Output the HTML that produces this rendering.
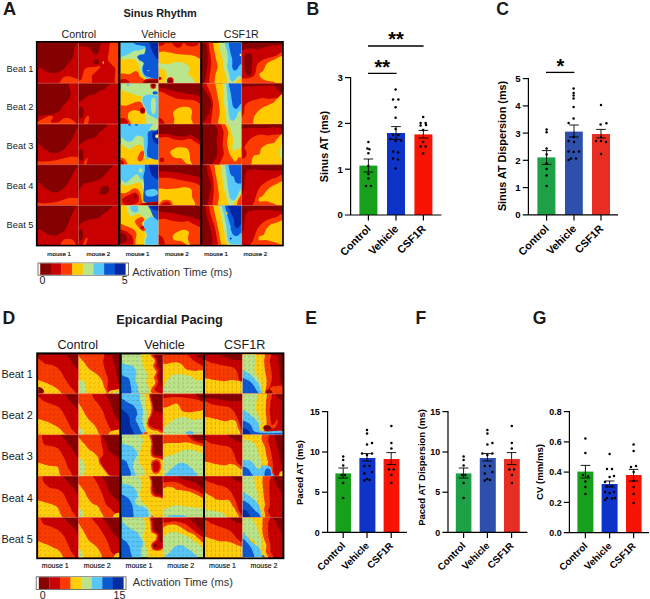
<!DOCTYPE html>
<html lang="en"><head><meta charset="utf-8"><title>Figure</title>
<style>html,body{margin:0;padding:0;background:#fff}svg{display:block}</style></head><body>
<svg width="650" height="599" viewBox="0 0 650 599">
<rect width="650" height="599" fill="#fff"/>
<defs><filter id="soft" x="-2%" y="-2%" width="104%" height="104%"><feGaussianBlur stdDeviation="0.45"/></filter></defs>
<text x="2.9" y="15.2" font-size="18.2" font-family="Liberation Sans, sans-serif" font-weight="bold" text-anchor="start" fill="#1a1a1a">A</text>
<text x="306.4" y="15.2" font-size="17.6" font-family="Liberation Sans, sans-serif" font-weight="bold" text-anchor="start" fill="#1a1a1a">B</text>
<text x="496.2" y="15.2" font-size="17.6" font-family="Liberation Sans, sans-serif" font-weight="bold" text-anchor="start" fill="#1a1a1a">C</text>
<text x="2.4" y="323.6" font-size="17.6" font-family="Liberation Sans, sans-serif" font-weight="bold" text-anchor="start" fill="#1a1a1a">D</text>
<text x="305.2" y="324.3" font-size="17.6" font-family="Liberation Sans, sans-serif" font-weight="bold" text-anchor="start" fill="#1a1a1a">E</text>
<text x="415.6" y="324.3" font-size="17.6" font-family="Liberation Sans, sans-serif" font-weight="bold" text-anchor="start" fill="#1a1a1a">F</text>
<text x="532.8" y="324.3" font-size="17.6" font-family="Liberation Sans, sans-serif" font-weight="bold" text-anchor="start" fill="#1a1a1a">G</text>
<text x="160.2" y="17.1" font-size="10.9" font-family="Liberation Sans, sans-serif" font-weight="bold" text-anchor="middle" fill="#1a1a1a">Sinus Rhythm</text>
<text x="78.8" y="37.7" font-size="10.7" font-family="Liberation Sans, sans-serif" text-anchor="middle" fill="#1a1a1a">Control</text>
<text x="158.6" y="37.7" font-size="10.7" font-family="Liberation Sans, sans-serif" text-anchor="middle" fill="#1a1a1a">Vehicle</text>
<text x="241.3" y="37.7" font-size="10.7" font-family="Liberation Sans, sans-serif" text-anchor="middle" fill="#1a1a1a">CSF1R</text>
<text x="6.6" y="71.8" font-size="9.3" font-family="Liberation Sans, sans-serif" text-anchor="start" fill="#1a1a1a">Beat 1</text>
<text x="6.6" y="110.4" font-size="9.3" font-family="Liberation Sans, sans-serif" text-anchor="start" fill="#1a1a1a">Beat 2</text>
<text x="6.6" y="149.4" font-size="9.3" font-family="Liberation Sans, sans-serif" text-anchor="start" fill="#1a1a1a">Beat 3</text>
<text x="6.6" y="188.6" font-size="9.3" font-family="Liberation Sans, sans-serif" text-anchor="start" fill="#1a1a1a">Beat 4</text>
<text x="6.6" y="227.5" font-size="9.3" font-family="Liberation Sans, sans-serif" text-anchor="start" fill="#1a1a1a">Beat 5</text>
<rect x="35.9" y="41" width="247.9" height="205.4" fill="#000"/>
<g filter="url(#soft)">
<svg x="37.6" y="42.7" width="40.8" height="40.5" viewBox="0 0 100 100" preserveAspectRatio="none">
<rect x="-1" y="-1" width="102" height="102" fill="#c80303"/>
<path d="M-5 -5C10.5 -15.5 72.17 -8.33 88 -5C103.83 -1.67 90.33 8.33 90 15C89.67 21.67 88.5 28.83 86 35C83.5 41.17 79.33 46.5 75 52C70.67 57.5 65.5 64.17 60 68C54.5 71.83 48.33 74.33 42 75C35.67 75.67 27.67 74.17 22 72C16.33 69.83 12.5 64.33 8 62C3.5 59.67 -2.83 69.17 -5 58C-7.17 46.83 -20.5 5.5 -5 -5Z" fill="#850000"/>
<path d="M57 105C49.17 102.83 56.83 95.33 58 92C59.17 88.67 60.67 86.5 64 85C67.33 83.5 73.67 82.67 78 83C82.33 83.33 85.5 85.5 90 87C94.5 88.5 102.5 89 105 92C107.5 95 113 102.83 105 105C97 107.17 64.83 107.17 57 105Z" fill="#fb3a02"/>
</svg>
<svg x="78.4" y="42.7" width="40" height="40.5" viewBox="0 0 100 100" preserveAspectRatio="none">
<rect x="-1" y="-1" width="102" height="102" fill="#c80303"/>
<path d="M-5 -5C4.5 -7.5 42.17 -7.5 52 -5C61.83 -2.5 54.33 5 54 10C53.67 15 52 21.67 50 25C48 28.33 44.67 30.5 42 30C39.33 29.5 36.83 25 34 22C31.17 19 29 14.33 25 12C21 9.67 15 8.33 10 8C5 7.67 -2.5 12.17 -5 10C-7.5 7.83 -14.5 -2.5 -5 -5Z" fill="#850000"/>
<ellipse cx="45" cy="47" rx="7" ry="7" fill="#850000"/>
<path d="M82 -5C86.83 -10 101.17 -22 105 -5C108.83 12 107.33 80 105 97C102.67 114 93.17 102.33 91 97C88.83 91.67 93.17 72 92 65C90.83 58 87 58.83 84 55C81 51.17 75.33 47 74 42C72.67 37 74.67 32.83 76 25C77.33 17.17 77.17 0 82 -5Z" fill="#fb3a02"/>
<path d="M17 64C22.33 59 33.67 60.83 40 60C46.33 59.17 54 57.33 55 59C56 60.67 49.5 66.17 46 70C42.5 73.83 36.5 76.17 34 82C31.5 87.83 37.5 101.17 31 105C24.5 108.83 1 106.67 -5 105C-11 103.33 -7.17 97.5 -5 95C-2.83 92.5 4.33 95.17 8 90C11.67 84.83 11.67 69 17 64Z" fill="#fb3a02"/>
<ellipse cx="62" cy="49" rx="1.5" ry="4" fill="#ffcb02"/>
</svg>
<svg x="120.4" y="42.7" width="38.2" height="40.5" viewBox="0 0 100 100" preserveAspectRatio="none">
<rect x="-1" y="-1" width="102" height="102" fill="#b9e58c"/>
<path d="M-5 42C-2.5 33.67 5 42.33 10 42C15 41.67 20.33 40 25 40C29.67 40 34.5 40.33 38 42C41.5 43.67 44 46.67 46 50C48 53.33 48.67 58 50 62C51.33 66 52.33 70.67 54 74C55.67 77.33 58.67 79 60 82C61.33 85 72.83 90.33 62 92C51.17 93.67 6.17 100.33 -5 92C-16.17 83.67 -7.5 50.33 -5 42Z" fill="#ffcb02"/>
<path d="M-5 80C-2.5 75.17 5.5 76.33 10 76C14.5 75.67 18.17 78.5 22 78C25.83 77.5 30 74.33 33 73C36 71.67 37.67 69.83 40 70C42.33 70.17 45.33 72 47 74C48.67 76 48.17 79.67 50 82C51.83 84.33 55.33 86.33 58 88C60.67 89.67 58.17 91.33 66 92C73.83 92.67 98.5 89.83 105 92C111.5 94.17 123.33 102.83 105 105C86.67 107.17 13.33 109.17 -5 105C-23.33 100.83 -7.5 84.83 -5 80Z" fill="#fb3a02"/>
<path d="M-5 93C-1.67 90.5 10 88.83 15 90C20 91.17 23.83 97.5 25 100C26.17 102.5 27 104.17 22 105C17 105.83 -0.5 107 -5 105C-9.5 103 -8.33 95.5 -5 93Z" fill="#c80303"/>
<path d="M60 105C52.83 103 60 95.67 62 93C64 90.33 67.33 89.67 72 89C76.67 88.33 84.5 88.83 90 89C95.5 89.17 102.5 87.33 105 90C107.5 92.67 112.5 102.5 105 105C97.5 107.5 67.17 107 60 105Z" fill="#c80303"/>
<path d="M64 105C57.5 103.5 64.17 98 66 96C67.83 94 71 93.5 75 93C79 92.5 85 92.83 90 93C95 93.17 102.5 92 105 94C107.5 96 111.83 103.17 105 105C98.17 106.83 70.5 106.5 64 105Z" fill="#850000"/>
<path d="M-5 -5C7.17 -11.33 56.17 -7.83 68 -5C79.83 -2.17 69 8 66 12C63 16 55.5 17.5 50 19C44.5 20.5 38.33 19.17 33 21C27.67 22.83 24.33 28 18 30C11.67 32 -1.17 38.83 -5 33C-8.83 27.17 -17.17 1.33 -5 -5Z" fill="#56c8fa"/>
<path d="M46 34C44 32 57.33 25.33 60 28C62.67 30.67 62.67 44.33 62 50C61.33 55.67 56.67 57.33 56 62C55.33 66.67 56.33 74 58 78C59.67 82 63.33 84.67 66 86C68.67 87.33 73 93.67 74 86C75 78.33 76.67 48.67 72 40C67.33 31.33 48 36 46 34Z" fill="#56c8fa"/>
<path d="M64 -5C70.5 -8.17 98.17 -19.5 105 -5C111.83 9.5 110.5 67.17 105 82C99.5 96.83 79.33 85 72 84C64.67 83 63.33 79.67 61 76C58.67 72.33 58 66.33 58 62C58 57.67 62.17 53 61 50C59.83 47 53.83 46.33 51 44C48.17 41.67 44 38.33 44 36C44 33.67 48 31.33 51 30C54 28.67 59.5 30.67 62 28C64.5 25.33 65.67 19.5 66 14C66.33 8.5 57.5 -1.83 64 -5Z" fill="#0858d6"/>
<path d="M34 -5C45.17 -6.33 93.17 -6.83 105 -5C116.83 -3.17 111.17 3.83 105 6C98.83 8.17 77.17 8 68 8C58.83 8 55 6.83 50 6C45 5.17 40.67 4.83 38 3C35.33 1.17 22.83 -3.67 34 -5Z" fill="#0858d6"/>
<path d="M78 -5C82.17 -7.83 100.5 -12.5 105 -5C109.5 2.5 106.83 32.83 105 40C103.17 47.17 97.17 40.33 94 38C90.83 35.67 88.33 30.33 86 26C83.67 21.67 81.33 17.17 80 12C78.67 6.83 73.83 -2.17 78 -5Z" fill="#0428a4"/>
<ellipse cx="73" cy="69" rx="2.5" ry="1.2" fill="#ffffff"/>
</svg>
<svg x="158.6" y="42.7" width="41.8" height="40.5" viewBox="0 0 100 100" preserveAspectRatio="none">
<rect x="-1" y="-1" width="102" height="102" fill="#ffcb02"/>
<path d="M-5 -5C13.33 -9.5 86.67 -12.17 105 -5C123.33 2.17 108.33 31.83 105 38C101.67 44.17 91.67 33.33 85 32C78.33 30.67 71.67 30.67 65 30C58.33 29.33 51.67 29 45 28C38.33 27 30.83 25 25 24C19.17 23 15 22.33 10 22C5 21.67 -2.5 26.5 -5 22C-7.5 17.5 -23.33 -0.5 -5 -5Z" fill="#fb3a02"/>
<path d="M32 -5C35.67 -6.83 54.17 -7.17 58 -5C61.83 -2.83 57.17 5.17 55 8C52.83 10.83 48.17 12.33 45 12C41.83 11.67 38.17 8.83 36 6C33.83 3.17 28.33 -3.17 32 -5Z" fill="#c80303"/>
<path d="M62 -5C66.83 -6.67 90 -6.83 95 -5C100 -3.17 94.83 3.67 92 6C89.17 8.33 82.33 9.17 78 9C73.67 8.83 68.67 7.33 66 5C63.33 2.67 57.17 -3.33 62 -5Z" fill="#c80303"/>
<path d="M-5 -5C-1.67 -7.17 12.17 -6.67 15 -5C17.83 -3.33 15.33 2.83 12 5C8.67 7.17 -2.17 9.67 -5 8C-7.83 6.33 -8.33 -2.83 -5 -5Z" fill="#c80303"/>
<path d="M-5 50C-2.5 48.67 5.5 51.5 10 52C14.5 52.5 16.67 53.67 22 53C27.33 52.33 35.5 48.5 42 48C48.5 47.5 55.67 47.5 61 50C66.33 52.5 72.33 58.33 74 63C75.67 67.67 69.83 73.83 71 78C72.17 82.17 79 83.5 81 88C83 92.5 93.5 102.17 83 105C72.5 107.83 28.5 108.67 18 105C7.5 101.33 20.5 89.17 20 83C19.5 76.83 19.17 71.83 15 68C10.83 64.17 -1.67 63 -5 60C-8.33 57 -7.5 51.33 -5 50Z" fill="#b9e58c"/>
<ellipse cx="28" cy="94" rx="8" ry="9" fill="#c80303"/>
<ellipse cx="28" cy="95" rx="5" ry="6" fill="#850000"/>
<ellipse cx="3" cy="88" rx="4" ry="4" fill="#c80303"/>
</svg>
<svg x="202.4" y="42.7" width="39.3" height="40.5" viewBox="0 0 100 100" preserveAspectRatio="none">
<rect x="-1" y="-1" width="102" height="102" fill="#ffcb02"/>
<path d="M42 -5C52.5 -6.17 94.5 -23.33 105 -5C115.5 13.33 111.5 86.67 105 105C98.5 123.33 73.17 107.5 66 105C58.83 102.5 63.17 94.33 62 90C60.83 85.67 60.33 84 59 79C57.67 74 55.17 66.17 54 60C52.83 53.83 53.33 48.17 52 42C50.67 35.83 47.67 29.67 46 23C44.33 16.33 42.67 6.67 42 2C41.33 -2.67 31.5 -3.83 42 -5Z" fill="#b9e58c"/>
<path d="M85 105C82.17 103 84.67 95.5 88 93C91.33 90.5 102.17 88 105 90C107.83 92 108.33 102.5 105 105C101.67 107.5 87.83 107 85 105Z" fill="#ffcb02"/>
<path d="M57 -5C65 -6.17 97 -18.83 105 -5C113 8.83 107.17 63.5 105 78C102.83 92.5 95.5 80 92 82C88.5 84 86.67 87.67 84 90C81.33 92.33 78.33 96.33 76 96C73.67 95.67 71.17 90.83 70 88C68.83 85.17 70.17 83.67 69 79C67.83 74.33 63.67 66.17 63 60C62.33 53.83 65 48.17 65 42C65 35.83 64.33 29.67 63 23C61.67 16.33 58 6.67 57 2C56 -2.67 49 -3.83 57 -5Z" fill="#56c8fa"/>
<path d="M67 -5C73.33 -6.17 98.67 -14.17 105 -5C111.33 4.17 106.5 40.17 105 50C103.5 59.83 98.83 51.33 96 54C93.17 56.67 90.67 63.67 88 66C85.33 68.33 82 69 80 68C78 67 76.67 64.33 76 60C75.33 55.67 76.83 48.17 76 42C75.17 35.83 72.5 29.67 71 23C69.5 16.33 67.67 6.67 67 2C66.33 -2.67 60.67 -3.83 67 -5Z" fill="#0858d6"/>
<ellipse cx="97" cy="30" rx="2.2" ry="3" fill="#ffffff"/>
<path d="M-5 -5C0.33 -23.33 21.67 -6.17 27 -5C32.33 -3.83 26.33 -2.67 27 2C27.67 6.67 29.67 16.33 31 23C32.33 29.67 33.67 35.83 35 42C36.33 48.17 39.33 53.83 39 60C38.67 66.17 34.33 73 33 79C31.67 85 31.33 91.67 31 96C30.67 100.33 37 103.5 31 105C25 106.5 1 123.33 -5 105C-11 86.67 -10.33 13.33 -5 -5Z" fill="#fb3a02"/>
<path d="M-5 -5C-1.5 -23.33 12.5 -6.17 16 -5C19.5 -3.83 15.5 -2.67 16 2C16.5 6.67 18 16.33 19 23C20 29.67 21.5 35.83 22 42C22.5 48.17 22.5 53.83 22 60C21.5 66.17 19.83 73 19 79C18.17 85 17.33 91.67 17 96C16.67 100.33 20.67 103.5 17 105C13.33 106.5 -1.33 123.33 -5 105C-8.67 86.67 -8.5 13.33 -5 -5Z" fill="#c80303"/>
<path d="M-5 -5C-2.5 -23.33 7.5 -6.17 10 -5C12.5 -3.83 9.5 -2.67 10 2C10.5 6.67 12.33 16.33 13 23C13.67 29.67 14.17 35.83 14 42C13.83 48.17 12.83 53.83 12 60C11.17 66.17 10 73 9 79C8 85 6.5 91.67 6 96C5.5 100.33 7.83 103.5 6 105C4.17 106.5 -3.17 123.33 -5 105C-6.83 86.67 -7.5 13.33 -5 -5Z" fill="#850000"/>
</svg>
<svg x="241.7" y="42.7" width="40.4" height="40.5" viewBox="0 0 100 100" preserveAspectRatio="none">
<rect x="-1" y="-1" width="102" height="102" fill="#c80303"/>
<path d="M105 28C101.67 15.83 91.67 30.33 85 32C78.33 33.67 71.17 35.83 65 38C58.83 40.17 52.5 42.17 48 45C43.5 47.83 40.17 50.83 38 55C35.83 59.17 36.33 65.5 35 70C33.67 74.5 33.33 79 30 82C26.67 85 20.83 86.67 15 88C9.17 89.33 -1.67 87.17 -5 90C-8.33 92.83 -23.33 102.5 -5 105C13.33 107.5 86.67 117.83 105 105C123.33 92.17 108.33 40.17 105 28Z" fill="#fb3a02"/>
<path d="M105 36C100.83 26.67 87.17 39.33 80 42C72.83 44.67 66.33 47.67 62 52C57.67 56.33 57 63.67 54 68C51 72.33 44.33 74.33 44 78C43.67 81.67 46.83 87 52 90C57.17 93 66.17 94.67 75 96C83.83 97.33 100 108 105 98C110 88 109.17 45.33 105 36Z" fill="#ffcb02"/>
<path d="M-5 -5C13.33 -8.83 86.67 -6.67 105 -5C123.33 -3.33 109.17 3.17 105 5C100.83 6.83 87.5 5.17 80 6C72.5 6.83 66.67 8.33 60 10C53.33 11.67 46.67 15.33 40 16C33.33 16.67 27.5 13.67 20 14C12.5 14.33 -0.83 21.17 -5 18C-9.17 14.83 -23.33 -1.17 -5 -5Z" fill="#850000"/>
<path d="M8 30C10 26 15 25.67 18 26C21 26.33 24.67 27.17 26 32C27.33 36.83 26.33 47.83 26 55C25.67 62.17 25.67 70.5 24 75C22.33 79.5 18.67 82.5 16 82C13.33 81.5 9.67 77.33 8 72C6.33 66.67 6 57 6 50C6 43 6 34 8 30Z" fill="#850000"/>
</svg>
<svg x="37.6" y="83.2" width="40.8" height="40.8" viewBox="0 0 100 100" preserveAspectRatio="none">
<rect x="-1" y="-1" width="102" height="102" fill="#c80303"/>
<path d="M-5 -5C6.83 -18.33 52.17 -7.67 66 -5C79.83 -2.33 75.5 5.67 78 11C80.5 16.33 81.67 21.67 81 27C80.33 32.33 77.17 38.33 74 43C70.83 47.67 65.17 51 62 55C58.83 59 59 63.5 55 67C51 70.5 44.17 74.17 38 76C31.83 77.83 25.17 78.17 18 78C10.83 77.83 -1.17 88.83 -5 75C-8.83 61.17 -16.83 8.33 -5 -5Z" fill="#850000"/>
<path d="M-5 98C-2.17 95.17 6.17 91 12 88C17.83 85 25.67 80.67 30 80C34.33 79.33 37.67 81.5 38 84C38.33 86.5 30 93 32 95C34 97 44.5 97.5 50 96C55.5 94.5 59.67 87.33 65 86C70.33 84.67 77.83 84.83 82 88C86.17 91.17 104.5 102.17 90 105C75.5 107.83 10.83 106.17 -5 105C-20.83 103.83 -7.83 100.83 -5 98Z" fill="#fb3a02"/>
</svg>
<svg x="78.4" y="83.2" width="40" height="40.8" viewBox="0 0 100 100" preserveAspectRatio="none">
<rect x="-1" y="-1" width="102" height="102" fill="#c80303"/>
<path d="M-5 -5C8.17 -13.33 62 -8 74 -5C86 -2 71 8.83 67 13C63 17.17 54.5 17.5 50 20C45.5 22.5 44 26.33 40 28C36 29.67 30.67 28 26 30C21.33 32 17.17 37.5 12 40C6.83 42.5 -2.17 52.5 -5 45C-7.83 37.5 -18.17 3.33 -5 -5Z" fill="#850000"/>
<ellipse cx="7" cy="71" rx="6" ry="14" fill="#850000"/>
<path d="M14 105C13.17 102.17 14.33 92.17 16 88C17.67 83.83 22.17 80 24 80C25.83 80 27.5 83.83 27 88C26.5 92.17 23.17 102.17 21 105C18.83 107.83 14.83 107.83 14 105Z" fill="#fb3a02"/>
</svg>
<svg x="120.4" y="83.2" width="38.2" height="40.8" viewBox="0 0 100 100" preserveAspectRatio="none">
<rect x="-1" y="-1" width="102" height="102" fill="#b9e58c"/>
<path d="M-5 22C-1.67 8.17 9.17 21.5 15 22C20.83 22.5 25.5 23.67 30 25C34.5 26.33 37.83 28.83 42 30C46.17 31.17 52.83 30 55 32C57.17 34 56.67 39.67 55 42C53.33 44.33 45 43.83 45 46C45 48.17 52.17 51.83 55 55C57.83 58.17 60.83 56.67 62 65C63.17 73.33 73.17 98.33 62 105C50.83 111.67 6.17 118.83 -5 105C-16.17 91.17 -8.33 35.83 -5 22Z" fill="#ffcb02"/>
<path d="M-5 58C-1.67 49.67 8.33 56.67 15 55C21.67 53.33 29.17 49.67 35 48C40.83 46.33 46.17 44.33 50 45C53.83 45.67 56.33 48.67 58 52C59.67 55.33 61.67 62.33 60 65C58.33 67.67 52.17 67.83 48 68C43.83 68.17 39.33 65.33 35 66C30.67 66.67 24.5 68.83 22 72C19.5 75.17 19 79.5 20 85C21 90.5 32.17 101.67 28 105C23.83 108.33 0.5 112.83 -5 105C-10.5 97.17 -8.33 66.33 -5 58Z" fill="#fb3a02"/>
<ellipse cx="58" cy="67" rx="7" ry="8" fill="#c80303"/>
<ellipse cx="58" cy="68" rx="4" ry="5" fill="#850000"/>
<path d="M-5 88C-2.5 84.83 5.83 84.83 10 86C14.17 87.17 18 91.83 20 95C22 98.17 26.17 103.33 22 105C17.83 106.67 -0.5 107.83 -5 105C-9.5 102.17 -7.5 91.17 -5 88Z" fill="#c80303"/>
<path d="M60 33C62.83 30.17 70 28.5 75 28C80 27.5 85 28.83 90 30C95 31.17 102.5 25.83 105 35C107.5 44.17 108.33 77.17 105 85C101.67 92.83 90.5 83.67 85 82C79.5 80.33 75.33 78.67 72 75C68.67 71.33 67.33 65 65 60C62.67 55 58.83 49.5 58 45C57.17 40.5 57.17 35.83 60 33Z" fill="#56c8fa"/>
<path d="M82 38C84 34.67 90.33 34.67 92 40C93.67 45.33 93.33 64.17 92 70C90.67 75.83 86 76.67 84 75C82 73.33 80.33 66.17 80 60C79.67 53.83 80 41.33 82 38Z" fill="#b9e58c"/>
<ellipse cx="86" cy="6" rx="8" ry="8" fill="#fb3a02"/>
<ellipse cx="86" cy="6" rx="5.5" ry="5.5" fill="#850000"/>
<ellipse cx="91" cy="24" rx="7" ry="4" fill="#0858d6"/>
<ellipse cx="20" cy="4" rx="4" ry="3" fill="#56c8fa"/>
</svg>
<svg x="158.6" y="83.2" width="41.8" height="40.8" viewBox="0 0 100 100" preserveAspectRatio="none">
<rect x="-1" y="-1" width="102" height="102" fill="#fb3a02"/>
<path d="M-5 -5C13.33 -8.83 86.67 -13.83 105 -5C123.33 3.83 108.33 40.17 105 48C101.67 55.83 91.67 43.33 85 42C78.33 40.67 71.67 40.67 65 40C58.33 39.33 51.67 39.67 45 38C38.33 36.33 30.83 32.67 25 30C19.17 27.33 15 24 10 22C5 20 -2.5 22.5 -5 18C-7.5 13.5 -23.33 -1.17 -5 -5Z" fill="#c80303"/>
<path d="M-5 -5C13.33 -7.17 86.67 -11.17 105 -5C123.33 1.17 108.33 26.5 105 32C101.67 37.5 92.5 29.33 85 28C77.5 26.67 67.5 25.33 60 24C52.5 22.67 46.67 21.67 40 20C33.33 18.33 27.5 16 20 14C12.5 12 -0.83 11.17 -5 8C-9.17 4.83 -23.33 -2.83 -5 -5Z" fill="#850000"/>
<path d="M35 72C36.17 67.67 40.83 64.33 45 62C49.17 59.67 55 58.33 60 58C65 57.67 71.67 58 75 60C78.33 62 79.5 65.83 80 70C80.5 74.17 78 79.17 78 85C78 90.83 86.33 101.67 80 105C73.67 108.33 47 107.83 40 105C33 102.17 38.83 93.5 38 88C37.17 82.5 33.83 76.33 35 72Z" fill="#ffcb02"/>
<path d="M-5 85C-2.83 82.17 4.67 84.67 8 88C11.33 91.33 17.17 102.17 15 105C12.83 107.83 -1.67 108.33 -5 105C-8.33 101.67 -7.17 87.83 -5 85Z" fill="#c80303"/>
</svg>
<svg x="202.4" y="83.2" width="39.3" height="40.8" viewBox="0 0 100 100" preserveAspectRatio="none">
<rect x="-1" y="-1" width="102" height="102" fill="#ffcb02"/>
<path d="M52 -5C60.83 -6.17 96.17 -23.33 105 -5C113.83 13.33 112 86.67 105 105C98 123.33 70.33 106.83 63 105C55.67 103.17 61.67 99.5 61 94C60.33 88.5 60 79.5 59 72C58 64.5 55.83 57.17 55 49C54.17 40.83 54.5 30.83 54 23C53.5 15.17 52.33 6.67 52 2C51.67 -2.67 43.17 -3.83 52 -5Z" fill="#b9e58c"/>
<path d="M61 -5C68.33 -6.17 97.67 -16.17 105 -5C112.33 6.17 107.17 49.5 105 62C102.83 74.5 95.17 66.33 92 70C88.83 73.67 88.33 80.33 86 84C83.67 87.67 80.67 91.33 78 92C75.33 92.67 71.83 91.33 70 88C68.17 84.67 67.83 78.5 67 72C66.17 65.5 65.67 57.17 65 49C64.33 40.83 63.67 30.83 63 23C62.33 15.17 61.33 6.67 61 2C60.67 -2.67 53.67 -3.83 61 -5Z" fill="#56c8fa"/>
<path d="M67 -5C73.33 -6.17 98.67 -13.5 105 -5C111.33 3.5 106.5 36.5 105 46C103.5 55.5 98.83 49.33 96 52C93.17 54.67 90.67 60.67 88 62C85.33 63.33 82 62.17 80 60C78 57.83 77.33 55.17 76 49C74.67 42.83 73.5 30.83 72 23C70.5 15.17 67.83 6.67 67 2C66.17 -2.67 60.67 -3.83 67 -5Z" fill="#0858d6"/>
<path d="M-5 -5C1.33 -23.33 26.67 -6.17 33 -5C39.33 -3.83 32.33 -2.67 33 2C33.67 6.67 35.5 15.17 37 23C38.5 30.83 40.83 40.83 42 49C43.17 57.17 44.33 64.5 44 72C43.67 79.5 40.83 88.5 40 94C39.17 99.5 46.5 103.17 39 105C31.5 106.83 2.33 123.33 -5 105C-12.33 86.67 -11.33 13.33 -5 -5Z" fill="#fb3a02"/>
<path d="M-5 -5C-2.5 -23.33 7.17 -6.83 10 -5C12.83 -3.17 10.33 1.33 12 6C13.67 10.67 17.5 15.83 20 23C22.5 30.17 26.17 40.83 27 49C27.83 57.17 25.83 64.5 25 72C24.17 79.5 22.67 88.5 22 94C21.33 99.5 25.5 103.17 21 105C16.5 106.83 -0.67 123.33 -5 105C-9.33 86.67 -7.5 13.33 -5 -5Z" fill="#c80303"/>
<path d="M-5 14C-3.33 1 2.5 14.5 5 16C7.5 17.5 7.83 19.67 10 23C12.17 26.33 16 31.67 18 36C20 40.33 21.67 44.33 22 49C22.33 53.67 20.67 60.17 20 64C19.33 67.83 19.67 68.67 18 72C16.33 75.33 12.17 80.67 10 84C7.83 87.33 7.5 90.33 5 92C2.5 93.67 -3.33 107 -5 94C-6.67 81 -6.67 27 -5 14Z" fill="#850000"/>
</svg>
<svg x="241.7" y="83.2" width="40.4" height="40.8" viewBox="0 0 100 100" preserveAspectRatio="none">
<rect x="-1" y="-1" width="102" height="102" fill="#fb3a02"/>
<path d="M-5 -5C13.33 -19.17 86.67 -11.17 105 -5C123.33 1.17 108.33 25.17 105 32C101.67 38.83 91.67 35 85 36C78.33 37 70.83 38 65 38C59.17 38 55 35.67 50 36C45 36.33 40 38.5 35 40C30 41.5 24.5 42.5 20 45C15.5 47.5 10.5 50 8 55C5.5 60 7.17 70.83 5 75C2.83 79.17 -3.33 93.33 -5 80C-6.67 66.67 -23.33 9.17 -5 -5Z" fill="#c80303"/>
<path d="M-5 -5C13.33 -7.17 86.67 -6.83 105 -5C123.33 -3.17 112.5 4.17 105 6C97.5 7.83 78.33 5.67 60 6C41.67 6.33 5.83 9.83 -5 8C-15.83 6.17 -23.33 -2.83 -5 -5Z" fill="#850000"/>
<path d="M84 6C85.33 3.33 96.5 3.33 100 4C103.5 4.67 104.17 7 105 10C105.83 13 107.17 20.33 105 22C102.83 23.67 95.5 22.67 92 20C88.5 17.33 82.67 8.67 84 6Z" fill="#850000"/>
<path d="M105 30C102.17 18.83 92.5 35 88 38C83.5 41 82.33 45.17 78 48C73.67 50.83 67 52.67 62 55C57 57.33 52 59.17 48 62C44 64.83 41 68 38 72C35 76 30.33 80.5 30 86C29.67 91.5 23.5 101.83 36 105C48.5 108.17 93.5 117.5 105 105C116.5 92.5 107.83 41.17 105 30Z" fill="#ffcb02"/>
</svg>
<svg x="37.6" y="124" width="40.8" height="40.8" viewBox="0 0 100 100" preserveAspectRatio="none">
<rect x="-1" y="-1" width="102" height="102" fill="#c80303"/>
<path d="M-5 -5C11.67 -13.5 78.83 -9.17 95 -5C111.17 -0.83 94.17 12.5 92 20C89.83 27.5 86 33.67 82 40C78 46.33 73 53.17 68 58C63 62.83 57.5 66.83 52 69C46.5 71.17 40.67 72.17 35 71C29.33 69.83 23 65.5 18 62C13 58.5 8.83 52.67 5 50C1.17 47.33 -3.33 55.17 -5 46C-6.67 36.83 -21.67 3.5 -5 -5Z" fill="#850000"/>
<path d="M-5 92C-1.17 89.83 9.17 92.67 18 92C26.83 91.33 39 89.67 48 88C57 86.33 65.33 83.33 72 82C78.67 80.67 82.5 79.67 88 80C93.5 80.33 102.17 79.83 105 84C107.83 88.17 123.33 101.5 105 105C86.67 108.5 13.33 107.17 -5 105C-23.33 102.83 -8.83 94.17 -5 92Z" fill="#fb3a02"/>
</svg>
<svg x="78.4" y="124" width="40" height="40.8" viewBox="0 0 100 100" preserveAspectRatio="none">
<rect x="-1" y="-1" width="102" height="102" fill="#c80303"/>
<path d="M-5 -5C7.17 -14.17 55.83 -7.17 68 -5C80.17 -2.83 70.67 3.83 68 8C65.33 12.17 56 16 52 20C48 24 48.67 29 44 32C39.33 35 29.83 35.67 24 38C18.17 40.33 13.83 44 9 46C4.17 48 -2.67 58.5 -5 50C-7.33 41.5 -17.17 4.17 -5 -5Z" fill="#850000"/>
<ellipse cx="7" cy="76" rx="6" ry="15" fill="#850000"/>
<path d="M13 98C12.83 95.83 17.33 88.33 19 86C20.67 83.67 22.83 81.83 23 84C23.17 86.17 21.67 96.67 20 99C18.33 101.33 13.17 100.17 13 98Z" fill="#fb3a02"/>
</svg>
<svg x="120.4" y="124" width="38.2" height="40.8" viewBox="0 0 100 100" preserveAspectRatio="none">
<rect x="-1" y="-1" width="102" height="102" fill="#b9e58c"/>
<path d="M-5 50C-2.5 41.67 5 53 10 55C15 57 20.83 62 25 62C29.17 62 30.83 57 35 55C39.17 53 46.17 49.83 50 50C53.83 50.17 56 52.67 58 56C60 59.33 60.33 65.17 62 70C63.67 74.83 60.83 83 68 85C75.17 87 98.83 78.67 105 82C111.17 85.33 123.33 101.17 105 105C86.67 108.83 13.33 114.17 -5 105C-23.33 95.83 -7.5 58.33 -5 50Z" fill="#ffcb02"/>
<path d="M45 85C45 81.67 47.83 75.33 50 72C52.17 68.67 56 65 58 65C60 65 62 68.17 62 72C62 75.83 60 84.67 58 88C56 91.33 52.17 92.5 50 92C47.83 91.5 45 88.33 45 85Z" fill="#fb3a02"/>
<path d="M-5 85C-2.83 81.5 4.5 82.83 8 84C11.5 85.17 14.33 88.5 16 92C17.67 95.5 21.5 102.83 18 105C14.5 107.17 -1.17 108.33 -5 105C-8.83 101.67 -7.17 88.5 -5 85Z" fill="#fb3a02"/>
<path d="M-5 90C-3.17 87.5 3.5 87.5 6 90C8.5 92.5 11.83 102.5 10 105C8.17 107.5 -2.5 107.5 -5 105C-7.5 102.5 -6.83 92.5 -5 90Z" fill="#c80303"/>
<path d="M-5 -5C9.17 -10.83 66.17 -7.5 80 -5C93.83 -2.5 79.67 5 78 10C76.33 15 72 20.33 70 25C68 29.67 68 36.83 66 38C64 39.17 61 33.67 58 32C55 30.33 51.33 28 48 28C44.67 28 41 29.67 38 32C35 34.33 33.83 40.33 30 42C26.17 43.67 19.17 43.33 15 42C10.83 40.67 8.33 36 5 34C1.67 32 -3.33 36.5 -5 30C-6.67 23.5 -19.17 0.83 -5 -5Z" fill="#56c8fa"/>
<path d="M62 25C64 18.33 72 10.5 74 20C76 29.5 75.33 71.67 74 82C72.67 92.33 68 85.67 66 82C64 78.33 62.67 69.5 62 60C61.33 50.5 60 31.67 62 25Z" fill="#56c8fa"/>
<path d="M72 22C73.33 17.17 76.67 17 80 16C83.33 15 87.83 16.33 92 16C96.17 15.67 102.83 3 105 14C107.17 25 110 70.67 105 82C100 93.33 80.83 84 75 82C69.17 80 70.5 76.17 70 70C69.5 63.83 71.67 53 72 45C72.33 37 70.67 26.83 72 22Z" fill="#0858d6"/>
<path d="M84 22C85.5 18.67 90.5 18.67 94 18C97.5 17.33 103.17 13 105 18C106.83 23 107.17 43.33 105 48C102.83 52.67 95.33 47.67 92 46C88.67 44.33 86.33 42 85 38C83.67 34 82.5 25.33 84 22Z" fill="#0428a4"/>
<ellipse cx="96" cy="30" rx="5" ry="5" fill="#ffcb02"/>
<ellipse cx="96" cy="30" rx="2.2" ry="2.2" fill="#ffffff"/>
<ellipse cx="24" cy="1" rx="4" ry="3.5" fill="#0858d6"/>
<ellipse cx="42" cy="1" rx="4" ry="3.5" fill="#0858d6"/>
</svg>
<svg x="158.6" y="124" width="41.8" height="40.8" viewBox="0 0 100 100" preserveAspectRatio="none">
<rect x="-1" y="-1" width="102" height="102" fill="#fb3a02"/>
<path d="M-5 -5C13.33 -10.83 86.67 -13.83 105 -5C123.33 3.83 107.83 39.83 105 48C102.17 56.17 93 46 88 44C83 42 80.5 36.67 75 36C69.5 35.33 61.17 39.67 55 40C48.83 40.33 43.83 39.33 38 38C32.17 36.67 27.17 33.33 20 32C12.83 30.67 -0.83 36.17 -5 30C-9.17 23.83 -23.33 0.83 -5 -5Z" fill="#c80303"/>
<path d="M-5 -5C13.33 -9.5 86.67 -12.33 105 -5C123.33 2.33 107.5 32.33 105 39C102.5 45.67 94.5 37 90 35C85.5 33 83 27.67 78 27C73 26.33 66.33 30.67 60 31C53.67 31.33 46.67 30.17 40 29C33.33 27.83 27.5 25.17 20 24C12.5 22.83 -0.83 26.83 -5 22C-9.17 17.17 -23.33 -0.5 -5 -5Z" fill="#850000"/>
<path d="M28 68C29 65 34 61.83 38 60C42 58.17 47 57 52 57C57 57 64.33 57.5 68 60C71.67 62.5 72.67 67 74 72C75.33 77 75 85.33 76 90C77 94.67 81.67 99 80 100C78.33 101 70.33 98.67 66 96C61.67 93.33 58 86 54 84C50 82 45.67 85 42 84C38.33 83 34.33 80.67 32 78C29.67 75.33 27 71 28 68Z" fill="#ffcb02"/>
<ellipse cx="8" cy="88" rx="6" ry="6" fill="#c80303"/>
</svg>
<svg x="202.4" y="124" width="39.3" height="40.8" viewBox="0 0 100 100" preserveAspectRatio="none">
<rect x="-1" y="-1" width="102" height="102" fill="#850000"/>
<path d="M36 -5C46.83 -8.83 93.5 -23.33 105 -5C116.5 13.33 117.83 86.67 105 105C92.17 123.33 39.5 109.17 28 105C16.5 100.83 34.33 87.5 36 80C37.67 72.5 38 66.67 38 60C38 53.33 35.67 47 36 40C36.33 33 40 25.5 40 18C40 10.5 25.17 -1.17 36 -5Z" fill="#c80303"/>
<path d="M50 -5C58.5 -9.17 95.83 -23.33 105 -5C114.17 13.33 114.83 86.67 105 105C95.17 123.33 54.5 110 46 105C37.5 100 53 84.17 54 75C55 65.83 52 59.17 52 50C52 40.83 54.33 29.17 54 20C53.67 10.83 41.5 -0.83 50 -5Z" fill="#fb3a02"/>
<path d="M60 -5C66.5 -9.17 97.5 -18.17 105 -5C112.5 8.17 107.17 59.5 105 74C102.83 88.5 95.5 79 92 82C88.5 85 86.67 91.67 84 92C81.33 92.33 78.67 87.67 76 84C73.33 80.33 70.17 76.5 68 70C65.83 63.5 63.33 53.33 63 45C62.67 36.67 66.5 28.33 66 20C65.5 11.67 53.5 -0.83 60 -5Z" fill="#ffcb02"/>
<path d="M66 -5C71.17 -9.17 98.5 -14.5 105 -5C111.5 4.5 107.17 41.17 105 52C102.83 62.83 95.83 57.67 92 60C88.17 62.33 84.67 66.33 82 66C79.33 65.67 76.67 62.33 76 58C75.33 53.67 78.33 46.33 78 40C77.67 33.67 76 27.5 74 20C72 12.5 60.83 -0.83 66 -5Z" fill="#b9e58c"/>
</svg>
<svg x="241.7" y="124" width="40.4" height="40.8" viewBox="0 0 100 100" preserveAspectRatio="none">
<rect x="-1" y="-1" width="102" height="102" fill="#fb3a02"/>
<path d="M-5 -5C13.33 -16.67 86.67 -9.5 105 -5C123.33 -0.5 108.33 16.83 105 22C101.67 27.17 91.67 25 85 26C78.33 27 71.17 28 65 28C58.83 28 53.5 25.67 48 26C42.5 26.33 37 27.67 32 30C27 32.33 22 35.83 18 40C14 44.17 10.17 51.33 8 55C5.83 58.67 7.17 60.33 5 62C2.83 63.67 -3.33 76.17 -5 65C-6.67 53.83 -23.33 6.67 -5 -5Z" fill="#c80303"/>
<path d="M-5 -5C13.33 -7.5 86.67 -7.5 105 -5C123.33 -2.5 109.17 7.83 105 10C100.83 12.17 87.5 8 80 8C72.5 8 68.33 9.67 60 10C51.67 10.33 40.83 10 30 10C19.17 10 0.83 12.5 -5 10C-10.83 7.5 -23.33 -2.5 -5 -5Z" fill="#850000"/>
<path d="M105 28C102.17 16.5 92.17 33 88 36C83.83 39 84.33 43.67 80 46C75.67 48.33 67.33 47.67 62 50C56.67 52.33 51 56 48 60C45 64 47 71 44 74C41 77 33.17 75 30 78C26.83 81 24.67 87.5 25 92C25.33 96.5 18.67 102.83 32 105C45.33 107.17 92.83 117.83 105 105C117.17 92.17 107.83 39.5 105 28Z" fill="#ffcb02"/>
<path d="M105 50C103.5 45 97.67 50 96 55C94.33 60 93.5 75 95 80C96.5 85 103.33 90 105 85C106.67 80 106.5 55 105 50Z" fill="#b9e58c"/>
<path d="M-5 60C-2.83 56.33 5.17 60 8 62C10.83 64 12 68.67 12 72C12 75.33 10.83 80 8 82C5.17 84 -2.83 87.67 -5 84C-7.17 80.33 -7.17 63.67 -5 60Z" fill="#c80303"/>
</svg>
<svg x="37.6" y="164.8" width="40.8" height="40.6" viewBox="0 0 100 100" preserveAspectRatio="none">
<rect x="-1" y="-1" width="102" height="102" fill="#c80303"/>
<path d="M-5 -5C11.33 -12.5 77.17 -8.5 93 -5C108.83 -1.5 92 9.67 90 16C88 22.33 84.17 27.33 81 33C77.83 38.67 75.33 44.83 71 50C66.67 55.17 60.5 61 55 64C49.5 67 44.17 69.17 38 68C31.83 66.83 23.67 61 18 57C12.33 53 7.83 46.83 4 44C0.17 41.17 -3.5 48.17 -5 40C-6.5 31.83 -21.33 2.5 -5 -5Z" fill="#850000"/>
<path d="M-5 93C-1.17 91.33 9.17 95.33 18 95C26.83 94.67 39 93 48 91C57 89 65.33 84.67 72 83C78.67 81.33 82.5 80.67 88 81C93.5 81.33 102.17 81 105 85C107.83 89 123.33 101.67 105 105C86.67 108.33 13.33 107 -5 105C-23.33 103 -8.83 94.67 -5 93Z" fill="#fb3a02"/>
</svg>
<svg x="78.4" y="164.8" width="40" height="40.6" viewBox="0 0 100 100" preserveAspectRatio="none">
<rect x="-1" y="-1" width="102" height="102" fill="#c80303"/>
<path d="M-5 -5C9.33 -16.17 67.17 -7.83 81 -5C94.83 -2.17 80.33 7.33 78 12C75.67 16.67 70.5 19.5 67 23C63.5 26.5 61 30.17 57 33C53 35.83 48.17 38.17 43 40C37.83 41.83 31.17 42.67 26 44C20.83 45.33 15.5 45.67 12 48C8.5 50.33 7.83 55.67 5 58C2.17 60.33 -3.33 72.5 -5 62C-6.67 51.5 -19.33 6.17 -5 -5Z" fill="#850000"/>
<ellipse cx="65" cy="63" rx="13" ry="10" fill="#850000" transform="rotate(-30 65 63)"/>
</svg>
<svg x="120.4" y="164.8" width="38.2" height="40.6" viewBox="0 0 100 100" preserveAspectRatio="none">
<rect x="-1" y="-1" width="102" height="102" fill="#b9e58c"/>
<path d="M-5 50C-1.67 41.17 9.17 52.33 15 52C20.83 51.67 25 49.33 30 48C35 46.67 40.83 44.33 45 44C49.17 43.67 52.83 43.33 55 46C57.17 48.67 57.17 54.33 58 60C58.83 65.67 59.33 74.17 60 80C60.67 85.83 61.67 90.83 62 95C62.33 99.17 73.17 103.33 62 105C50.83 106.67 6.17 114.17 -5 105C-16.17 95.83 -8.33 58.83 -5 50Z" fill="#ffcb02"/>
<path d="M-5 72C-2.17 66.17 7 71.33 12 70C17 68.67 21.17 66 25 64C28.83 62 31.67 58.67 35 58C38.33 57.33 42.17 58 45 60C47.83 62 50.33 65.83 52 70C53.67 74.17 54.33 79.17 55 85C55.67 90.83 66 101.67 56 105C46 108.33 5.17 110.5 -5 105C-15.17 99.5 -7.83 77.83 -5 72Z" fill="#fb3a02"/>
<path d="M5 84C6.17 81 11.17 80 15 78C18.83 76 24.17 73.67 28 72C31.83 70.33 35 67.67 38 68C41 68.33 44.33 70.67 46 74C47.67 77.33 49 84.33 48 88C47 91.67 44.67 94 40 96C35.33 98 25.33 100 20 100C14.67 100 10.5 98.67 8 96C5.5 93.33 3.83 87 5 84Z" fill="#c80303"/>
<ellipse cx="40" cy="78" rx="3" ry="5" fill="#850000"/>
<ellipse cx="20" cy="88" rx="3" ry="3" fill="#850000"/>
<path d="M-5 -5C7.17 -11.5 56.17 -8.33 68 -5C79.83 -1.67 67.33 9.17 66 15C64.67 20.83 61.83 26.17 60 30C58.17 33.83 57.5 39 55 38C52.5 37 48.33 25.67 45 24C41.67 22.33 38.33 26 35 28C31.67 30 28.5 33.33 25 36C21.5 38.67 17.33 43.67 14 44C10.67 44.33 8.17 39.67 5 38C1.83 36.33 -3.33 41.17 -5 34C-6.67 26.83 -17.17 1.5 -5 -5Z" fill="#56c8fa"/>
<ellipse cx="53" cy="14" rx="5.5" ry="5.5" fill="#b9e58c"/>
<path d="M68 -5C74.83 -8.33 98.83 -21.17 105 -5C111.17 11.17 111.67 75.83 105 92C98.33 108.17 72.5 94 65 92C57.5 90 60.5 87 60 80C59.5 73 62 58.33 62 50C62 41.67 59.67 35.83 60 30C60.33 24.17 62.67 20.83 64 15C65.33 9.17 61.17 -1.67 68 -5Z" fill="#0858d6"/>
<path d="M76 -5C80.17 -9.17 100.17 -11.5 105 -5C109.83 1.5 107.5 27.83 105 34C102.5 40.17 94.17 34.33 90 32C85.83 29.67 82.33 26.17 80 20C77.67 13.83 71.83 -0.83 76 -5Z" fill="#0428a4"/>
<path d="M66 64C68 61.33 75.17 60.33 80 60C84.83 59.67 92 60 95 62C98 64 99.67 69.33 98 72C96.33 74.67 90 77.33 85 78C80 78.67 71.17 78.33 68 76C64.83 73.67 64 66.67 66 64Z" fill="#56c8fa"/>
<path d="M52 105C43.83 103.33 52.17 97.17 56 95C59.83 92.83 66.83 92.67 75 92C83.17 91.33 100 88.83 105 91C110 93.17 113.83 102.67 105 105C96.17 107.33 60.17 106.67 52 105Z" fill="#c80303"/>
<path d="M58 105C50.83 103.67 58.67 98.67 62 97C65.33 95.33 70.83 95.5 78 95C85.17 94.5 100.5 92.33 105 94C109.5 95.67 112.83 103.17 105 105C97.17 106.83 65.17 106.33 58 105Z" fill="#850000"/>
</svg>
<svg x="158.6" y="164.8" width="41.8" height="40.6" viewBox="0 0 100 100" preserveAspectRatio="none">
<rect x="-1" y="-1" width="102" height="102" fill="#fb3a02"/>
<path d="M-5 -5C13.33 -10.5 86.67 -13.83 105 -5C123.33 3.83 108.33 39.83 105 48C101.67 56.17 91.67 45.33 85 44C78.33 42.67 71.67 41.33 65 40C58.33 38.67 51.67 37.33 45 36C38.33 34.67 33.33 33.33 25 32C16.67 30.67 0 34.17 -5 28C-10 21.83 -23.33 0.5 -5 -5Z" fill="#c80303"/>
<path d="M-5 -5C13.33 -8.17 86.67 -10.83 105 -5C123.33 0.83 108.33 24.67 105 30C101.67 35.33 92.5 28.33 85 27C77.5 25.67 68.33 23.5 60 22C51.67 20.5 45.83 19.33 35 18C24.17 16.67 1.67 17.83 -5 14C-11.67 10.17 -23.33 -1.83 -5 -5Z" fill="#850000"/>
<path d="M-5 62C-0.83 54.5 11.67 60.67 20 60C28.33 59.33 37.5 58.83 45 58C52.5 57.17 59.5 54.67 65 55C70.5 55.33 75.5 56.17 78 60C80.5 63.83 79.33 70.5 80 78C80.67 85.5 96.17 100.5 82 105C67.83 109.5 9.5 112.17 -5 105C-19.5 97.83 -9.17 69.5 -5 62Z" fill="#ffcb02"/>
<path d="M2 105C-2.5 102.83 2.83 95.17 5 92C7.17 88.83 11.17 86.67 15 86C18.83 85.33 25 86.33 28 88C31 89.67 32.33 93.17 33 96C33.67 98.83 37.17 103.5 32 105C26.83 106.5 6.5 107.17 2 105Z" fill="#fb3a02"/>
<path d="M6 105C2.83 103.33 7 97.33 9 95C11 92.67 15.17 91.17 18 91C20.83 90.83 24.33 91.67 26 94C27.67 96.33 31.33 103.17 28 105C24.67 106.83 9.17 106.67 6 105Z" fill="#c80303"/>
</svg>
<svg x="202.4" y="164.8" width="39.3" height="40.6" viewBox="0 0 100 100" preserveAspectRatio="none">
<rect x="-1" y="-1" width="102" height="102" fill="#ffcb02"/>
<path d="M47 -5C56.67 -6.33 95.33 -16.17 105 -5C114.67 6.17 106.67 48.67 105 62C103.33 75.33 98.33 70.33 95 75C91.67 79.67 88.33 85.83 85 90C81.67 94.17 77.83 97.5 75 100C72.17 102.5 69.83 106.33 68 105C66.17 103.67 65.17 96.5 64 92C62.83 87.5 62.83 84.83 61 78C59.17 71.17 54.83 60 53 51C51.17 42 51 32 50 24C49 16 47.5 7.83 47 3C46.5 -1.83 37.33 -3.67 47 -5Z" fill="#b9e58c"/>
<path d="M58 -5C65.83 -6.33 97.17 -14.5 105 -5C112.83 4.5 106.67 40.5 105 52C103.33 63.5 97.83 59.67 95 64C92.17 68.33 90.5 74 88 78C85.5 82 82.67 87 80 88C77.33 89 73.83 85.67 72 84C70.17 82.33 70.33 83.5 69 78C67.67 72.5 65.33 60 64 51C62.67 42 62 32 61 24C60 16 58.5 7.83 58 3C57.5 -1.83 50.17 -3.67 58 -5Z" fill="#56c8fa"/>
<path d="M67 -5C73.33 -6.33 98.67 -12.5 105 -5C111.33 2.5 107.17 31.5 105 40C102.83 48.5 95.5 45.67 92 46C88.5 46.33 86 44.67 84 42C82 39.33 82 33 80 30C78 27 74.17 28.5 72 24C69.83 19.5 67.83 7.83 67 3C66.17 -1.83 60.67 -3.67 67 -5Z" fill="#0858d6"/>
<path d="M-5 -5C1 -23.33 25 -6.33 31 -5C37 -3.67 30.5 -1.83 31 3C31.5 7.83 32.67 16 34 24C35.33 32 37.67 42 39 51C40.33 60 42 70.33 42 78C42 85.67 39.5 92.5 39 97C38.5 101.5 46.33 103.67 39 105C31.67 106.33 2.33 123.33 -5 105C-12.33 86.67 -11 13.33 -5 -5Z" fill="#fb3a02"/>
<path d="M105 68C103.33 63.83 97.83 75.5 95 80C92.17 84.5 88.83 90.83 88 95C87.17 99.17 87.17 103.33 90 105C92.83 106.67 102.5 111.17 105 105C107.5 98.83 106.67 72.17 105 68Z" fill="#fb3a02"/>
<path d="M-5 -5C-1 -23.33 15 -6.33 19 -5C23 -3.67 18 -1.83 19 3C20 7.83 23.33 16 25 24C26.67 32 28.5 42 29 51C29.5 60 28.67 70.33 28 78C27.33 85.67 25.5 92.5 25 97C24.5 101.5 30 103.67 25 105C20 106.33 0 123.33 -5 105C-10 86.67 -9 13.33 -5 -5Z" fill="#c80303"/>
<path d="M-5 -5C-2.33 -23.33 8.33 -6.33 11 -5C13.67 -3.67 10.5 -1.83 11 3C11.5 7.83 12.17 16 14 24C15.83 32 21.5 42 22 51C22.5 60 18.33 70.33 17 78C15.67 85.67 14.5 92.5 14 97C13.5 101.5 17.17 103.67 14 105C10.83 106.33 -1.83 123.33 -5 105C-8.17 86.67 -7.67 13.33 -5 -5Z" fill="#850000"/>
</svg>
<svg x="241.7" y="164.8" width="40.4" height="40.6" viewBox="0 0 100 100" preserveAspectRatio="none">
<rect x="-1" y="-1" width="102" height="102" fill="#c80303"/>
<path d="M-5 -5C13.33 -17.5 86.67 -7.83 105 -5C123.33 -2.17 110.83 8.83 105 12C99.17 15.17 80.83 14 70 14C59.17 14 49.17 12 40 12C30.83 12 20.33 11 15 14C9.67 17 9.5 22.33 8 30C6.5 37.67 8.17 53.33 6 60C3.83 66.67 -3.17 80.83 -5 70C-6.83 59.17 -23.33 7.5 -5 -5Z" fill="#850000"/>
<path d="M105 30C101.67 17.83 91.17 30.67 85 32C78.83 33.33 73.5 35.33 68 38C62.5 40.67 56.33 44.33 52 48C47.67 51.67 44.67 55.5 42 60C39.33 64.5 37.67 70 36 75C34.33 80 32.67 85 32 90C31.33 95 19.83 102.5 32 105C44.17 107.5 92.83 117.5 105 105C117.17 92.5 108.33 42.17 105 30Z" fill="#fb3a02"/>
<path d="M105 44C101.67 35.5 90.83 46 85 48C79.17 50 74.17 53 70 56C65.83 59 63 62.67 60 66C57 69.33 54.83 73.33 52 76C49.17 78.67 44.33 79.67 43 82C41.67 84.33 40.83 88.67 44 90C47.17 91.33 56 89 62 90C68 91 72.83 94.5 80 96C87.17 97.5 100.83 107.67 105 99C109.17 90.33 108.33 52.5 105 44Z" fill="#ffcb02"/>
</svg>
<svg x="37.6" y="205.4" width="40.8" height="39.3" viewBox="0 0 100 100" preserveAspectRatio="none">
<rect x="-1" y="-1" width="102" height="102" fill="#c80303"/>
<path d="M-5 -5C10.67 -14.5 73.67 -8.5 89 -5C104.33 -1.5 88.5 9.67 87 16C85.5 22.33 82 27.83 80 33C78 38.17 77.33 41.83 75 47C72.67 52.17 70.33 59.33 66 64C61.67 68.67 55.33 73.17 49 75C42.67 76.83 34.33 76.83 28 75C21.67 73.17 16.5 67.83 11 64C5.5 60.17 -2.33 63.5 -5 52C-7.67 40.5 -20.67 4.5 -5 -5Z" fill="#850000"/>
<path d="M58 105C52.83 102.33 59 92.33 62 89C65 85.67 71.67 84.83 76 85C80.33 85.17 85.17 86.67 88 90C90.83 93.33 98 102.5 93 105C88 107.5 63.17 107.67 58 105Z" fill="#fb3a02"/>
</svg>
<svg x="78.4" y="205.4" width="40" height="39.3" viewBox="0 0 100 100" preserveAspectRatio="none">
<rect x="-1" y="-1" width="102" height="102" fill="#c80303"/>
<path d="M-5 -5C9.33 -14.5 67.83 -8 81 -5C94.17 -2 77.5 8.33 74 13C70.5 17.67 64 19.83 60 23C56 26.17 54.5 30 50 32C45.5 34 38.67 33.67 33 35C27.33 36.33 20.67 38 16 40C11.33 42 8.5 45 5 47C1.5 49 -3.33 60.67 -5 52C-6.67 43.33 -19.33 4.5 -5 -5Z" fill="#850000"/>
<ellipse cx="6" cy="75" rx="6" ry="14" fill="#850000"/>
<path d="M10 105C9.83 102.17 14.33 91.67 16 88C17.67 84.33 18.83 83.5 20 83C21.17 82.5 23.5 81.33 23 85C22.5 88.67 19.17 101.67 17 105C14.83 108.33 10.17 107.83 10 105Z" fill="#fb3a02"/>
</svg>
<svg x="120.4" y="205.4" width="38.2" height="39.3" viewBox="0 0 100 100" preserveAspectRatio="none">
<rect x="-1" y="-1" width="102" height="102" fill="#ffcb02"/>
<path d="M20 -5C29.17 -8.83 65 -7.5 75 -5C85 -2.5 78.83 5 80 10C81.17 15 82.33 20 82 25C81.67 30 80.33 38.17 78 40C75.67 41.83 71.33 38 68 36C64.67 34 61.33 30.33 58 28C54.67 25.67 51.33 22.67 48 22C44.67 21.33 41.33 23 38 24C34.67 25 31 29 28 28C25 27 21.33 23.5 20 18C18.67 12.5 10.83 -1.17 20 -5Z" fill="#b9e58c"/>
<path d="M27 2C28.17 -0.33 32 -2 35 -2C38 -2 43.17 -0.67 45 2C46.83 4.67 47.5 11.33 46 14C44.5 16.67 39 18.33 36 18C33 17.67 29.5 14.67 28 12C26.5 9.33 25.83 4.33 27 2Z" fill="#56c8fa"/>
<path d="M58 44C60 39.67 66.33 37 70 34C73.67 31 76.67 26.67 80 26C83.33 25.33 85.83 28.33 90 30C94.17 31.67 102.5 23.5 105 36C107.5 48.5 111.5 93.5 105 105C98.5 116.5 73.17 107.83 66 105C58.83 102.17 62 93 62 88C62 83 66.67 79.67 66 75C65.33 70.33 59.33 65.17 58 60C56.67 54.83 56 48.33 58 44Z" fill="#b9e58c"/>
<path d="M62 42C63.67 37.67 69 36.33 72 34C75 31.67 77 28.33 80 28C83 27.67 85.83 30.33 90 32C94.17 33.67 102.5 25.83 105 38C107.5 50.17 110.83 93.83 105 105C99.17 116.17 76.5 107.83 70 105C63.5 102.17 66 93 66 88C66 83 70.67 79.67 70 75C69.33 70.33 63.33 65.5 62 60C60.67 54.5 60.33 46.33 62 42Z" fill="#56c8fa"/>
<path d="M72 -5C76.17 -8.17 99.5 -12.17 105 -5C110.5 2.17 106.67 31.17 105 38C103.33 44.83 98.17 37.67 95 36C91.83 34.33 88.5 31.67 86 28C83.5 24.33 82.33 19.5 80 14C77.67 8.5 67.83 -1.83 72 -5Z" fill="#0858d6"/>
<path d="M76 -5C80.17 -6.83 100.17 -7.83 105 -5C109.83 -2.17 107.5 9.17 105 12C102.5 14.83 94.17 13 90 12C85.83 11 82.33 8.83 80 6C77.67 3.17 71.83 -3.17 76 -5Z" fill="#0428a4"/>
<path d="M38 40C38.67 36.67 44.67 33.67 48 32C51.33 30.33 55.67 29 58 30C60.33 31 62.33 35.33 62 38C61.67 40.67 56 43 56 46C56 49 60.33 53.33 62 56C63.67 58.67 66.33 60.33 66 62C65.67 63.67 62.33 66.33 60 66C57.67 65.67 54.67 62.33 52 60C49.33 57.67 46.33 55.33 44 52C41.67 48.67 37.33 43.33 38 40Z" fill="#fb3a02"/>
<ellipse cx="57" cy="57" rx="5" ry="5" fill="#c80303"/>
<path d="M-5 50C-2.17 41.17 7 51 12 52C17 53 21.17 54.33 25 56C28.83 57.67 32.17 59.33 35 62C37.83 64.67 41.17 68.17 42 72C42.83 75.83 41.17 79.5 40 85C38.83 90.5 42.5 101.67 35 105C27.5 108.33 1.67 114.17 -5 105C-11.67 95.83 -7.83 58.83 -5 50Z" fill="#fb3a02"/>
<path d="M-5 64C-2.5 57.17 5.5 63 10 64C14.5 65 18.33 67 22 70C25.67 73 30.67 76.17 32 82C33.33 87.83 36.17 101.17 30 105C23.83 108.83 0.83 111.83 -5 105C-10.83 98.17 -7.5 70.83 -5 64Z" fill="#c80303"/>
<path d="M-5 72C-2.83 68.17 4.5 70.67 8 72C11.5 73.33 15 76.67 16 80C17 83.33 17.5 89.5 14 92C10.5 94.5 -1.83 98.33 -5 95C-8.17 91.67 -7.17 75.83 -5 72Z" fill="#850000"/>
</svg>
<svg x="158.6" y="205.4" width="41.8" height="39.3" viewBox="0 0 100 100" preserveAspectRatio="none">
<rect x="-1" y="-1" width="102" height="102" fill="#fb3a02"/>
<path d="M-5 -5C13.33 -11.17 86.67 -14.5 105 -5C123.33 4.5 108.33 43.17 105 52C101.67 60.83 90.83 50 85 48C79.17 46 75 41 70 40C65 39 60.83 42 55 42C49.17 42 41.67 41.33 35 40C28.33 38.67 21.67 35.33 15 34C8.33 32.67 -1.67 38.5 -5 32C-8.33 25.5 -23.33 1.17 -5 -5Z" fill="#c80303"/>
<path d="M-5 -5C13.33 -8.17 86.67 -11.83 105 -5C123.33 1.83 108.33 29.83 105 36C101.67 42.17 92.5 33.67 85 32C77.5 30.33 68.33 28 60 26C51.67 24 45.83 22 35 20C24.17 18 1.67 18.17 -5 14C-11.67 9.83 -23.33 -1.83 -5 -5Z" fill="#850000"/>
<path d="M34 78C35.17 74.67 40.67 70.67 45 68C49.33 65.33 55.5 62 60 62C64.5 62 70.33 64.17 72 68C73.67 71.83 69.33 78.83 70 85C70.67 91.17 78.5 103.83 76 105C73.5 106.17 61.33 94.83 55 92C48.67 89.17 41.5 90.33 38 88C34.5 85.67 32.83 81.33 34 78Z" fill="#ffcb02"/>
<path d="M-5 75C-2.83 70.83 4.83 77.17 8 80C11.17 82.83 13.33 87.83 14 92C14.67 96.17 15.17 102.83 12 105C8.83 107.17 -2.17 110 -5 105C-7.83 100 -7.17 79.17 -5 75Z" fill="#c80303"/>
</svg>
<svg x="202.4" y="205.4" width="39.3" height="39.3" viewBox="0 0 100 100" preserveAspectRatio="none">
<rect x="-1" y="-1" width="102" height="102" fill="#ffcb02"/>
<path d="M42 -5C52.5 -6.33 94.5 -23.33 105 -5C115.5 13.33 111.83 86.67 105 105C98.17 123.33 70.83 106.33 64 105C57.17 103.67 65 101 64 97C63 93 59.83 88.17 58 81C56.17 73.83 54.83 63 53 54C51.17 45 48.83 35.5 47 27C45.17 18.5 42.83 8.33 42 3C41.17 -2.33 31.5 -3.67 42 -5Z" fill="#b9e58c"/>
<path d="M50 -5C59.17 -6.33 95.83 -21.83 105 -5C114.17 11.83 108.33 78.5 105 96C101.67 113.5 90.83 99.83 85 100C79.17 100.17 73.5 99.67 70 97C66.5 94.33 65.5 91.17 64 84C62.5 76.83 62.33 63.5 61 54C59.67 44.5 57.83 35.5 56 27C54.17 18.5 51 8.33 50 3C49 -2.33 40.83 -3.67 50 -5Z" fill="#56c8fa"/>
<path d="M58 -5C65.83 -6.33 97.17 -16.17 105 -5C112.83 6.17 106.33 49.5 105 62C103.67 74.5 99.83 67.33 97 70C94.17 72.67 91.17 77.33 88 78C84.83 78.67 80.67 77 78 74C75.33 71 73 63.33 72 60C71 56.67 73.33 59.5 72 54C70.67 48.5 66.33 35.5 64 27C61.67 18.5 59 8.33 58 3C57 -2.33 50.17 -3.67 58 -5Z" fill="#0858d6"/>
<path d="M66 -5C71.5 -8.83 98.5 -12.5 105 -5C111.5 2.5 106.5 30.83 105 40C103.5 49.17 98.5 47 96 50C93.5 53 92.33 57.67 90 58C87.67 58.33 83.67 56 82 52C80.33 48 81.67 39.67 80 34C78.33 28.33 74.33 24.5 72 18C69.67 11.5 60.5 -1.17 66 -5Z" fill="#0428a4"/>
<ellipse cx="61" cy="20" rx="3" ry="3.5" fill="#ffcb02"/>
<ellipse cx="72" cy="84" rx="2.5" ry="2.5" fill="#0428a4"/>
<path d="M-5 -5C0.5 -23.33 22.5 -6.33 28 -5C33.5 -3.67 27.17 -2.33 28 3C28.83 8.33 31.17 18.5 33 27C34.83 35.5 37.17 45 39 54C40.83 63 42.67 73.83 44 81C45.33 88.17 46.5 93 47 97C47.5 101 55.67 103.67 47 105C38.33 106.33 3.67 123.33 -5 105C-13.67 86.67 -10.5 13.33 -5 -5Z" fill="#fb3a02"/>
<path d="M-5 -5C-1.33 -23.33 13.33 -6.33 17 -5C20.67 -3.67 16.17 -2.33 17 3C17.83 8.33 19.67 18.5 22 27C24.33 35.5 28.67 45 31 54C33.33 63 34.67 73.83 36 81C37.33 88.17 38.5 93 39 97C39.5 101 46.33 103.67 39 105C31.67 106.33 2.33 123.33 -5 105C-12.33 86.67 -8.67 13.33 -5 -5Z" fill="#c80303"/>
<path d="M-5 -5C-2.83 -23.33 5.83 -6.33 8 -5C10.17 -3.67 7.5 -2.33 8 3C8.5 8.33 9.17 18.5 11 27C12.83 35.5 16.67 45 19 54C21.33 63 24 73.83 25 81C26 88.17 25 93 25 97C25 101 30 103.67 25 105C20 106.33 0 123.33 -5 105C-10 86.67 -7.17 13.33 -5 -5Z" fill="#850000"/>
</svg>
<svg x="241.7" y="205.4" width="40.4" height="39.3" viewBox="0 0 100 100" preserveAspectRatio="none">
<rect x="-1" y="-1" width="102" height="102" fill="#c80303"/>
<path d="M-5 -5C13.33 -18.33 86.67 -8.17 105 -5C123.33 -1.83 110.83 11.17 105 14C99.17 16.83 80.83 12.33 70 12C59.17 11.67 49.17 11.33 40 12C30.83 12.67 20.33 13 15 16C9.67 19 9.67 22.67 8 30C6.33 37.33 7.17 52.5 5 60C2.83 67.5 -3.33 85.83 -5 75C-6.67 64.17 -23.33 8.33 -5 -5Z" fill="#850000"/>
<path d="M105 26C101.67 13.5 91.5 28.33 85 30C78.5 31.67 71.83 33.33 66 36C60.17 38.67 54.33 42.33 50 46C45.67 49.67 42.67 53.67 40 58C37.33 62.33 36 66.67 34 72C32 77.33 29.33 84.5 28 90C26.67 95.5 13.17 102.5 26 105C38.83 107.5 91.83 118.17 105 105C118.17 91.83 108.33 38.5 105 26Z" fill="#fb3a02"/>
<path d="M105 42C101.67 33.33 90.83 42.67 85 44C79.17 45.33 74.17 47 70 50C65.83 53 62.67 57.83 60 62C57.33 66.17 56.67 72.33 54 75C51.33 77.67 45.83 75.83 44 78C42.17 80.17 40.33 86.33 43 88C45.67 89.67 53.83 87.17 60 88C66.17 88.83 72.5 91.67 80 93C87.5 94.33 100.83 104.5 105 96C109.17 87.5 108.33 50.67 105 42Z" fill="#ffcb02"/>
</svg>
</g>
<rect x="37.6" y="82.85" width="244.5" height="0.7" fill="#ffb0a0" fill-opacity="0.55"/>
<rect x="37.6" y="123.65" width="244.5" height="0.7" fill="#ffb0a0" fill-opacity="0.55"/>
<rect x="37.6" y="164.45" width="244.5" height="0.7" fill="#ffb0a0" fill-opacity="0.55"/>
<rect x="37.6" y="205.05" width="244.5" height="0.7" fill="#ffb0a0" fill-opacity="0.55"/>
<rect x="78.05" y="42.7" width="0.7" height="202" fill="#ffb0a0" fill-opacity="0.55"/>
<rect x="158.25" y="42.7" width="0.7" height="202" fill="#ffb0a0" fill-opacity="0.55"/>
<rect x="241.35" y="42.7" width="0.7" height="202" fill="#ffb0a0" fill-opacity="0.55"/>
<rect x="118.4" y="42.7" width="2" height="202" fill="#000"/>
<rect x="200.4" y="42.7" width="2" height="202" fill="#000"/>
<text x="59.2" y="255.7" font-size="6.2" font-family="Liberation Sans, sans-serif" text-anchor="middle" fill="#111" stroke="#111" stroke-width="0.18">mouse 1</text>
<text x="98.45" y="255.7" font-size="6.2" font-family="Liberation Sans, sans-serif" text-anchor="middle" fill="#111" stroke="#111" stroke-width="0.18">mouse 2</text>
<text x="137.7" y="255.7" font-size="6.2" font-family="Liberation Sans, sans-serif" text-anchor="middle" fill="#111" stroke="#111" stroke-width="0.18">mouse 1</text>
<text x="176.95" y="255.7" font-size="6.2" font-family="Liberation Sans, sans-serif" text-anchor="middle" fill="#111" stroke="#111" stroke-width="0.18">mouse 2</text>
<text x="216.2" y="255.7" font-size="6.2" font-family="Liberation Sans, sans-serif" text-anchor="middle" fill="#111" stroke="#111" stroke-width="0.18">mouse 1</text>
<text x="255.45" y="255.7" font-size="6.2" font-family="Liberation Sans, sans-serif" text-anchor="middle" fill="#111" stroke="#111" stroke-width="0.18">mouse 2</text>
<rect x="38" y="263" width="90.6" height="12.2" fill="#fff" stroke="#555" stroke-width="0.8"/>
<rect x="40.2" y="263.4" width="10.85" height="11.4" fill="#850000"/>
<rect x="50.85" y="263.4" width="10.85" height="11.4" fill="#c80303"/>
<rect x="61.5" y="263.4" width="10.85" height="11.4" fill="#fb3a02"/>
<rect x="72.15" y="263.4" width="10.85" height="11.4" fill="#ffcb02"/>
<rect x="82.8" y="263.4" width="10.85" height="11.4" fill="#b9e58c"/>
<rect x="93.45" y="263.4" width="10.85" height="11.4" fill="#56c8fa"/>
<rect x="104.1" y="263.4" width="10.85" height="11.4" fill="#0858d6"/>
<rect x="114.75" y="263.4" width="10.85" height="11.4" fill="#0428a4"/>
<text x="39.6" y="283.6" font-size="10.6" font-family="Liberation Sans, sans-serif" text-anchor="start" fill="#222">0</text>
<text x="121.8" y="283.6" font-size="10.6" font-family="Liberation Sans, sans-serif" text-anchor="start" fill="#222">5</text>
<text x="132.2" y="276.1" font-size="11.05" font-family="Liberation Sans, sans-serif" text-anchor="start" fill="#333">Activation Time (ms)</text>
<text x="169.6" y="323.7" font-size="12.8" font-family="Liberation Sans, sans-serif" font-weight="bold" text-anchor="middle" fill="#1a1a1a">Epicardial Pacing</text>
<text x="77.8" y="349" font-size="12.6" font-family="Liberation Sans, sans-serif" text-anchor="middle" fill="#1a1a1a">Control</text>
<text x="164.5" y="349" font-size="12.6" font-family="Liberation Sans, sans-serif" text-anchor="middle" fill="#1a1a1a">Vehicle</text>
<text x="244.6" y="349" font-size="12.6" font-family="Liberation Sans, sans-serif" text-anchor="middle" fill="#1a1a1a">CSF1R</text>
<text x="1.4" y="378" font-size="10.9" font-family="Liberation Sans, sans-serif" text-anchor="start" fill="#1a1a1a">Beat 1</text>
<text x="1.4" y="419.2" font-size="10.9" font-family="Liberation Sans, sans-serif" text-anchor="start" fill="#1a1a1a">Beat 2</text>
<text x="1.4" y="460.4" font-size="10.9" font-family="Liberation Sans, sans-serif" text-anchor="start" fill="#1a1a1a">Beat 3</text>
<text x="1.4" y="501.7" font-size="10.9" font-family="Liberation Sans, sans-serif" text-anchor="start" fill="#1a1a1a">Beat 4</text>
<text x="1.4" y="542.9" font-size="10.9" font-family="Liberation Sans, sans-serif" text-anchor="start" fill="#1a1a1a">Beat 5</text>
<rect x="36.2" y="352.4" width="248.2" height="206.8" fill="#000"/>
<g filter="url(#soft)">
<svg x="38.2" y="354.4" width="40.4" height="39.4" viewBox="0 0 100 100" preserveAspectRatio="none">
<rect x="-1" y="-1" width="102" height="102" fill="#c80404"/>
<path d="M70 -5C73.83 -8.5 99.17 -12.83 105 -5C110.83 2.83 107.17 35.83 105 42C102.83 48.17 95.83 36.33 92 32C88.17 27.67 85.67 22.17 82 16C78.33 9.83 66.17 -1.5 70 -5Z" fill="#870202"/>
<path d="M-5 16C-1.17 2.5 10.83 22 18 24C25.17 26 31.83 25 38 28C44.17 31 50.33 36.33 55 42C59.67 47.67 62.17 55.67 66 62C69.83 68.33 74 72.83 78 80C82 87.17 103.83 100.83 90 105C76.17 109.17 10.83 119.83 -5 105C-20.83 90.17 -8.83 29.5 -5 16Z" fill="#f93a06"/>
<path d="M-5 67C-1.83 61.17 7.83 68.17 14 70C20.17 71.83 26.33 75 32 78C37.67 81 44 83.5 48 88C52 92.5 64.83 102.17 56 105C47.17 107.83 5.17 111.33 -5 105C-15.17 98.67 -8.17 72.83 -5 67Z" fill="#ffce0a"/>
<path d="M-5 85C-3.17 82.33 2.83 82.83 6 84C9.17 85.17 13.33 89.33 14 92C14.67 94.67 13.17 98.67 10 100C6.83 101.33 -2.5 102.5 -5 100C-7.5 97.5 -6.83 87.67 -5 85Z" fill="#870202"/>
</svg>
<path d="M39.38 357.65L41.51 355.53M43.87 357.65L45.99 355.53M48.36 357.65L50.48 355.53M52.85 357.65L54.97 355.53M57.34 357.65L59.46 355.53M61.83 357.65L63.95 355.53M66.32 357.65L68.44 355.53M70.81 357.65L72.93 355.53M75.29 357.65L77.42 355.53M39.38 362.03L41.51 359.91M43.87 362.03L45.99 359.91M48.36 362.03L50.48 359.91M52.85 362.03L54.97 359.91M57.34 362.03L59.46 359.91M61.83 362.03L63.95 359.91M66.32 362.03L68.44 359.91M70.81 362.03L72.93 359.91M75.29 362.03L77.42 359.91M39.38 366.41L41.51 364.28M43.87 366.41L45.99 364.28M48.36 366.41L50.48 364.28M52.85 366.41L54.97 364.28M57.34 366.41L59.46 364.28M61.83 366.41L63.95 364.28M66.32 366.41L68.44 364.28M70.81 366.41L72.93 364.28M75.29 366.41L77.42 364.28M39.38 370.78L41.51 368.66M43.87 370.78L45.99 368.66M48.36 370.78L50.48 368.66M52.85 370.78L54.97 368.66M57.34 370.78L59.46 368.66M61.83 370.78L63.95 368.66M66.32 370.78L68.44 368.66M70.81 370.78L72.93 368.66M75.29 370.78L77.42 368.66M39.38 375.16L41.51 373.04M43.87 375.16L45.99 373.04M48.36 375.16L50.48 373.04M52.85 375.16L54.97 373.04M57.34 375.16L59.46 373.04M61.83 375.16L63.95 373.04M66.32 375.16L68.44 373.04M70.81 375.16L72.93 373.04M75.29 375.16L77.42 373.04M39.38 379.54L41.51 377.42M43.87 379.54L45.99 377.42M48.36 379.54L50.48 377.42M52.85 379.54L54.97 377.42M57.34 379.54L59.46 377.42M61.83 379.54L63.95 377.42M66.32 379.54L68.44 377.42M70.81 379.54L72.93 377.42M75.29 379.54L77.42 377.42M39.38 383.92L41.51 381.79M43.87 383.92L45.99 381.79M48.36 383.92L50.48 381.79M52.85 383.92L54.97 381.79M57.34 383.92L59.46 381.79M61.83 383.92L63.95 381.79M66.32 383.92L68.44 381.79M70.81 383.92L72.93 381.79M75.29 383.92L77.42 381.79M39.38 388.29L41.51 386.17M43.87 388.29L45.99 386.17M48.36 388.29L50.48 386.17M52.85 388.29L54.97 386.17M57.34 388.29L59.46 386.17M61.83 388.29L63.95 386.17M66.32 388.29L68.44 386.17M70.81 388.29L72.93 386.17M75.29 388.29L77.42 386.17M39.38 392.67L41.51 390.55M43.87 392.67L45.99 390.55M48.36 392.67L50.48 390.55M52.85 392.67L54.97 390.55M57.34 392.67L59.46 390.55M61.83 392.67L63.95 390.55M66.32 392.67L68.44 390.55M70.81 392.67L72.93 390.55M75.29 392.67L77.42 390.55" stroke="#1a1000" stroke-opacity="0.32" stroke-width="0.55" fill="none"/>
<svg x="78.6" y="354.4" width="40.9" height="39.4" viewBox="0 0 100 100" preserveAspectRatio="none">
<rect x="-1" y="-1" width="102" height="102" fill="#c80404"/>
<path d="M82 -5C84.5 -11.67 101.17 -18.33 105 -5C108.83 8.33 106.5 62.83 105 75C103.5 87.17 98.5 74.67 96 68C93.5 61.33 92.33 47.17 90 35C87.67 22.83 79.5 1.67 82 -5Z" fill="#870202"/>
<path d="M-5 -5C5.5 -23.33 47.17 -9.17 58 -5C68.83 -0.83 58.67 11.67 60 20C61.33 28.33 64 37.5 66 45C68 52.5 71.33 58.33 72 65C72.67 71.67 70.67 78.33 70 85C69.33 91.67 80.5 101.67 68 105C55.5 108.33 7.17 123.33 -5 105C-17.17 86.67 -15.5 13.33 -5 -5Z" fill="#f93a06"/>
<path d="M-5 10C-2.17 -4.5 7.17 13.83 12 18C16.83 22.17 18.67 29.67 24 35C29.33 40.33 38.67 45.17 44 50C49.33 54.83 53 58.67 56 64C59 69.33 60.67 75.17 62 82C63.33 88.83 75.17 101.17 64 105C52.83 108.83 6.5 120.83 -5 105C-16.5 89.17 -7.83 24.5 -5 10Z" fill="#ffce0a"/>
<path d="M-5 68C-2.83 61.5 4.5 65 8 66C11.5 67 14.17 70 16 74C17.83 78 19 84.83 19 90C19 95.17 20 102.5 16 105C12 107.5 -1.5 111.17 -5 105C-8.5 98.83 -7.17 74.5 -5 68Z" fill="#bae38a"/>
<path d="M72 105C67.17 103 73 95.5 76 93C79 90.5 85.17 90.83 90 90C94.83 89.17 102.5 85.5 105 88C107.5 90.5 110.5 102.17 105 105C99.5 107.83 76.83 107 72 105Z" fill="#ffce0a"/>
<path d="M84 105C81.17 103.5 84.5 97.83 88 96C91.5 94.17 102.17 92.5 105 94C107.83 95.5 108.5 103.17 105 105C101.5 106.83 86.83 106.5 84 105Z" fill="#bae38a"/>
</svg>
<path d="M79.81 357.65L81.93 355.53M84.36 357.65L86.48 355.53M88.9 357.65L91.02 355.53M93.44 357.65L95.57 355.53M97.99 357.65L100.11 355.53M102.53 357.65L104.66 355.53M107.08 357.65L109.2 355.53M111.62 357.65L113.74 355.53M116.17 357.65L118.29 355.53M79.81 362.03L81.93 359.91M84.36 362.03L86.48 359.91M88.9 362.03L91.02 359.91M93.44 362.03L95.57 359.91M97.99 362.03L100.11 359.91M102.53 362.03L104.66 359.91M107.08 362.03L109.2 359.91M111.62 362.03L113.74 359.91M116.17 362.03L118.29 359.91M79.81 366.41L81.93 364.28M84.36 366.41L86.48 364.28M88.9 366.41L91.02 364.28M93.44 366.41L95.57 364.28M97.99 366.41L100.11 364.28M102.53 366.41L104.66 364.28M107.08 366.41L109.2 364.28M111.62 366.41L113.74 364.28M116.17 366.41L118.29 364.28M79.81 370.78L81.93 368.66M84.36 370.78L86.48 368.66M88.9 370.78L91.02 368.66M93.44 370.78L95.57 368.66M97.99 370.78L100.11 368.66M102.53 370.78L104.66 368.66M107.08 370.78L109.2 368.66M111.62 370.78L113.74 368.66M116.17 370.78L118.29 368.66M79.81 375.16L81.93 373.04M84.36 375.16L86.48 373.04M88.9 375.16L91.02 373.04M93.44 375.16L95.57 373.04M97.99 375.16L100.11 373.04M102.53 375.16L104.66 373.04M107.08 375.16L109.2 373.04M111.62 375.16L113.74 373.04M116.17 375.16L118.29 373.04M79.81 379.54L81.93 377.42M84.36 379.54L86.48 377.42M88.9 379.54L91.02 377.42M93.44 379.54L95.57 377.42M97.99 379.54L100.11 377.42M102.53 379.54L104.66 377.42M107.08 379.54L109.2 377.42M111.62 379.54L113.74 377.42M116.17 379.54L118.29 377.42M79.81 383.92L81.93 381.79M84.36 383.92L86.48 381.79M88.9 383.92L91.02 381.79M93.44 383.92L95.57 381.79M97.99 383.92L100.11 381.79M102.53 383.92L104.66 381.79M107.08 383.92L109.2 381.79M111.62 383.92L113.74 381.79M116.17 383.92L118.29 381.79M79.81 388.29L81.93 386.17M84.36 388.29L86.48 386.17M88.9 388.29L91.02 386.17M93.44 388.29L95.57 386.17M97.99 388.29L100.11 386.17M102.53 388.29L104.66 386.17M107.08 388.29L109.2 386.17M111.62 388.29L113.74 386.17M116.17 388.29L118.29 386.17M79.81 392.67L81.93 390.55M84.36 392.67L86.48 390.55M88.9 392.67L91.02 390.55M93.44 392.67L95.57 390.55M97.99 392.67L100.11 390.55M102.53 392.67L104.66 390.55M107.08 392.67L109.2 390.55M111.62 392.67L113.74 390.55M116.17 392.67L118.29 390.55" stroke="#1a1000" stroke-opacity="0.32" stroke-width="0.55" fill="none"/>
<svg x="121.5" y="354.4" width="41.5" height="39.4" viewBox="0 0 100 100" preserveAspectRatio="none">
<rect x="-1" y="-1" width="102" height="102" fill="#bae38a"/>
<path d="M-5 28C-2.17 14.83 6.5 25.67 12 26C17.5 26.33 24 26.83 28 30C32 33.17 35 39.17 36 45C37 50.83 33.33 58.33 34 65C34.67 71.67 39.67 78.33 40 85C40.33 91.67 43.5 101.67 36 105C28.5 108.33 1.83 117.83 -5 105C-11.83 92.17 -7.83 41.17 -5 28Z" fill="#58c6f8"/>
<path d="M-5 55C-2.83 46.83 4.17 54.83 8 56C11.83 57.17 15.67 58.33 18 62C20.33 65.67 21 72.5 22 78C23 83.5 24.33 90.5 24 95C23.67 99.5 24.83 103.33 20 105C15.17 106.67 -0.83 113.33 -5 105C-9.17 96.67 -7.17 63.17 -5 55Z" fill="#0b5ad2"/>
<path d="M50 -5C59.17 -7.83 95.83 -23.33 105 -5C114.17 13.33 111.17 86.67 105 105C98.83 123.33 74.5 107.83 68 105C61.5 102.17 67.33 93.83 66 88C64.67 82.17 60.67 76.33 60 70C59.33 63.67 63.33 56.67 62 50C60.67 43.33 54 36.33 52 30C50 23.67 50.33 17.83 50 12C49.67 6.17 40.83 -2.17 50 -5Z" fill="#ffce0a"/>
<path d="M68 -5C72.17 -8.33 98.83 -23.33 105 -5C111.17 13.33 107.5 86.67 105 105C102.5 123.33 95.5 106.5 90 105C84.5 103.5 74.67 99.5 72 96C69.33 92.5 72.33 88 74 84C75.67 80 81.33 76.33 82 72C82.67 67.67 77.67 62.5 78 58C78.33 53.5 84.33 49.67 84 45C83.67 40.33 76.67 35 76 30C75.33 25 81.33 20.83 80 15C78.67 9.17 63.83 -1.67 68 -5Z" fill="#f93a06"/>
<path d="M72 -5C75.5 -8.33 99.5 -23.33 105 -5C110.5 13.33 106.67 87.5 105 105C103.33 122.5 99.17 102.5 95 100C90.83 97.5 81.83 93.33 80 90C78.17 86.67 82.67 83.67 84 80C85.33 76.33 88 72.17 88 68C88 63.83 84 59.33 84 55C84 50.67 88.33 46.17 88 42C87.67 37.83 82.67 34.5 82 30C81.33 25.5 85.67 20.83 84 15C82.33 9.17 68.5 -1.67 72 -5Z" fill="#c80404"/>
<path d="M78 -5C81.17 -7.83 100.5 -20 105 -5C109.5 10 106.5 71.17 105 85C103.5 98.83 98.17 81.33 96 78C93.83 74.67 93 69.67 92 65C91 60.33 89.67 54.5 90 50C90.33 45.5 94.33 41.67 94 38C93.67 34.33 89.33 32.33 88 28C86.67 23.67 87.67 17.5 86 12C84.33 6.5 74.83 -2.17 78 -5Z" fill="#870202"/>
</svg>
<path d="M125.23 356.13L122.38 357.05M129.84 356.13L126.99 357.05M134.45 356.13L131.6 357.05M139.07 356.13L136.21 357.05M143.68 356.13L140.82 357.05M148.29 356.13L145.43 357.05M152.9 356.13L150.05 357.05M157.51 356.13L154.66 357.05M162.12 356.13L159.27 357.05M125.26 360.6L122.35 361.33M129.87 360.6L126.96 361.33M134.48 360.6L131.57 361.33M139.09 360.6L136.18 361.33M143.71 360.6L140.79 361.33M148.32 360.6L145.41 361.33M152.93 360.6L150.02 361.33M157.54 360.6L154.63 361.33M162.15 360.6L159.24 361.33M125.28 365.08L122.33 365.6M129.89 365.08L126.94 365.6M134.5 365.08L131.55 365.6M139.12 365.08L136.16 365.6M143.73 365.08L140.77 365.6M148.34 365.08L145.38 365.6M152.95 365.08L150 365.6M157.56 365.08L154.61 365.6M162.17 365.08L159.22 365.6M125.3 369.57L122.31 369.88M129.91 369.57L126.92 369.88M134.52 369.57L131.54 369.88M139.13 369.57L136.15 369.88M143.74 369.57L140.76 369.88M148.35 369.57L145.37 369.88M152.96 369.57L149.98 369.88M157.58 369.57L154.59 369.88M162.19 369.57L159.2 369.88M125.3 374.05L122.31 374.15M129.92 374.05L126.92 374.15M134.53 374.05L131.53 374.15M139.14 374.05L136.14 374.15M143.75 374.05L140.75 374.15M148.36 374.05L145.36 374.15M152.97 374.05L149.97 374.15M157.58 374.05L154.58 374.15M162.19 374.05L159.2 374.15M125.3 378.53L122.31 378.43M129.92 378.53L126.92 378.43M134.53 378.53L131.53 378.43M139.14 378.53L136.14 378.43M143.75 378.53L140.75 378.43M148.36 378.53L145.36 378.43M152.97 378.53L149.97 378.43M157.58 378.53L154.58 378.43M162.19 378.53L159.2 378.43M125.3 383.01L122.31 382.7M129.91 383.01L126.92 382.7M134.52 383.01L131.54 382.7M139.13 383.01L136.15 382.7M143.74 383.01L140.76 382.7M148.35 383.01L145.37 382.7M152.96 383.01L149.98 382.7M157.58 383.01L154.59 382.7M162.19 383.01L159.2 382.7M125.28 387.49L122.33 386.97M129.89 387.49L126.94 386.97M134.5 387.49L131.55 386.97M139.12 387.49L136.16 386.97M143.73 387.49L140.77 386.97M148.34 387.49L145.38 386.97M152.95 387.49L150 386.97M157.56 387.49L154.61 386.97M162.17 387.49L159.22 386.97M125.26 391.97L122.35 391.25M129.87 391.97L126.96 391.25M134.48 391.97L131.57 391.25M139.09 391.97L136.18 391.25M143.71 391.97L140.79 391.25M148.32 391.97L145.41 391.25M152.93 391.97L150.02 391.25M157.54 391.97L154.63 391.25M162.15 391.97L159.24 391.25" stroke="#1a1000" stroke-opacity="0.32" stroke-width="0.55" fill="none"/>
<svg x="163" y="354.4" width="40" height="39.4" viewBox="0 0 100 100" preserveAspectRatio="none">
<rect x="-1" y="-1" width="102" height="102" fill="#f93a06"/>
<path d="M60 -5C66.67 -6.67 97.5 -10.5 105 -5C112.5 0.5 107.5 23.17 105 28C102.5 32.83 95 26.33 90 24C85 21.67 79.17 17.17 75 14C70.83 10.83 67.5 8.17 65 5C62.5 1.83 53.33 -3.33 60 -5Z" fill="#c80404"/>
<path d="M80 -5C82.17 -7.5 100.83 -8.17 105 -5C109.17 -1.83 107.17 11.5 105 14C102.83 16.5 96.17 13.17 92 10C87.83 6.83 77.83 -2.5 80 -5Z" fill="#870202"/>
<path d="M-5 32C-2.17 18.5 5.83 26 12 24C18.17 22 26 19.67 32 20C38 20.33 43.67 23 48 26C52.33 29 53 35.33 58 38C63 40.67 70.17 40.67 78 42C85.83 43.33 100.5 35.5 105 46C109.5 56.5 123.33 95.17 105 105C86.67 114.83 13.33 117.17 -5 105C-23.33 92.83 -7.83 45.5 -5 32Z" fill="#ffce0a"/>
<path d="M-5 90C-3.33 85.5 2.17 82.33 5 78C7.83 73.67 9.17 68 12 64C14.83 60 18.67 56.33 22 54C25.33 51.67 28.17 50.5 32 50C35.83 49.5 39 50.17 45 51C51 51.83 61.83 52.67 68 55C74.17 57.33 75.83 62.5 82 65C88.17 67.5 101.17 63.33 105 70C108.83 76.67 123.33 99.17 105 105C86.67 110.83 13.33 107.5 -5 105C-23.33 102.5 -6.67 94.5 -5 90Z" fill="#bae38a"/>
</svg>
<path d="M165.81 357.97L164.64 355.21M170.1 358.02L169.23 355.15M174.38 358.06L173.84 355.11M178.65 358.09L178.46 355.09M182.92 358.09L183.08 355.09M187.19 358.07L187.7 355.11M191.47 358.03L192.31 355.15M195.76 357.98L196.9 355.2M200.07 357.91L201.48 355.26M165.87 362.32L164.57 359.61M170.16 362.38L169.18 359.55M174.42 362.43L173.8 359.5M178.67 362.46L178.44 359.47M182.91 362.46L183.09 359.47M187.16 362.44L187.73 359.49M191.42 362.39L192.36 359.54M195.7 362.33L196.97 359.61M200 362.25L201.55 359.68M165.95 366.66L164.49 364.03M170.22 366.74L169.11 363.95M174.46 366.8L173.76 363.89M178.68 366.84L178.43 363.85M182.89 366.84L183.11 363.85M187.11 366.81L187.78 363.88M191.35 366.75L192.42 363.94M195.62 366.66L197.04 364.02M199.92 366.58L201.63 364.11M166.04 370.98L164.4 368.47M170.31 371.08L169.03 368.37M174.52 371.16L173.7 368.28M178.71 371.21L178.4 368.23M182.88 371.22L183.12 368.23M187.06 371.17L187.83 368.27M191.27 371.09L192.51 368.36M195.53 370.99L197.14 368.46M199.83 370.88L201.73 368.56M166.16 375.27L164.28 372.93M170.41 375.4L168.92 372.8M174.61 375.52L173.62 372.68M178.74 375.59L178.37 372.61M182.85 375.59L183.15 372.61M186.98 375.53L187.91 372.67M191.16 375.41L192.61 372.79M195.41 375.28L197.25 372.92M199.72 375.16L201.84 373.04M166.3 379.52L164.15 377.43M170.56 379.68L168.77 377.27M174.73 379.85L173.5 377.11M178.79 379.96L178.32 377M182.81 379.97L183.19 376.99M186.86 379.86L188.03 377.1M191.02 379.7L192.76 377.26M195.27 379.54L197.39 377.42M199.59 379.4L201.96 377.56M166.45 383.71L163.99 382M170.75 383.9L168.59 381.81M174.91 384.13L173.31 381.59M178.88 384.32L178.23 381.39M182.73 384.33L183.27 381.38M186.68 384.15L188.21 381.56M190.83 383.92L192.95 381.79M195.11 383.73L197.55 381.98M199.47 383.58L202.09 382.13M166.61 387.81L163.84 386.66M170.96 387.99L168.37 386.48M175.2 388.27L173.03 386.2M179.08 388.64L178.03 385.83M182.56 388.67L183.44 385.8M186.39 388.3L188.5 386.16M190.6 388.01L193.17 386.46M194.95 387.82L197.71 386.64M199.35 387.71L202.2 386.76M166.71 391.82L163.74 391.4M171.14 391.9L168.19 391.33M175.54 392.07L172.68 391.16M179.67 392.61L177.44 390.61M181.99 392.72L184.01 390.5M186.02 392.09L188.86 391.13M190.42 391.91L193.36 391.32M194.85 391.82L197.82 391.4M199.29 391.78L202.27 391.45" stroke="#1a1000" stroke-opacity="0.32" stroke-width="0.55" fill="none"/>
<svg x="205" y="354.4" width="37.6" height="39.4" viewBox="0 0 100 100" preserveAspectRatio="none">
<rect x="-1" y="-1" width="102" height="102" fill="#c80404"/>
<path d="M30 -5C38.33 -7.17 92.5 -7.83 105 -5C117.5 -2.17 109.17 8.83 105 12C100.83 15.17 88.33 14.67 80 14C71.67 13.33 63.33 11.17 55 8C46.67 4.83 21.67 -2.83 30 -5Z" fill="#870202"/>
<path d="M-5 20C-1.17 6.17 10.5 21 18 22C25.5 23 32.67 24.67 40 26C47.33 27.33 55.67 28.5 62 30C68.33 31.5 74 32.33 78 35C82 37.67 84 41.17 86 46C88 50.83 87.67 59.17 90 64C92.33 68.83 97.5 68.17 100 75C102.5 81.83 122.5 100 105 105C87.5 110 13.33 119.17 -5 105C-23.33 90.83 -8.83 33.83 -5 20Z" fill="#f93a06"/>
<path d="M-5 63C0 56.33 15.5 64.17 25 65C34.5 65.83 44.5 68 52 68C59.5 68 64.33 65.17 70 65C75.67 64.83 80.17 65.5 86 67C91.83 68.5 101.83 67.67 105 74C108.17 80.33 123.33 99.83 105 105C86.67 110.17 13.33 112 -5 105C-23.33 98 -10 69.67 -5 63Z" fill="#ffce0a"/>
</svg>
<path d="M207.09 358.09L207.09 355.09M211.27 358.09L211.27 355.09M215.44 358.09L215.44 355.09M219.62 358.09L219.62 355.09M223.8 358.09L223.8 355.09M227.98 358.09L227.98 355.09M232.16 358.09L232.16 355.09M236.33 358.09L236.33 355.09M240.51 358.09L240.51 355.09M207.09 362.47L207.09 359.47M211.27 362.47L211.27 359.47M215.44 362.47L215.44 359.47M219.62 362.47L219.62 359.47M223.8 362.47L223.8 359.47M227.98 362.47L227.98 359.47M232.16 362.47L232.16 359.47M236.33 362.47L236.33 359.47M240.51 362.47L240.51 359.47M207.09 366.84L207.09 363.84M211.27 366.84L211.27 363.84M215.44 366.84L215.44 363.84M219.62 366.84L219.62 363.84M223.8 366.84L223.8 363.84M227.98 366.84L227.98 363.84M232.16 366.84L232.16 363.84M236.33 366.84L236.33 363.84M240.51 366.84L240.51 363.84M207.09 371.22L207.09 368.22M211.27 371.22L211.27 368.22M215.44 371.22L215.44 368.22M219.62 371.22L219.62 368.22M223.8 371.22L223.8 368.22M227.98 371.22L227.98 368.22M232.16 371.22L232.16 368.22M236.33 371.22L236.33 368.22M240.51 371.22L240.51 368.22M207.09 375.6L207.09 372.6M211.27 375.6L211.27 372.6M215.44 375.6L215.44 372.6M219.62 375.6L219.62 372.6M223.8 375.6L223.8 372.6M227.98 375.6L227.98 372.6M232.16 375.6L232.16 372.6M236.33 375.6L236.33 372.6M240.51 375.6L240.51 372.6M207.09 379.98L207.09 376.98M211.27 379.98L211.27 376.98M215.44 379.98L215.44 376.98M219.62 379.98L219.62 376.98M223.8 379.98L223.8 376.98M227.98 379.98L227.98 376.98M232.16 379.98L232.16 376.98M236.33 379.98L236.33 376.98M240.51 379.98L240.51 376.98M207.09 384.36L207.09 381.36M211.27 384.36L211.27 381.36M215.44 384.36L215.44 381.36M219.62 384.36L219.62 381.36M223.8 384.36L223.8 381.36M227.98 384.36L227.98 381.36M232.16 384.36L232.16 381.36M236.33 384.36L236.33 381.36M240.51 384.36L240.51 381.36M207.09 388.73L207.09 385.73M211.27 388.73L211.27 385.73M215.44 388.73L215.44 385.73M219.62 388.73L219.62 385.73M223.8 388.73L223.8 385.73M227.98 388.73L227.98 385.73M232.16 388.73L232.16 385.73M236.33 388.73L236.33 385.73M240.51 388.73L240.51 385.73M207.09 393.11L207.09 390.11M211.27 393.11L211.27 390.11M215.44 393.11L215.44 390.11M219.62 393.11L219.62 390.11M223.8 393.11L223.8 390.11M227.98 393.11L227.98 390.11M232.16 393.11L232.16 390.11M236.33 393.11L236.33 390.11M240.51 393.11L240.51 390.11" stroke="#1a1000" stroke-opacity="0.32" stroke-width="0.55" fill="none"/>
<svg x="242.6" y="354.4" width="39.8" height="39.4" viewBox="0 0 100 100" preserveAspectRatio="none">
<rect x="-1" y="-1" width="102" height="102" fill="#c80404"/>
<path d="M88 -5C90.5 -9.17 102.17 -18.33 105 -5C107.83 8.33 106.5 62.5 105 75C103.5 87.5 98.17 75 96 70C93.83 65 93 53.33 92 45C91 36.67 90.67 28.33 90 20C89.33 11.67 85.5 -0.83 88 -5Z" fill="#870202"/>
<path d="M-5 -5C6.83 -23.33 53.83 -9.17 66 -5C78.17 -0.83 67 12.5 68 20C69 27.5 71 33.33 72 40C73 46.67 74.33 53.67 74 60C73.67 66.33 71.67 73 70 78C68.33 83 65.33 85.5 64 90C62.67 94.5 73.5 102.5 62 105C50.5 107.5 6.17 123.33 -5 105C-16.17 86.67 -16.83 13.33 -5 -5Z" fill="#f93a06"/>
<path d="M70 84C72.5 79.83 79.17 80.33 85 80C90.83 79.67 101.67 77.83 105 82C108.33 86.17 110.83 101.17 105 105C99.17 108.83 75.83 108.5 70 105C64.17 101.5 67.5 88.17 70 84Z" fill="#f93a06"/>
<path d="M-5 -5C4.33 -23.33 41.17 -8.83 51 -5C60.83 -1.17 53.17 10.5 54 18C54.83 25.5 55 33 56 40C57 47 59.33 53.67 60 60C60.67 66.33 60.5 72.67 60 78C59.5 83.33 57.83 87.5 57 92C56.17 96.5 65.33 102.83 55 105C44.67 107.17 5 123.33 -5 105C-15 86.67 -14.33 13.33 -5 -5Z" fill="#ffce0a"/>
<path d="M-5 -5C1 -23.33 24.83 -8.83 31 -5C37.17 -1.17 32.17 10.83 32 18C31.83 25.17 29.67 32.67 30 38C30.33 43.33 32 46 34 50C36 54 40 57.83 42 62C44 66.17 45.33 70.33 46 75C46.67 79.67 46.33 85 46 90C45.67 95 52.5 102.5 44 105C35.5 107.5 3.17 123.33 -5 105C-13.17 86.67 -11 13.33 -5 -5Z" fill="#bae38a"/>
<path d="M-5 42C-2.83 31.83 4.17 42.67 8 44C11.83 45.33 14.67 47.33 18 50C21.33 52.67 24.67 56.33 28 60C31.33 63.67 35.33 67.83 38 72C40.67 76.17 42.67 79.5 44 85C45.33 90.5 54.17 101.67 46 105C37.83 108.33 3.5 115.5 -5 105C-13.5 94.5 -7.17 52.17 -5 42Z" fill="#58c6f8"/>
<path d="M-5 62C-2.5 55.17 5.5 62.33 10 64C14.5 65.67 18.33 68.33 22 72C25.67 75.67 29.33 80.5 32 86C34.67 91.5 44.17 101.83 38 105C31.83 108.17 2.17 112.17 -5 105C-12.17 97.83 -7.5 68.83 -5 62Z" fill="#0b5ad2"/>
<path d="M58 105C55.5 103 57.67 95.5 59 93C60.33 90.5 63.5 89.83 66 90C68.5 90.17 72.67 91.5 74 94C75.33 96.5 76.67 103.17 74 105C71.33 106.83 60.5 107 58 105Z" fill="#870202"/>
</svg>
<path d="M244.06 357.89L245.56 355.29M248.48 357.89L249.98 355.29M252.91 357.89L254.41 355.29M257.33 357.89L258.83 355.29M261.75 357.89L263.25 355.29M266.17 357.89L267.67 355.29M270.59 357.89L272.09 355.29M275.02 357.89L276.52 355.29M279.44 357.89L280.94 355.29M244.06 362.27L245.56 359.67M248.48 362.27L249.98 359.67M252.91 362.27L254.41 359.67M257.33 362.27L258.83 359.67M261.75 362.27L263.25 359.67M266.17 362.27L267.67 359.67M270.59 362.27L272.09 359.67M275.02 362.27L276.52 359.67M279.44 362.27L280.94 359.67M244.06 366.64L245.56 364.05M248.48 366.64L249.98 364.05M252.91 366.64L254.41 364.05M257.33 366.64L258.83 364.05M261.75 366.64L263.25 364.05M266.17 366.64L267.67 364.05M270.59 366.64L272.09 364.05M275.02 366.64L276.52 364.05M279.44 366.64L280.94 364.05M244.06 371.02L245.56 368.42M248.48 371.02L249.98 368.42M252.91 371.02L254.41 368.42M257.33 371.02L258.83 368.42M261.75 371.02L263.25 368.42M266.17 371.02L267.67 368.42M270.59 371.02L272.09 368.42M275.02 371.02L276.52 368.42M279.44 371.02L280.94 368.42M244.06 375.4L245.56 372.8M248.48 375.4L249.98 372.8M252.91 375.4L254.41 372.8M257.33 375.4L258.83 372.8M261.75 375.4L263.25 372.8M266.17 375.4L267.67 372.8M270.59 375.4L272.09 372.8M275.02 375.4L276.52 372.8M279.44 375.4L280.94 372.8M244.06 379.78L245.56 377.18M248.48 379.78L249.98 377.18M252.91 379.78L254.41 377.18M257.33 379.78L258.83 377.18M261.75 379.78L263.25 377.18M266.17 379.78L267.67 377.18M270.59 379.78L272.09 377.18M275.02 379.78L276.52 377.18M279.44 379.78L280.94 377.18M244.06 384.15L245.56 381.56M248.48 384.15L249.98 381.56M252.91 384.15L254.41 381.56M257.33 384.15L258.83 381.56M261.75 384.15L263.25 381.56M266.17 384.15L267.67 381.56M270.59 384.15L272.09 381.56M275.02 384.15L276.52 381.56M279.44 384.15L280.94 381.56M244.06 388.53L245.56 385.93M248.48 388.53L249.98 385.93M252.91 388.53L254.41 385.93M257.33 388.53L258.83 385.93M261.75 388.53L263.25 385.93M266.17 388.53L267.67 385.93M270.59 388.53L272.09 385.93M275.02 388.53L276.52 385.93M279.44 388.53L280.94 385.93M244.06 392.91L245.56 390.31M248.48 392.91L249.98 390.31M252.91 392.91L254.41 390.31M257.33 392.91L258.83 390.31M261.75 392.91L263.25 390.31M266.17 392.91L267.67 390.31M270.59 392.91L272.09 390.31M275.02 392.91L276.52 390.31M279.44 392.91L280.94 390.31" stroke="#1a1000" stroke-opacity="0.32" stroke-width="0.55" fill="none"/>
<svg x="38.2" y="393.8" width="40.4" height="41" viewBox="0 0 100 100" preserveAspectRatio="none">
<rect x="-1" y="-1" width="102" height="102" fill="#c80404"/>
<path d="M65 -5C69.83 -8.17 98.33 -13.17 105 -5C111.67 3.17 107.5 38.17 105 44C102.5 49.83 94.83 35 90 30C85.17 25 80.17 19.83 76 14C71.83 8.17 60.17 -1.83 65 -5Z" fill="#870202"/>
<path d="M-5 12C-1.83 -2.5 7.83 15.83 14 18C20.17 20.17 26 22.67 32 25C38 27.33 45 28.5 50 32C55 35.5 58.33 40.33 62 46C65.67 51.67 68.67 59.5 72 66C75.33 72.5 78.67 78.5 82 85C85.33 91.5 106.5 101.67 92 105C77.5 108.33 11.17 120.5 -5 105C-21.17 89.5 -8.17 26.5 -5 12Z" fill="#f93a06"/>
<path d="M-5 64C-1.17 57.67 11.33 65.33 18 67C24.67 68.67 29.67 71.5 35 74C40.33 76.5 45.83 79 50 82C54.17 85 57.5 88.17 60 92C62.5 95.83 75.83 102.83 65 105C54.17 107.17 6.67 111.83 -5 105C-16.67 98.17 -8.83 70.33 -5 64Z" fill="#ffce0a"/>
</svg>
<path d="M39.38 397.14L41.51 395.02M43.87 397.14L45.99 395.02M48.36 397.14L50.48 395.02M52.85 397.14L54.97 395.02M57.34 397.14L59.46 395.02M61.83 397.14L63.95 395.02M66.32 397.14L68.44 395.02M70.81 397.14L72.93 395.02M75.29 397.14L77.42 395.02M39.38 401.69L41.51 399.57M43.87 401.69L45.99 399.57M48.36 401.69L50.48 399.57M52.85 401.69L54.97 399.57M57.34 401.69L59.46 399.57M61.83 401.69L63.95 399.57M66.32 401.69L68.44 399.57M70.81 401.69L72.93 399.57M75.29 401.69L77.42 399.57M39.38 406.25L41.51 404.13M43.87 406.25L45.99 404.13M48.36 406.25L50.48 404.13M52.85 406.25L54.97 404.13M57.34 406.25L59.46 404.13M61.83 406.25L63.95 404.13M66.32 406.25L68.44 404.13M70.81 406.25L72.93 404.13M75.29 406.25L77.42 404.13M39.38 410.81L41.51 408.68M43.87 410.81L45.99 408.68M48.36 410.81L50.48 408.68M52.85 410.81L54.97 408.68M57.34 410.81L59.46 408.68M61.83 410.81L63.95 408.68M66.32 410.81L68.44 408.68M70.81 410.81L72.93 408.68M75.29 410.81L77.42 408.68M39.38 415.36L41.51 413.24M43.87 415.36L45.99 413.24M48.36 415.36L50.48 413.24M52.85 415.36L54.97 413.24M57.34 415.36L59.46 413.24M61.83 415.36L63.95 413.24M66.32 415.36L68.44 413.24M70.81 415.36L72.93 413.24M75.29 415.36L77.42 413.24M39.38 419.92L41.51 417.79M43.87 419.92L45.99 417.79M48.36 419.92L50.48 417.79M52.85 419.92L54.97 417.79M57.34 419.92L59.46 417.79M61.83 419.92L63.95 417.79M66.32 419.92L68.44 417.79M70.81 419.92L72.93 417.79M75.29 419.92L77.42 417.79M39.38 424.47L41.51 422.35M43.87 424.47L45.99 422.35M48.36 424.47L50.48 422.35M52.85 424.47L54.97 422.35M57.34 424.47L59.46 422.35M61.83 424.47L63.95 422.35M66.32 424.47L68.44 422.35M70.81 424.47L72.93 422.35M75.29 424.47L77.42 422.35M39.38 429.03L41.51 426.91M43.87 429.03L45.99 426.91M48.36 429.03L50.48 426.91M52.85 429.03L54.97 426.91M57.34 429.03L59.46 426.91M61.83 429.03L63.95 426.91M66.32 429.03L68.44 426.91M70.81 429.03L72.93 426.91M75.29 429.03L77.42 426.91M39.38 433.58L41.51 431.46M43.87 433.58L45.99 431.46M48.36 433.58L50.48 431.46M52.85 433.58L54.97 431.46M57.34 433.58L59.46 431.46M61.83 433.58L63.95 431.46M66.32 433.58L68.44 431.46M70.81 433.58L72.93 431.46M75.29 433.58L77.42 431.46" stroke="#1a1000" stroke-opacity="0.32" stroke-width="0.55" fill="none"/>
<svg x="78.6" y="393.8" width="40.9" height="41" viewBox="0 0 100 100" preserveAspectRatio="none">
<rect x="-1" y="-1" width="102" height="102" fill="#c80404"/>
<path d="M64 -5C69.17 -8.17 98.17 -16.67 105 -5C111.83 6.67 107.5 55 105 65C102.5 75 93.83 59.83 90 55C86.17 50.17 84.67 42.83 82 36C79.33 29.17 77 20.83 74 14C71 7.17 58.83 -1.83 64 -5Z" fill="#870202"/>
<path d="M-5 -5C0.5 -23.33 21.17 -7.5 28 -5C34.83 -2.5 32.67 5.17 36 10C39.33 14.83 44 18.33 48 24C52 29.67 57 37.67 60 44C63 50.33 63.67 56 66 62C68.33 68 71.67 72.83 74 80C76.33 87.17 93.17 100.83 80 105C66.83 109.17 9.17 123.33 -5 105C-19.17 86.67 -10.5 13.33 -5 -5Z" fill="#f93a06"/>
<path d="M-5 25C-2.83 13.33 4.5 30.83 8 35C11.5 39.17 13 45.17 16 50C19 54.83 22 59.33 26 64C30 68.67 36.5 73.33 40 78C43.5 82.67 45.67 87.5 47 92C48.33 96.5 56.67 102.83 48 105C39.33 107.17 3.83 118.33 -5 105C-13.83 91.67 -7.17 36.67 -5 25Z" fill="#ffce0a"/>
<path d="M-5 84C-2.83 80.83 5.17 82.5 8 86C10.83 89.5 14.17 101.83 12 105C9.83 108.17 -2.17 108.5 -5 105C-7.83 101.5 -7.17 87.17 -5 84Z" fill="#bae38a"/>
<path d="M74 105C69.5 102.83 75 94.83 78 92C81 89.17 87.5 88.67 92 88C96.5 87.33 102.83 85.17 105 88C107.17 90.83 110.17 102.17 105 105C99.83 107.83 78.5 107.17 74 105Z" fill="#ffce0a"/>
</svg>
<path d="M79.81 397.14L81.93 395.02M84.36 397.14L86.48 395.02M88.9 397.14L91.02 395.02M93.44 397.14L95.57 395.02M97.99 397.14L100.11 395.02M102.53 397.14L104.66 395.02M107.08 397.14L109.2 395.02M111.62 397.14L113.74 395.02M116.17 397.14L118.29 395.02M79.81 401.69L81.93 399.57M84.36 401.69L86.48 399.57M88.9 401.69L91.02 399.57M93.44 401.69L95.57 399.57M97.99 401.69L100.11 399.57M102.53 401.69L104.66 399.57M107.08 401.69L109.2 399.57M111.62 401.69L113.74 399.57M116.17 401.69L118.29 399.57M79.81 406.25L81.93 404.13M84.36 406.25L86.48 404.13M88.9 406.25L91.02 404.13M93.44 406.25L95.57 404.13M97.99 406.25L100.11 404.13M102.53 406.25L104.66 404.13M107.08 406.25L109.2 404.13M111.62 406.25L113.74 404.13M116.17 406.25L118.29 404.13M79.81 410.81L81.93 408.68M84.36 410.81L86.48 408.68M88.9 410.81L91.02 408.68M93.44 410.81L95.57 408.68M97.99 410.81L100.11 408.68M102.53 410.81L104.66 408.68M107.08 410.81L109.2 408.68M111.62 410.81L113.74 408.68M116.17 410.81L118.29 408.68M79.81 415.36L81.93 413.24M84.36 415.36L86.48 413.24M88.9 415.36L91.02 413.24M93.44 415.36L95.57 413.24M97.99 415.36L100.11 413.24M102.53 415.36L104.66 413.24M107.08 415.36L109.2 413.24M111.62 415.36L113.74 413.24M116.17 415.36L118.29 413.24M79.81 419.92L81.93 417.79M84.36 419.92L86.48 417.79M88.9 419.92L91.02 417.79M93.44 419.92L95.57 417.79M97.99 419.92L100.11 417.79M102.53 419.92L104.66 417.79M107.08 419.92L109.2 417.79M111.62 419.92L113.74 417.79M116.17 419.92L118.29 417.79M79.81 424.47L81.93 422.35M84.36 424.47L86.48 422.35M88.9 424.47L91.02 422.35M93.44 424.47L95.57 422.35M97.99 424.47L100.11 422.35M102.53 424.47L104.66 422.35M107.08 424.47L109.2 422.35M111.62 424.47L113.74 422.35M116.17 424.47L118.29 422.35M79.81 429.03L81.93 426.91M84.36 429.03L86.48 426.91M88.9 429.03L91.02 426.91M93.44 429.03L95.57 426.91M97.99 429.03L100.11 426.91M102.53 429.03L104.66 426.91M107.08 429.03L109.2 426.91M111.62 429.03L113.74 426.91M116.17 429.03L118.29 426.91M79.81 433.58L81.93 431.46M84.36 433.58L86.48 431.46M88.9 433.58L91.02 431.46M93.44 433.58L95.57 431.46M97.99 433.58L100.11 431.46M102.53 433.58L104.66 431.46M107.08 433.58L109.2 431.46M111.62 433.58L113.74 431.46M116.17 433.58L118.29 431.46" stroke="#1a1000" stroke-opacity="0.32" stroke-width="0.55" fill="none"/>
<svg x="121.5" y="393.8" width="41.5" height="41" viewBox="0 0 100 100" preserveAspectRatio="none">
<rect x="-1" y="-1" width="102" height="102" fill="#bae38a"/>
<path d="M-5 -5C2.17 -23.33 29.5 -9.17 38 -5C46.5 -0.83 43.67 12.17 46 20C48.33 27.83 51.33 35 52 42C52.67 49 49.67 55.67 50 62C50.33 68.33 52.33 72.83 54 80C55.67 87.17 69.83 100.83 60 105C50.17 109.17 5.83 123.33 -5 105C-15.83 86.67 -12.17 13.33 -5 -5Z" fill="#58c6f8"/>
<path d="M-5 18C-1.5 4.17 9.83 19.67 16 22C22.17 24.33 28.33 27.67 32 32C35.67 36.33 37.67 43 38 48C38.33 53 33.67 57.33 34 62C34.33 66.67 38 71.33 40 76C42 80.67 44.33 85.17 46 90C47.67 94.83 58.5 102.5 50 105C41.5 107.5 4.17 119.5 -5 105C-14.17 90.5 -8.5 31.83 -5 18Z" fill="#0b5ad2"/>
<path d="M-5 42C-2.5 32 6 42.33 10 45C14 47.67 17.17 52.83 19 58C20.83 63.17 19.5 70.33 21 76C22.5 81.67 26.5 87.17 28 92C29.5 96.83 35.5 102.83 30 105C24.5 107.17 0.83 115.5 -5 105C-10.83 94.5 -7.5 52 -5 42Z" fill="#062ca2"/>
<path d="M56 -5C63.83 -7.5 96.83 -23.33 105 -5C113.17 13.33 113.83 86.67 105 105C96.17 123.33 59.83 107.5 52 105C44.17 102.5 56.67 95.83 58 90C59.33 84.17 59.33 76.67 60 70C60.67 63.33 62.33 56.67 62 50C61.67 43.33 58.67 36.67 58 30C57.33 23.33 58.33 15.83 58 10C57.67 4.17 48.17 -2.5 56 -5Z" fill="#ffce0a"/>
<path d="M68 -5C73.5 -10.83 98.83 -20.5 105 -5C111.17 10.5 108.33 72.17 105 88C101.67 103.83 90.83 90.33 85 90C79.17 89.67 73.83 88.33 70 86C66.17 83.67 63 80 62 76C61 72 62.67 66.33 64 62C65.33 57.67 68.67 55.33 70 50C71.33 44.67 72.33 39.17 72 30C71.67 20.83 62.5 0.83 68 -5Z" fill="#f93a06"/>
<path d="M70 -5C75 -10.83 99.17 -20 105 -5C110.83 10 107.83 69.83 105 85C102.17 100.17 93.17 86.5 88 86C82.83 85.5 77.67 84 74 82C70.33 80 67.17 77.33 66 74C64.83 70.67 65.83 66 67 62C68.17 58 71.67 55.33 73 50C74.33 44.67 75.5 39.17 75 30C74.5 20.83 65 0.83 70 -5Z" fill="#c80404"/>
<path d="M74 -5C78.83 -10 99.83 -13.5 105 -5C110.17 3.5 107.5 37.83 105 46C102.5 54.17 94.17 45 90 44C85.83 43 82.33 43.17 80 40C77.67 36.83 77 32.5 76 25C75 17.5 69.17 0 74 -5Z" fill="#870202"/>
<ellipse cx="58" cy="97" rx="5" ry="3" fill="#f93a06"/>
</svg>
<path d="M125.23 395.61L122.38 396.54M129.84 395.61L126.99 396.54M134.45 395.61L131.6 396.54M139.07 395.61L136.21 396.54M143.68 395.61L140.82 396.54M148.29 395.61L145.43 396.54M152.9 395.61L150.05 396.54M157.51 395.61L154.66 396.54M162.12 395.61L159.27 396.54M125.26 400.27L122.35 401M129.87 400.27L126.96 401M134.48 400.27L131.57 401M139.09 400.27L136.18 401M143.71 400.27L140.79 401M148.32 400.27L145.41 401M152.93 400.27L150.02 401M157.54 400.27L154.63 401M162.15 400.27L159.24 401M125.28 404.93L122.33 405.45M129.89 404.93L126.94 405.45M134.5 404.93L131.55 405.45M139.12 404.93L136.16 405.45M143.73 404.93L140.77 405.45M148.34 404.93L145.38 405.45M152.95 404.93L150 405.45M157.56 404.93L154.61 405.45M162.17 404.93L159.22 405.45M125.3 409.59L122.31 409.9M129.91 409.59L126.92 409.9M134.52 409.59L131.54 409.9M139.13 409.59L136.15 409.9M143.74 409.59L140.76 409.9M148.35 409.59L145.37 409.9M152.96 409.59L149.98 409.9M157.58 409.59L154.59 409.9M162.19 409.59L159.2 409.9M125.3 414.25L122.31 414.35M129.92 414.25L126.92 414.35M134.53 414.25L131.53 414.35M139.14 414.25L136.14 414.35M143.75 414.25L140.75 414.35M148.36 414.25L145.36 414.35M152.97 414.25L149.97 414.35M157.58 414.25L154.58 414.35M162.19 414.25L159.2 414.35M125.3 418.91L122.31 418.8M129.92 418.91L126.92 418.8M134.53 418.91L131.53 418.8M139.14 418.91L136.14 418.8M143.75 418.91L140.75 418.8M148.36 418.91L145.36 418.8M152.97 418.91L149.97 418.8M157.58 418.91L154.58 418.8M162.19 418.91L159.2 418.8M125.3 423.57L122.31 423.25M129.91 423.57L126.92 423.25M134.52 423.57L131.54 423.25M139.13 423.57L136.15 423.25M143.74 423.57L140.76 423.25M148.35 423.57L145.37 423.25M152.96 423.57L149.98 423.25M157.58 423.57L154.59 423.25M162.19 423.57L159.2 423.25M125.28 428.23L122.33 427.71M129.89 428.23L126.94 427.71M134.5 428.23L131.55 427.71M139.12 428.23L136.16 427.71M143.73 428.23L140.77 427.71M148.34 428.23L145.38 427.71M152.95 428.23L150 427.71M157.56 428.23L154.61 427.71M162.17 428.23L159.22 427.71M125.26 432.89L122.35 432.16M129.87 432.89L126.96 432.16M134.48 432.89L131.57 432.16M139.09 432.89L136.18 432.16M143.71 432.89L140.79 432.16M148.32 432.89L145.41 432.16M152.93 432.89L150.02 432.16M157.54 432.89L154.63 432.16M162.15 432.89L159.24 432.16" stroke="#1a1000" stroke-opacity="0.32" stroke-width="0.55" fill="none"/>
<svg x="163" y="393.8" width="40" height="41" viewBox="0 0 100 100" preserveAspectRatio="none">
<rect x="-1" y="-1" width="102" height="102" fill="#f93a06"/>
<path d="M-5 -5C13.33 -7.5 86.67 -9.17 105 -5C123.33 -0.83 108.33 16.83 105 20C101.67 23.17 92.5 15.67 85 14C77.5 12.33 69.17 11 60 10C50.83 9 40.83 8 30 8C19.17 8 0.83 12.17 -5 10C-10.83 7.83 -23.33 -2.5 -5 -5Z" fill="#c80404"/>
<path d="M80 -5C82.17 -7.83 100.83 -8.5 105 -5C109.17 -1.5 107.17 13.17 105 16C102.83 18.83 96.17 15.5 92 12C87.83 8.5 77.83 -2.17 80 -5Z" fill="#870202"/>
<path d="M-5 42C-2.17 29.83 6.17 35 12 32C17.83 29 25.33 24.67 30 24C34.67 23.33 37 25 40 28C43 31 43.33 39.17 48 42C52.67 44.83 61 45 68 45C75 45 83.83 42 90 42C96.17 42 102.5 34.5 105 45C107.5 55.5 123.33 95 105 105C86.67 115 13.33 115.5 -5 105C-23.33 94.5 -7.83 54.17 -5 42Z" fill="#ffce0a"/>
<path d="M-5 90C-2.83 85.5 4.33 81.33 8 78C11.67 74.67 12.83 73 17 70C21.17 67 27.5 62.33 33 60C38.5 57.67 44.67 56 50 56C55.33 56 60 58.67 65 60C70 61.33 73.33 63.33 80 64C86.67 64.67 100.83 57.17 105 64C109.17 70.83 123.33 98.17 105 105C86.67 111.83 13.33 107.5 -5 105C-23.33 102.5 -7.17 94.5 -5 90Z" fill="#bae38a"/>
<path d="M56 105C52.67 103.17 56 96.33 58 94C60 91.67 65 91 68 91C71 91 74.33 91.67 76 94C77.67 96.33 81.33 103.17 78 105C74.67 106.83 59.33 106.83 56 105Z" fill="#58c6f8"/>
</svg>
<path d="M165.79 397.47L164.66 394.69M170.09 397.52L169.25 394.64M174.37 397.55L173.85 394.6M178.65 397.57L178.46 394.58M182.92 397.58L183.08 394.58M187.2 397.56L187.69 394.6M191.48 397.52L192.29 394.63M195.78 397.47L196.89 394.68M200.1 397.41L201.46 394.74M165.85 402L164.59 399.27M170.14 402.06L169.19 399.21M174.41 402.1L173.81 399.16M178.66 402.13L178.45 399.14M182.91 402.13L183.09 399.14M187.17 402.11L187.72 399.16M191.43 402.06L192.34 399.2M195.72 402L196.95 399.26M200.03 401.93L201.53 399.34M165.93 406.51L164.52 403.87M170.2 406.59L169.13 403.79M174.45 406.65L173.77 403.73M178.68 406.68L178.43 403.69M182.9 406.69L183.1 403.69M187.13 406.65L187.76 403.72M191.37 406.6L192.41 403.78M195.64 406.52L197.02 403.86M199.94 406.44L201.61 403.94M166.02 411.01L164.42 408.48M170.28 411.11L169.05 408.38M174.51 411.19L173.71 408.3M178.7 411.24L178.41 408.25M182.88 411.24L183.12 408.25M187.07 411.2L187.82 408.29M191.29 411.12L192.49 408.37M195.55 411.02L197.12 408.47M199.85 410.92L201.71 408.57M166.14 415.49L164.31 413.11M170.39 415.61L168.94 412.99M174.59 415.72L173.63 412.88M178.73 415.79L178.38 412.81M182.85 415.79L183.15 412.81M186.99 415.73L187.89 412.87M191.19 415.62L192.59 412.98M195.43 415.5L197.23 413.1M199.74 415.38L201.82 413.22M166.28 419.92L164.17 417.79M170.54 420.08L168.8 417.63M174.71 420.23L173.52 417.48M178.78 420.34L178.33 417.37M182.81 420.34L183.19 417.37M186.88 420.25L188.01 417.46M191.04 420.09L192.73 417.62M195.29 419.94L197.37 417.77M199.61 419.8L201.95 417.91M166.44 424.29L164.01 422.53M170.72 424.47L168.61 422.35M174.89 424.69L173.33 422.13M178.87 424.88L178.24 421.94M182.74 424.89L183.26 421.93M186.71 424.72L188.18 422.11M190.85 424.5L192.93 422.33M195.13 424.31L197.54 422.52M199.48 424.16L202.08 422.66M166.6 428.56L163.85 427.37M170.95 428.74L168.38 427.19M175.18 429.02L173.05 426.91M179.06 429.38L178.05 426.55M182.58 429.41L183.42 426.53M186.42 429.06L188.47 426.88M190.62 428.76L193.16 427.17M194.96 428.58L197.7 427.36M199.36 428.46L202.2 427.48M166.71 432.74L163.74 432.31M171.14 432.82L168.2 432.23M175.54 432.99L172.69 432.05M179.65 433.54L177.46 431.5M182.01 433.65L183.99 431.4M186.03 433.02L188.86 432.02M190.42 432.83L193.36 432.22M194.85 432.74L197.82 432.3M199.29 432.69L202.27 432.35" stroke="#1a1000" stroke-opacity="0.32" stroke-width="0.55" fill="none"/>
<svg x="205" y="393.8" width="37.6" height="41" viewBox="0 0 100 100" preserveAspectRatio="none">
<rect x="-1" y="-1" width="102" height="102" fill="#c80404"/>
<path d="M-5 -5C13.33 -7.5 86.67 -8.17 105 -5C123.33 -1.83 110 10.17 105 14C100 17.83 84.17 17.67 75 18C65.83 18.33 58.33 17 50 16C41.67 15 34.17 13 25 12C15.83 11 0 12.83 -5 10C-10 7.17 -23.33 -2.5 -5 -5Z" fill="#870202"/>
<path d="M-5 24C-1.17 10.83 9.83 25 18 26C26.17 27 36.5 28.83 44 30C51.5 31.17 57.67 31 63 33C68.33 35 72.5 38.17 76 42C79.5 45.83 81.67 51.33 84 56C86.33 60.67 88.5 61.83 90 70C91.5 78.17 108.83 99.17 93 105C77.17 110.83 11.33 118.5 -5 105C-21.33 91.5 -8.83 37.17 -5 24Z" fill="#f93a06"/>
<path d="M-5 60C0 52.67 15.5 59.83 25 61C34.5 62.17 44.5 66.67 52 67C59.5 67.33 65 63 70 63C75 63 79.33 64.17 82 67C84.67 69.83 85 73.67 86 80C87 86.33 103.17 100.83 88 105C72.83 109.17 10.5 112.5 -5 105C-20.5 97.5 -10 67.33 -5 60Z" fill="#ffce0a"/>
</svg>
<path d="M207.09 397.58L207.09 394.58M211.27 397.58L211.27 394.58M215.44 397.58L215.44 394.58M219.62 397.58L219.62 394.58M223.8 397.58L223.8 394.58M227.98 397.58L227.98 394.58M232.16 397.58L232.16 394.58M236.33 397.58L236.33 394.58M240.51 397.58L240.51 394.58M207.09 402.13L207.09 399.13M211.27 402.13L211.27 399.13M215.44 402.13L215.44 399.13M219.62 402.13L219.62 399.13M223.8 402.13L223.8 399.13M227.98 402.13L227.98 399.13M232.16 402.13L232.16 399.13M236.33 402.13L236.33 399.13M240.51 402.13L240.51 399.13M207.09 406.69L207.09 403.69M211.27 406.69L211.27 403.69M215.44 406.69L215.44 403.69M219.62 406.69L219.62 403.69M223.8 406.69L223.8 403.69M227.98 406.69L227.98 403.69M232.16 406.69L232.16 403.69M236.33 406.69L236.33 403.69M240.51 406.69L240.51 403.69M207.09 411.24L207.09 408.24M211.27 411.24L211.27 408.24M215.44 411.24L215.44 408.24M219.62 411.24L219.62 408.24M223.8 411.24L223.8 408.24M227.98 411.24L227.98 408.24M232.16 411.24L232.16 408.24M236.33 411.24L236.33 408.24M240.51 411.24L240.51 408.24M207.09 415.8L207.09 412.8M211.27 415.8L211.27 412.8M215.44 415.8L215.44 412.8M219.62 415.8L219.62 412.8M223.8 415.8L223.8 412.8M227.98 415.8L227.98 412.8M232.16 415.8L232.16 412.8M236.33 415.8L236.33 412.8M240.51 415.8L240.51 412.8M207.09 420.36L207.09 417.36M211.27 420.36L211.27 417.36M215.44 420.36L215.44 417.36M219.62 420.36L219.62 417.36M223.8 420.36L223.8 417.36M227.98 420.36L227.98 417.36M232.16 420.36L232.16 417.36M236.33 420.36L236.33 417.36M240.51 420.36L240.51 417.36M207.09 424.91L207.09 421.91M211.27 424.91L211.27 421.91M215.44 424.91L215.44 421.91M219.62 424.91L219.62 421.91M223.8 424.91L223.8 421.91M227.98 424.91L227.98 421.91M232.16 424.91L232.16 421.91M236.33 424.91L236.33 421.91M240.51 424.91L240.51 421.91M207.09 429.47L207.09 426.47M211.27 429.47L211.27 426.47M215.44 429.47L215.44 426.47M219.62 429.47L219.62 426.47M223.8 429.47L223.8 426.47M227.98 429.47L227.98 426.47M232.16 429.47L232.16 426.47M236.33 429.47L236.33 426.47M240.51 429.47L240.51 426.47M207.09 434.02L207.09 431.02M211.27 434.02L211.27 431.02M215.44 434.02L215.44 431.02M219.62 434.02L219.62 431.02M223.8 434.02L223.8 431.02M227.98 434.02L227.98 431.02M232.16 434.02L232.16 431.02M236.33 434.02L236.33 431.02M240.51 434.02L240.51 431.02" stroke="#1a1000" stroke-opacity="0.32" stroke-width="0.55" fill="none"/>
<svg x="242.6" y="393.8" width="39.8" height="41" viewBox="0 0 100 100" preserveAspectRatio="none">
<rect x="-1" y="-1" width="102" height="102" fill="#c80404"/>
<path d="M84 -5C86.5 -7.83 101.5 -8.17 105 -5C108.5 -1.83 107.5 11.17 105 14C102.5 16.83 93.5 15.17 90 12C86.5 8.83 81.5 -2.17 84 -5Z" fill="#870202"/>
<path d="M-5 -5C7.17 -23.33 55.5 -9.17 68 -5C80.5 -0.83 70 12.5 70 20C70 27.5 68 33.33 68 40C68 46.67 69 54 70 60C71 66 72 74.33 74 76C76 77.67 80 72.33 82 70C84 67.67 85 62 86 62C87 62 89 66.33 88 70C87 73.67 84.33 81.67 80 84C75.67 86.33 65.67 80.5 62 84C58.33 87.5 69.17 101.5 58 105C46.83 108.5 5.5 123.33 -5 105C-15.5 86.67 -17.17 13.33 -5 -5Z" fill="#f93a06"/>
<path d="M-5 -5C5.17 -23.33 45.33 -8.83 56 -5C66.67 -1.17 58.67 10.5 59 18C59.33 25.5 57.83 33 58 40C58.17 47 59.67 54 60 60C60.33 66 61 72 60 76C59 80 55.67 79.17 54 84C52.33 88.83 59.83 101.5 50 105C40.17 108.5 4.17 123.33 -5 105C-14.17 86.67 -15.17 13.33 -5 -5Z" fill="#ffce0a"/>
<path d="M-5 -5C1.33 -23.33 26.33 -8.83 33 -5C39.67 -1.17 35 11.33 35 18C35 24.67 32.5 29.67 33 35C33.5 40.33 36.17 45.5 38 50C39.83 54.5 42.67 58.33 44 62C45.33 65.67 46.67 69 46 72C45.33 75 41.67 74.5 40 80C38.33 85.5 43.5 100.83 36 105C28.5 109.17 1.83 123.33 -5 105C-11.83 86.67 -11.33 13.33 -5 -5Z" fill="#bae38a"/>
<path d="M-5 42C-2.5 31.83 5.83 42.33 10 44C14.17 45.67 16.33 49 20 52C23.67 55 28.67 58.33 32 62C35.33 65.67 38 69.67 40 74C42 78.33 40.67 85 44 88C47.33 91 49.83 91.5 60 92C70.17 92.5 97.5 88.83 105 91C112.5 93.17 123.33 102.67 105 105C86.67 107.33 13.33 115.5 -5 105C-23.33 94.5 -7.5 52.17 -5 42Z" fill="#58c6f8"/>
<path d="M-5 68C-2.5 62 5.5 67.33 10 69C14.5 70.67 18.67 74.17 22 78C25.33 81.83 23.67 89 30 92C36.33 95 47.5 95.33 60 96C72.5 96.67 97.5 94.5 105 96C112.5 97.5 123.33 103.5 105 105C86.67 106.5 13.33 111.17 -5 105C-23.33 98.83 -7.5 74 -5 68Z" fill="#0b5ad2"/>
<path d="M-5 86C-2.83 82.83 4.17 84.67 8 86C11.83 87.33 16 90.83 18 94C20 97.17 23.83 103.17 20 105C16.17 106.83 -0.83 108.17 -5 105C-9.17 101.83 -7.17 89.17 -5 86Z" fill="#062ca2"/>
<path d="M53 80C54.17 78.33 57.17 77 60 77C62.83 77 68.33 78.17 70 80C71.67 81.83 71.67 86.33 70 88C68.33 89.67 62.83 90.17 60 90C57.17 89.83 54.17 88.67 53 87C51.83 85.33 51.83 81.67 53 80Z" fill="#870202"/>
</svg>
<path d="M244.06 397.38L245.56 394.78M248.48 397.38L249.98 394.78M252.91 397.38L254.41 394.78M257.33 397.38L258.83 394.78M261.75 397.38L263.25 394.78M266.17 397.38L267.67 394.78M270.59 397.38L272.09 394.78M275.02 397.38L276.52 394.78M279.44 397.38L280.94 394.78M244.06 401.93L245.56 399.33M248.48 401.93L249.98 399.33M252.91 401.93L254.41 399.33M257.33 401.93L258.83 399.33M261.75 401.93L263.25 399.33M266.17 401.93L267.67 399.33M270.59 401.93L272.09 399.33M275.02 401.93L276.52 399.33M279.44 401.93L280.94 399.33M244.06 406.49L245.56 403.89M248.48 406.49L249.98 403.89M252.91 406.49L254.41 403.89M257.33 406.49L258.83 403.89M261.75 406.49L263.25 403.89M266.17 406.49L267.67 403.89M270.59 406.49L272.09 403.89M275.02 406.49L276.52 403.89M279.44 406.49L280.94 403.89M244.06 411.04L245.56 408.45M248.48 411.04L249.98 408.45M252.91 411.04L254.41 408.45M257.33 411.04L258.83 408.45M261.75 411.04L263.25 408.45M266.17 411.04L267.67 408.45M270.59 411.04L272.09 408.45M275.02 411.04L276.52 408.45M279.44 411.04L280.94 408.45M244.06 415.6L245.56 413M248.48 415.6L249.98 413M252.91 415.6L254.41 413M257.33 415.6L258.83 413M261.75 415.6L263.25 413M266.17 415.6L267.67 413M270.59 415.6L272.09 413M275.02 415.6L276.52 413M279.44 415.6L280.94 413M244.06 420.15L245.56 417.56M248.48 420.15L249.98 417.56M252.91 420.15L254.41 417.56M257.33 420.15L258.83 417.56M261.75 420.15L263.25 417.56M266.17 420.15L267.67 417.56M270.59 420.15L272.09 417.56M275.02 420.15L276.52 417.56M279.44 420.15L280.94 417.56M244.06 424.71L245.56 422.11M248.48 424.71L249.98 422.11M252.91 424.71L254.41 422.11M257.33 424.71L258.83 422.11M261.75 424.71L263.25 422.11M266.17 424.71L267.67 422.11M270.59 424.71L272.09 422.11M275.02 424.71L276.52 422.11M279.44 424.71L280.94 422.11M244.06 429.27L245.56 426.67M248.48 429.27L249.98 426.67M252.91 429.27L254.41 426.67M257.33 429.27L258.83 426.67M261.75 429.27L263.25 426.67M266.17 429.27L267.67 426.67M270.59 429.27L272.09 426.67M275.02 429.27L276.52 426.67M279.44 429.27L280.94 426.67M244.06 433.82L245.56 431.22M248.48 433.82L249.98 431.22M252.91 433.82L254.41 431.22M257.33 433.82L258.83 431.22M261.75 433.82L263.25 431.22M266.17 433.82L267.67 431.22M270.59 433.82L272.09 431.22M275.02 433.82L276.52 431.22M279.44 433.82L280.94 431.22" stroke="#1a1000" stroke-opacity="0.32" stroke-width="0.55" fill="none"/>
<svg x="38.2" y="434.8" width="40.4" height="41.2" viewBox="0 0 100 100" preserveAspectRatio="none">
<rect x="-1" y="-1" width="102" height="102" fill="#c80404"/>
<path d="M56 -5C61.83 -8.5 96.83 -17.17 105 -5C113.17 7.17 106.83 58.83 105 68C103.17 77.17 97.67 55.83 94 50C90.33 44.17 87 38.67 83 33C79 27.33 74.5 22.33 70 16C65.5 9.67 50.17 -1.5 56 -5Z" fill="#870202"/>
<path d="M-5 -5C-2.83 -23.33 5.5 -7.83 8 -5C10.5 -2.17 8.67 7.17 10 12C11.33 16.83 11.83 21.33 16 24C20.17 26.67 29 26 35 28C41 30 47.17 31.33 52 36C56.83 40.67 60.5 49 64 56C67.5 63 70.33 69.83 73 78C75.67 86.17 93 100.5 80 105C67 109.5 9.17 123.33 -5 105C-19.17 86.67 -7.17 13.33 -5 -5Z" fill="#f93a06"/>
<path d="M-5 70C-1.17 64.67 11.33 72 18 73C24.67 74 30 75.17 35 76C40 76.83 45.17 75.67 48 78C50.83 80.33 51.67 85.5 52 90C52.33 94.5 59.5 102.5 50 105C40.5 107.5 4.17 110.83 -5 105C-14.17 99.17 -8.83 75.33 -5 70Z" fill="#ffce0a"/>
</svg>
<path d="M39.38 438.15L41.51 436.03M43.87 438.15L45.99 436.03M48.36 438.15L50.48 436.03M52.85 438.15L54.97 436.03M57.34 438.15L59.46 436.03M61.83 438.15L63.95 436.03M66.32 438.15L68.44 436.03M70.81 438.15L72.93 436.03M75.29 438.15L77.42 436.03M39.38 442.73L41.51 440.61M43.87 442.73L45.99 440.61M48.36 442.73L50.48 440.61M52.85 442.73L54.97 440.61M57.34 442.73L59.46 440.61M61.83 442.73L63.95 440.61M66.32 442.73L68.44 440.61M70.81 442.73L72.93 440.61M75.29 442.73L77.42 440.61M39.38 447.31L41.51 445.18M43.87 447.31L45.99 445.18M48.36 447.31L50.48 445.18M52.85 447.31L54.97 445.18M57.34 447.31L59.46 445.18M61.83 447.31L63.95 445.18M66.32 447.31L68.44 445.18M70.81 447.31L72.93 445.18M75.29 447.31L77.42 445.18M39.38 451.88L41.51 449.76M43.87 451.88L45.99 449.76M48.36 451.88L50.48 449.76M52.85 451.88L54.97 449.76M57.34 451.88L59.46 449.76M61.83 451.88L63.95 449.76M66.32 451.88L68.44 449.76M70.81 451.88L72.93 449.76M75.29 451.88L77.42 449.76M39.38 456.46L41.51 454.34M43.87 456.46L45.99 454.34M48.36 456.46L50.48 454.34M52.85 456.46L54.97 454.34M57.34 456.46L59.46 454.34M61.83 456.46L63.95 454.34M66.32 456.46L68.44 454.34M70.81 456.46L72.93 454.34M75.29 456.46L77.42 454.34M39.38 461.04L41.51 458.92M43.87 461.04L45.99 458.92M48.36 461.04L50.48 458.92M52.85 461.04L54.97 458.92M57.34 461.04L59.46 458.92M61.83 461.04L63.95 458.92M66.32 461.04L68.44 458.92M70.81 461.04L72.93 458.92M75.29 461.04L77.42 458.92M39.38 465.62L41.51 463.49M43.87 465.62L45.99 463.49M48.36 465.62L50.48 463.49M52.85 465.62L54.97 463.49M57.34 465.62L59.46 463.49M61.83 465.62L63.95 463.49M66.32 465.62L68.44 463.49M70.81 465.62L72.93 463.49M75.29 465.62L77.42 463.49M39.38 470.19L41.51 468.07M43.87 470.19L45.99 468.07M48.36 470.19L50.48 468.07M52.85 470.19L54.97 468.07M57.34 470.19L59.46 468.07M61.83 470.19L63.95 468.07M66.32 470.19L68.44 468.07M70.81 470.19L72.93 468.07M75.29 470.19L77.42 468.07M39.38 474.77L41.51 472.65M43.87 474.77L45.99 472.65M48.36 474.77L50.48 472.65M52.85 474.77L54.97 472.65M57.34 474.77L59.46 472.65M61.83 474.77L63.95 472.65M66.32 474.77L68.44 472.65M70.81 474.77L72.93 472.65M75.29 474.77L77.42 472.65" stroke="#1a1000" stroke-opacity="0.32" stroke-width="0.55" fill="none"/>
<svg x="78.6" y="434.8" width="40.9" height="41.2" viewBox="0 0 100 100" preserveAspectRatio="none">
<rect x="-1" y="-1" width="102" height="102" fill="#c80404"/>
<path d="M58 -5C64.17 -9.17 97.17 -14.83 105 -5C112.83 4.83 107.83 44.83 105 54C102.17 63.17 93 52.33 88 50C83 47.67 78.33 45 75 40C71.67 35 70.83 27.5 68 20C65.17 12.5 51.83 -0.83 58 -5Z" fill="#870202"/>
<path d="M-5 -5C3.67 -23.33 36.83 -9.5 47 -5C57.17 -0.5 53.83 13.17 56 22C58.17 30.83 60.67 41.67 60 48C59.33 54.33 52.33 55.5 52 60C51.67 64.5 55 69.67 58 75C61 80.33 67 87 70 92C73 97 88.5 102.83 76 105C63.5 107.17 8.5 123.33 -5 105C-18.5 86.67 -13.67 13.33 -5 -5Z" fill="#f93a06"/>
<path d="M-5 12C-2.17 -2.17 7.17 16.33 12 20C16.83 23.67 19.67 30 24 34C28.33 38 34 40.5 38 44C42 47.5 46 51 48 55C50 59 48 63.5 50 68C52 72.5 56.67 77.33 60 82C63.33 86.67 68 92.17 70 96C72 99.83 84.5 103.5 72 105C59.5 106.5 7.83 120.5 -5 105C-17.83 89.5 -7.83 26.17 -5 12Z" fill="#ffce0a"/>
<path d="M-5 58C-2.83 50.5 4.67 57.17 8 60C11.33 62.83 14 69.67 15 75C16 80.33 15.17 87 14 92C12.83 97 11.17 102.83 8 105C4.83 107.17 -2.83 112.83 -5 105C-7.17 97.17 -7.17 65.5 -5 58Z" fill="#bae38a"/>
</svg>
<path d="M79.81 438.15L81.93 436.03M84.36 438.15L86.48 436.03M88.9 438.15L91.02 436.03M93.44 438.15L95.57 436.03M97.99 438.15L100.11 436.03M102.53 438.15L104.66 436.03M107.08 438.15L109.2 436.03M111.62 438.15L113.74 436.03M116.17 438.15L118.29 436.03M79.81 442.73L81.93 440.61M84.36 442.73L86.48 440.61M88.9 442.73L91.02 440.61M93.44 442.73L95.57 440.61M97.99 442.73L100.11 440.61M102.53 442.73L104.66 440.61M107.08 442.73L109.2 440.61M111.62 442.73L113.74 440.61M116.17 442.73L118.29 440.61M79.81 447.31L81.93 445.18M84.36 447.31L86.48 445.18M88.9 447.31L91.02 445.18M93.44 447.31L95.57 445.18M97.99 447.31L100.11 445.18M102.53 447.31L104.66 445.18M107.08 447.31L109.2 445.18M111.62 447.31L113.74 445.18M116.17 447.31L118.29 445.18M79.81 451.88L81.93 449.76M84.36 451.88L86.48 449.76M88.9 451.88L91.02 449.76M93.44 451.88L95.57 449.76M97.99 451.88L100.11 449.76M102.53 451.88L104.66 449.76M107.08 451.88L109.2 449.76M111.62 451.88L113.74 449.76M116.17 451.88L118.29 449.76M79.81 456.46L81.93 454.34M84.36 456.46L86.48 454.34M88.9 456.46L91.02 454.34M93.44 456.46L95.57 454.34M97.99 456.46L100.11 454.34M102.53 456.46L104.66 454.34M107.08 456.46L109.2 454.34M111.62 456.46L113.74 454.34M116.17 456.46L118.29 454.34M79.81 461.04L81.93 458.92M84.36 461.04L86.48 458.92M88.9 461.04L91.02 458.92M93.44 461.04L95.57 458.92M97.99 461.04L100.11 458.92M102.53 461.04L104.66 458.92M107.08 461.04L109.2 458.92M111.62 461.04L113.74 458.92M116.17 461.04L118.29 458.92M79.81 465.62L81.93 463.49M84.36 465.62L86.48 463.49M88.9 465.62L91.02 463.49M93.44 465.62L95.57 463.49M97.99 465.62L100.11 463.49M102.53 465.62L104.66 463.49M107.08 465.62L109.2 463.49M111.62 465.62L113.74 463.49M116.17 465.62L118.29 463.49M79.81 470.19L81.93 468.07M84.36 470.19L86.48 468.07M88.9 470.19L91.02 468.07M93.44 470.19L95.57 468.07M97.99 470.19L100.11 468.07M102.53 470.19L104.66 468.07M107.08 470.19L109.2 468.07M111.62 470.19L113.74 468.07M116.17 470.19L118.29 468.07M79.81 474.77L81.93 472.65M84.36 474.77L86.48 472.65M88.9 474.77L91.02 472.65M93.44 474.77L95.57 472.65M97.99 474.77L100.11 472.65M102.53 474.77L104.66 472.65M107.08 474.77L109.2 472.65M111.62 474.77L113.74 472.65M116.17 474.77L118.29 472.65" stroke="#1a1000" stroke-opacity="0.32" stroke-width="0.55" fill="none"/>
<svg x="121.5" y="434.8" width="41.5" height="41.2" viewBox="0 0 100 100" preserveAspectRatio="none">
<rect x="-1" y="-1" width="102" height="102" fill="#bae38a"/>
<path d="M-5 28C-1.83 14.67 8.17 24.33 14 25C19.83 25.67 26 28.5 30 32C34 35.5 37.67 41.33 38 46C38.33 50.67 33.67 54.67 32 60C30.33 65.33 27.67 70.5 28 78C28.33 85.5 39.5 100.5 34 105C28.5 109.5 1.5 117.83 -5 105C-11.5 92.17 -8.17 41.33 -5 28Z" fill="#58c6f8"/>
<path d="M-5 63C-2.5 56.83 6.5 60.83 10 63C13.5 65.17 14 71.5 16 76C18 80.5 21.33 86 22 90C22.67 94 24.5 98.33 20 100C15.5 101.67 -0.83 106.17 -5 100C-9.17 93.83 -7.5 69.17 -5 63Z" fill="#0b5ad2"/>
<path d="M45 -5C53.83 -7.83 95 -23.33 105 -5C115 13.33 112.5 86.67 105 105C97.5 123.33 68.33 108.33 60 105C51.67 101.67 57.5 90.83 55 85C52.5 79.17 47.17 75.83 45 70C42.83 64.17 41.5 56.67 42 50C42.5 43.33 46.33 36.33 48 30C49.67 23.67 52.5 17.83 52 12C51.5 6.17 36.17 -2.17 45 -5Z" fill="#ffce0a"/>
<path d="M68 -5C73.5 -9.17 98.83 -15.17 105 -5C111.17 5.17 107.5 45.5 105 56C102.5 66.5 95.17 58.33 90 58C84.83 57.67 77.33 57 74 54C70.67 51 70.33 45.67 70 40C69.67 34.33 72.33 27.5 72 20C71.67 12.5 62.5 -0.83 68 -5Z" fill="#f93a06"/>
<path d="M71 -5C76 -8.83 99.33 -14.67 105 -5C110.67 4.67 107.5 43 105 53C102.5 63 94.83 55.5 90 55C85.17 54.5 78.83 52.83 76 50C73.17 47.17 73.17 43.33 73 38C72.83 32.67 75.33 25.17 75 18C74.67 10.83 66 -1.17 71 -5Z" fill="#c80404"/>
<path d="M76 0C80.67 -5 100.17 -8 105 0C109.83 8 107.5 39.67 105 48C102.5 56.33 94.17 50.33 90 50C85.83 49.67 82.17 49.33 80 46C77.83 42.67 77.67 37.67 77 30C76.33 22.33 71.33 5 76 0Z" fill="#870202"/>
<path d="M72 66C73.33 62.33 76.67 60.67 80 60C83.33 59.33 89.5 59 92 62C94.5 65 95.33 73 95 78C94.67 83 92.83 89.33 90 92C87.17 94.67 81 95.67 78 94C75 92.33 73 86.67 72 82C71 77.33 70.67 69.67 72 66Z" fill="#f93a06"/>
<path d="M75 68C76.17 65.33 79.5 64.33 82 64C84.5 63.67 88.33 63.67 90 66C91.67 68.33 92.33 74.33 92 78C91.67 81.67 90.17 86 88 88C85.83 90 81.17 91.33 79 90C76.83 88.67 75.67 83.67 75 80C74.33 76.33 73.83 70.67 75 68Z" fill="#c80404"/>
<path d="M-5 -5C2.5 -5.83 32.83 -5.67 40 -5C47.17 -4.33 45.5 -1.83 38 -1C30.5 -0.17 2.17 0.67 -5 0C-12.17 -0.67 -12.5 -4.17 -5 -5Z" fill="#0b5ad2"/>
</svg>
<path d="M125.23 436.63L122.38 437.55M129.84 436.63L126.99 437.55M134.45 436.63L131.6 437.55M139.07 436.63L136.21 437.55M143.68 436.63L140.82 437.55M148.29 436.63L145.43 437.55M152.9 436.63L150.05 437.55M157.51 436.63L154.66 437.55M162.12 436.63L159.27 437.55M125.26 441.3L122.35 442.03M129.87 441.3L126.96 442.03M134.48 441.3L131.57 442.03M139.09 441.3L136.18 442.03M143.71 441.3L140.79 442.03M148.32 441.3L145.41 442.03M152.93 441.3L150.02 442.03M157.54 441.3L154.63 442.03M162.15 441.3L159.24 442.03M125.28 445.98L122.33 446.5M129.89 445.98L126.94 446.5M134.5 445.98L131.55 446.5M139.12 445.98L136.16 446.5M143.73 445.98L140.77 446.5M148.34 445.98L145.38 446.5M152.95 445.98L150 446.5M157.56 445.98L154.61 446.5M162.17 445.98L159.22 446.5M125.3 450.67L122.31 450.98M129.91 450.67L126.92 450.98M134.52 450.67L131.54 450.98M139.13 450.67L136.15 450.98M143.74 450.67L140.76 450.98M148.35 450.67L145.37 450.98M152.96 450.67L149.98 450.98M157.58 450.67L154.59 450.98M162.19 450.67L159.2 450.98M125.3 455.35L122.31 455.45M129.92 455.35L126.92 455.45M134.53 455.35L131.53 455.45M139.14 455.35L136.14 455.45M143.75 455.35L140.75 455.45M148.36 455.35L145.36 455.45M152.97 455.35L149.97 455.45M157.58 455.35L154.58 455.45M162.19 455.35L159.2 455.45M125.3 460.03L122.31 459.93M129.92 460.03L126.92 459.93M134.53 460.03L131.53 459.93M139.14 460.03L136.14 459.93M143.75 460.03L140.75 459.93M148.36 460.03L145.36 459.93M152.97 460.03L149.97 459.93M157.58 460.03L154.58 459.93M162.19 460.03L159.2 459.93M125.3 464.71L122.31 464.4M129.91 464.71L126.92 464.4M134.52 464.71L131.54 464.4M139.13 464.71L136.15 464.4M143.74 464.71L140.76 464.4M148.35 464.71L145.37 464.4M152.96 464.71L149.98 464.4M157.58 464.71L154.59 464.4M162.19 464.71L159.2 464.4M125.28 469.39L122.33 468.87M129.89 469.39L126.94 468.87M134.5 469.39L131.55 468.87M139.12 469.39L136.16 468.87M143.73 469.39L140.77 468.87M148.34 469.39L145.38 468.87M152.95 469.39L150 468.87M157.56 469.39L154.61 468.87M162.17 469.39L159.22 468.87M125.26 474.07L122.35 473.35M129.87 474.07L126.96 473.35M134.48 474.07L131.57 473.35M139.09 474.07L136.18 473.35M143.71 474.07L140.79 473.35M148.32 474.07L145.41 473.35M152.93 474.07L150.02 473.35M157.54 474.07L154.63 473.35M162.15 474.07L159.24 473.35" stroke="#1a1000" stroke-opacity="0.32" stroke-width="0.55" fill="none"/>
<svg x="163" y="434.8" width="40" height="41.2" viewBox="0 0 100 100" preserveAspectRatio="none">
<rect x="-1" y="-1" width="102" height="102" fill="#bae38a"/>
<path d="M-5 -5C13.33 -14.5 86.67 -12.83 105 -5C123.33 2.83 109.17 34.83 105 42C100.83 49.17 88.33 39 80 38C71.67 37 62.5 35 55 36C47.5 37 41.67 41.67 35 44C28.33 46.33 21.67 48.67 15 50C8.33 51.33 -1.67 61.17 -5 52C-8.33 42.83 -23.33 4.5 -5 -5Z" fill="#ffce0a"/>
<path d="M-5 -5C13.33 -9.5 86.67 -10.17 105 -5C123.33 0.17 108.33 21.17 105 26C101.67 30.83 92.5 25.33 85 24C77.5 22.67 68.33 18.67 60 18C51.67 17.33 43.33 19.67 35 20C26.67 20.33 16.67 19.67 10 20C3.33 20.33 -2.5 26.17 -5 22C-7.5 17.83 -23.33 -0.5 -5 -5Z" fill="#f93a06"/>
<path d="M62 -5C67.83 -7.5 97.83 -9.17 105 -5C112.17 -0.83 107.83 16.17 105 20C102.17 23.83 93.83 19.67 88 18C82.17 16.33 74.33 13.83 70 10C65.67 6.17 56.17 -2.5 62 -5Z" fill="#c80404"/>
<path d="M72 0C75.33 -2 99.5 -2 105 0C110.5 2 108.33 10 105 12C101.67 14 90.5 14 85 12C79.5 10 68.67 2 72 0Z" fill="#870202"/>
<path d="M6 105C-5.5 102.17 11.67 92.5 15 88C18.33 83.5 21.83 81.17 26 78C30.17 74.83 35.33 70.5 40 69C44.67 67.5 49.33 67.5 54 69C58.67 70.5 64 74.83 68 78C72 81.17 75.33 83.5 78 88C80.67 92.5 96 102.17 84 105C72 107.83 17.5 107.83 6 105Z" fill="#58c6f8"/>
</svg>
<path d="M165.79 438.48L164.66 435.7M170.09 438.53L169.25 435.65M174.37 438.57L173.85 435.61M178.65 438.59L178.46 435.59M182.92 438.59L183.08 435.59M187.2 438.57L187.69 435.61M191.48 438.53L192.29 435.64M195.78 438.48L196.88 435.69M200.1 438.43L201.46 435.75M165.85 443.03L164.6 440.3M170.14 443.09L169.2 440.24M174.41 443.14L173.82 440.2M178.66 443.16L178.45 440.17M182.91 443.16L183.09 440.17M187.17 443.14L187.72 440.19M191.44 443.1L192.34 440.24M195.72 443.04L196.95 440.3M200.03 442.97L201.53 440.37M165.92 447.57L164.52 444.92M170.2 447.65L169.13 444.84M174.45 447.71L173.77 444.78M178.68 447.74L178.43 444.75M182.9 447.74L183.1 444.75M187.13 447.71L187.76 444.78M191.37 447.65L192.4 444.84M195.65 447.58L197.02 444.91M199.95 447.49L201.61 445M166.02 452.09L164.43 449.55M170.28 452.19L169.05 449.45M174.51 452.27L173.72 449.38M178.7 452.32L178.41 449.33M182.88 452.32L183.12 449.33M187.07 452.28L187.82 449.37M191.29 452.2L192.48 449.45M195.55 452.1L197.11 449.54M199.85 452L201.7 449.64M166.13 456.59L164.31 454.21M170.39 456.71L168.94 454.09M174.59 456.82L173.64 453.98M178.73 456.89L178.38 453.91M182.86 456.89L183.14 453.91M187 456.83L187.89 453.97M191.19 456.73L192.59 454.07M195.44 456.6L197.23 454.2M199.74 456.48L201.82 454.32M166.27 461.05L164.17 458.91M170.53 461.2L168.8 458.75M174.7 461.36L173.52 458.6M178.78 461.46L178.33 458.49M182.81 461.47L183.19 458.49M186.88 461.37L188 458.59M191.05 461.22L192.73 458.74M195.3 461.06L197.37 458.89M199.61 460.92L201.94 459.03M166.44 465.44L164.01 463.67M170.72 465.62L168.61 463.49M174.88 465.84L173.34 463.27M178.87 466.02L178.24 463.09M182.74 466.03L183.26 463.08M186.71 465.86L188.18 463.25M190.85 465.64L192.92 463.47M195.13 465.45L197.54 463.66M199.48 465.31L202.08 463.8M166.6 469.73L163.85 468.53M170.95 469.91L168.38 468.36M175.17 470.19L173.05 468.07M179.06 470.55L178.05 467.72M182.58 470.57L183.42 467.69M186.42 470.23L188.47 468.04M190.62 469.93L193.16 468.33M194.96 469.75L197.7 468.52M199.36 469.63L202.19 468.64M166.71 473.93L163.74 473.5M171.14 474.01L168.2 473.41M175.53 474.18L172.69 473.24M179.65 474.74L177.46 472.69M182.01 474.84L183.99 472.58M186.03 474.21L188.86 473.21M190.42 474.02L193.36 473.4M194.85 473.93L197.82 473.49M199.29 473.88L202.27 473.54" stroke="#1a1000" stroke-opacity="0.32" stroke-width="0.55" fill="none"/>
<svg x="205" y="434.8" width="37.6" height="41.2" viewBox="0 0 100 100" preserveAspectRatio="none">
<rect x="-1" y="-1" width="102" height="102" fill="#c80404"/>
<path d="M58 -5C64.17 -6.83 97.17 -8.83 105 -5C112.83 -1.17 108.83 14.83 105 18C101.17 21.17 88.17 16 82 14C75.83 12 72 9.17 68 6C64 2.83 51.83 -3.17 58 -5Z" fill="#870202"/>
<path d="M-5 18C-1.17 4.17 9.83 20.67 18 22C26.17 23.33 36 24.67 44 26C52 27.33 60.67 27 66 30C71.33 33 73 38.17 76 44C79 49.83 80.5 59.67 84 65C87.5 70.33 93.5 73.5 97 76C100.5 78.5 103.67 75.17 105 80C106.33 84.83 123.33 100.83 105 105C86.67 109.17 13.33 119.5 -5 105C-23.33 90.5 -8.83 31.83 -5 18Z" fill="#f93a06"/>
<path d="M-5 68C0 62.17 15.5 69 25 70C34.5 71 45 74 52 74C59 74 62 70 67 70C72 70 77.67 72 82 74C86.33 76 89.17 80.17 93 82C96.83 83.83 103 81.17 105 85C107 88.83 123.33 101.67 105 105C86.67 108.33 13.33 111.17 -5 105C-23.33 98.83 -10 73.83 -5 68Z" fill="#ffce0a"/>
</svg>
<path d="M207.09 438.59L207.09 435.59M211.27 438.59L211.27 435.59M215.44 438.59L215.44 435.59M219.62 438.59L219.62 435.59M223.8 438.59L223.8 435.59M227.98 438.59L227.98 435.59M232.16 438.59L232.16 435.59M236.33 438.59L236.33 435.59M240.51 438.59L240.51 435.59M207.09 443.17L207.09 440.17M211.27 443.17L211.27 440.17M215.44 443.17L215.44 440.17M219.62 443.17L219.62 440.17M223.8 443.17L223.8 440.17M227.98 443.17L227.98 440.17M232.16 443.17L232.16 440.17M236.33 443.17L236.33 440.17M240.51 443.17L240.51 440.17M207.09 447.74L207.09 444.74M211.27 447.74L211.27 444.74M215.44 447.74L215.44 444.74M219.62 447.74L219.62 444.74M223.8 447.74L223.8 444.74M227.98 447.74L227.98 444.74M232.16 447.74L232.16 444.74M236.33 447.74L236.33 444.74M240.51 447.74L240.51 444.74M207.09 452.32L207.09 449.32M211.27 452.32L211.27 449.32M215.44 452.32L215.44 449.32M219.62 452.32L219.62 449.32M223.8 452.32L223.8 449.32M227.98 452.32L227.98 449.32M232.16 452.32L232.16 449.32M236.33 452.32L236.33 449.32M240.51 452.32L240.51 449.32M207.09 456.9L207.09 453.9M211.27 456.9L211.27 453.9M215.44 456.9L215.44 453.9M219.62 456.9L219.62 453.9M223.8 456.9L223.8 453.9M227.98 456.9L227.98 453.9M232.16 456.9L232.16 453.9M236.33 456.9L236.33 453.9M240.51 456.9L240.51 453.9M207.09 461.48L207.09 458.48M211.27 461.48L211.27 458.48M215.44 461.48L215.44 458.48M219.62 461.48L219.62 458.48M223.8 461.48L223.8 458.48M227.98 461.48L227.98 458.48M232.16 461.48L232.16 458.48M236.33 461.48L236.33 458.48M240.51 461.48L240.51 458.48M207.09 466.06L207.09 463.06M211.27 466.06L211.27 463.06M215.44 466.06L215.44 463.06M219.62 466.06L219.62 463.06M223.8 466.06L223.8 463.06M227.98 466.06L227.98 463.06M232.16 466.06L232.16 463.06M236.33 466.06L236.33 463.06M240.51 466.06L240.51 463.06M207.09 470.63L207.09 467.63M211.27 470.63L211.27 467.63M215.44 470.63L215.44 467.63M219.62 470.63L219.62 467.63M223.8 470.63L223.8 467.63M227.98 470.63L227.98 467.63M232.16 470.63L232.16 467.63M236.33 470.63L236.33 467.63M240.51 470.63L240.51 467.63M207.09 475.21L207.09 472.21M211.27 475.21L211.27 472.21M215.44 475.21L215.44 472.21M219.62 475.21L219.62 472.21M223.8 475.21L223.8 472.21M227.98 475.21L227.98 472.21M232.16 475.21L232.16 472.21M236.33 475.21L236.33 472.21M240.51 475.21L240.51 472.21" stroke="#1a1000" stroke-opacity="0.32" stroke-width="0.55" fill="none"/>
<svg x="242.6" y="434.8" width="39.8" height="41.2" viewBox="0 0 100 100" preserveAspectRatio="none">
<rect x="-1" y="-1" width="102" height="102" fill="#c80404"/>
<path d="M80 -5C83.17 -10 100.83 -19.17 105 -5C109.17 9.17 106.17 67.17 105 80C103.83 92.83 100.17 77 98 72C95.83 67 94 57.83 92 50C90 42.17 88 34.17 86 25C84 15.83 76.83 0 80 -5Z" fill="#870202"/>
<path d="M-5 -5C5.83 -23.33 48.5 -8.33 60 -5C71.5 -1.67 62.33 8.33 64 15C65.67 21.67 68.33 28.33 70 35C71.67 41.67 73 48.83 74 55C75 61.17 75.67 67 76 72C76.33 77 76.33 79.5 76 85C75.67 90.5 87.5 101.67 74 105C60.5 108.33 8.17 123.33 -5 105C-18.17 86.67 -15.83 13.33 -5 -5Z" fill="#f93a06"/>
<path d="M-5 -5C3.17 -23.33 35.17 -7.83 44 -5C52.83 -2.17 46 6.17 48 12C50 17.83 54 23.67 56 30C58 36.33 58.67 43.67 60 50C61.33 56.33 64 62.17 64 68C64 73.83 62.33 78.83 60 85C57.67 91.17 60.83 101.67 50 105C39.17 108.33 4.17 123.33 -5 105C-14.17 86.67 -13.17 13.33 -5 -5Z" fill="#ffce0a"/>
<path d="M-5 14C-2.5 -1.17 5.17 13.67 10 14C14.83 14.33 20 13.67 24 16C28 18.33 31.33 23.17 34 28C36.67 32.83 38 39.33 40 45C42 50.67 45.33 56.17 46 62C46.67 67.83 45 72.83 44 80C43 87.17 48.17 100.83 40 105C31.83 109.17 2.5 120.17 -5 105C-12.5 89.83 -7.5 29.17 -5 14Z" fill="#bae38a"/>
<path d="M-5 66C-2.5 58.83 5.5 62.33 10 62C14.5 61.67 18.67 62 22 64C25.33 66 27 70.67 30 74C33 77.33 37.33 83.33 40 84C42.67 84.67 44 79.67 46 78C48 76.33 49.33 74.33 52 74C54.67 73.67 58.67 75 62 76C65.33 77 70 77.33 72 80C74 82.67 74 87.83 74 92C74 96.17 85.17 102.83 72 105C58.83 107.17 7.83 111.5 -5 105C-17.83 98.5 -7.5 73.17 -5 66Z" fill="#58c6f8"/>
<path d="M-5 80C-2.5 75.83 5.83 78.33 10 80C14.17 81.67 17.33 85.83 20 90C22.67 94.17 30.17 102.5 26 105C21.83 107.5 0.17 109.17 -5 105C-10.17 100.83 -7.5 84.17 -5 80Z" fill="#0b5ad2"/>
<path d="M56 105C53.67 102.17 55 91.83 56 88C57 84.17 59.67 82.33 62 82C64.33 81.67 68.67 82.17 70 86C71.33 89.83 72.33 101.83 70 105C67.67 108.17 58.33 107.83 56 105Z" fill="#0b5ad2"/>
<path d="M92 105C90 102.83 91.67 94.83 93 92C94.33 89.17 98 88.33 100 88C102 87.67 104.17 87.17 105 90C105.83 92.83 107.17 102.5 105 105C102.83 107.5 94 107.17 92 105Z" fill="#ffce0a"/>
</svg>
<path d="M244.06 438.39L245.56 435.79M248.48 438.39L249.98 435.79M252.91 438.39L254.41 435.79M257.33 438.39L258.83 435.79M261.75 438.39L263.25 435.79M266.17 438.39L267.67 435.79M270.59 438.39L272.09 435.79M275.02 438.39L276.52 435.79M279.44 438.39L280.94 435.79M244.06 442.97L245.56 440.37M248.48 442.97L249.98 440.37M252.91 442.97L254.41 440.37M257.33 442.97L258.83 440.37M261.75 442.97L263.25 440.37M266.17 442.97L267.67 440.37M270.59 442.97L272.09 440.37M275.02 442.97L276.52 440.37M279.44 442.97L280.94 440.37M244.06 447.54L245.56 444.95M248.48 447.54L249.98 444.95M252.91 447.54L254.41 444.95M257.33 447.54L258.83 444.95M261.75 447.54L263.25 444.95M266.17 447.54L267.67 444.95M270.59 447.54L272.09 444.95M275.02 447.54L276.52 444.95M279.44 447.54L280.94 444.95M244.06 452.12L245.56 449.52M248.48 452.12L249.98 449.52M252.91 452.12L254.41 449.52M257.33 452.12L258.83 449.52M261.75 452.12L263.25 449.52M266.17 452.12L267.67 449.52M270.59 452.12L272.09 449.52M275.02 452.12L276.52 449.52M279.44 452.12L280.94 449.52M244.06 456.7L245.56 454.1M248.48 456.7L249.98 454.1M252.91 456.7L254.41 454.1M257.33 456.7L258.83 454.1M261.75 456.7L263.25 454.1M266.17 456.7L267.67 454.1M270.59 456.7L272.09 454.1M275.02 456.7L276.52 454.1M279.44 456.7L280.94 454.1M244.06 461.28L245.56 458.68M248.48 461.28L249.98 458.68M252.91 461.28L254.41 458.68M257.33 461.28L258.83 458.68M261.75 461.28L263.25 458.68M266.17 461.28L267.67 458.68M270.59 461.28L272.09 458.68M275.02 461.28L276.52 458.68M279.44 461.28L280.94 458.68M244.06 465.85L245.56 463.26M248.48 465.85L249.98 463.26M252.91 465.85L254.41 463.26M257.33 465.85L258.83 463.26M261.75 465.85L263.25 463.26M266.17 465.85L267.67 463.26M270.59 465.85L272.09 463.26M275.02 465.85L276.52 463.26M279.44 465.85L280.94 463.26M244.06 470.43L245.56 467.83M248.48 470.43L249.98 467.83M252.91 470.43L254.41 467.83M257.33 470.43L258.83 467.83M261.75 470.43L263.25 467.83M266.17 470.43L267.67 467.83M270.59 470.43L272.09 467.83M275.02 470.43L276.52 467.83M279.44 470.43L280.94 467.83M244.06 475.01L245.56 472.41M248.48 475.01L249.98 472.41M252.91 475.01L254.41 472.41M257.33 475.01L258.83 472.41M261.75 475.01L263.25 472.41M266.17 475.01L267.67 472.41M270.59 475.01L272.09 472.41M275.02 475.01L276.52 472.41M279.44 475.01L280.94 472.41" stroke="#1a1000" stroke-opacity="0.32" stroke-width="0.55" fill="none"/>
<svg x="38.2" y="476" width="40.4" height="41.4" viewBox="0 0 100 100" preserveAspectRatio="none">
<rect x="-1" y="-1" width="102" height="102" fill="#c80404"/>
<path d="M60 -5C65.17 -8.33 97.5 -14.17 105 -5C112.5 4.17 107.83 44.17 105 50C102.17 55.83 93.17 35.83 88 30C82.83 24.17 78.67 20.83 74 15C69.33 9.17 54.83 -1.67 60 -5Z" fill="#870202"/>
<path d="M-5 -5C-2.5 -23.33 7.17 -7.83 10 -5C12.83 -2.17 9 6.5 12 12C15 17.5 22 24.67 28 28C34 31.33 42.33 29.67 48 32C53.67 34.33 58 37 62 42C66 47 68.67 55.33 72 62C75.33 68.67 79.33 74.83 82 82C84.67 89.17 102.5 101.17 88 105C73.5 108.83 10.5 123.33 -5 105C-20.5 86.67 -7.5 13.33 -5 -5Z" fill="#f93a06"/>
<path d="M-5 62C-1.17 55.17 10.83 62.67 18 64C25.17 65.33 33 68 38 70C43 72 45.33 72.67 48 76C50.67 79.33 52.67 85.17 54 90C55.33 94.83 65.83 102.5 56 105C46.17 107.5 5.17 112.17 -5 105C-15.17 97.83 -8.83 68.83 -5 62Z" fill="#ffce0a"/>
</svg>
<path d="M39.38 479.36L41.51 477.24M43.87 479.36L45.99 477.24M48.36 479.36L50.48 477.24M52.85 479.36L54.97 477.24M57.34 479.36L59.46 477.24M61.83 479.36L63.95 477.24M66.32 479.36L68.44 477.24M70.81 479.36L72.93 477.24M75.29 479.36L77.42 477.24M39.38 483.96L41.51 481.84M43.87 483.96L45.99 481.84M48.36 483.96L50.48 481.84M52.85 483.96L54.97 481.84M57.34 483.96L59.46 481.84M61.83 483.96L63.95 481.84M66.32 483.96L68.44 481.84M70.81 483.96L72.93 481.84M75.29 483.96L77.42 481.84M39.38 488.56L41.51 486.44M43.87 488.56L45.99 486.44M48.36 488.56L50.48 486.44M52.85 488.56L54.97 486.44M57.34 488.56L59.46 486.44M61.83 488.56L63.95 486.44M66.32 488.56L68.44 486.44M70.81 488.56L72.93 486.44M75.29 488.56L77.42 486.44M39.38 493.16L41.51 491.04M43.87 493.16L45.99 491.04M48.36 493.16L50.48 491.04M52.85 493.16L54.97 491.04M57.34 493.16L59.46 491.04M61.83 493.16L63.95 491.04M66.32 493.16L68.44 491.04M70.81 493.16L72.93 491.04M75.29 493.16L77.42 491.04M39.38 497.76L41.51 495.64M43.87 497.76L45.99 495.64M48.36 497.76L50.48 495.64M52.85 497.76L54.97 495.64M57.34 497.76L59.46 495.64M61.83 497.76L63.95 495.64M66.32 497.76L68.44 495.64M70.81 497.76L72.93 495.64M75.29 497.76L77.42 495.64M39.38 502.36L41.51 500.24M43.87 502.36L45.99 500.24M48.36 502.36L50.48 500.24M52.85 502.36L54.97 500.24M57.34 502.36L59.46 500.24M61.83 502.36L63.95 500.24M66.32 502.36L68.44 500.24M70.81 502.36L72.93 500.24M75.29 502.36L77.42 500.24M39.38 506.96L41.51 504.84M43.87 506.96L45.99 504.84M48.36 506.96L50.48 504.84M52.85 506.96L54.97 504.84M57.34 506.96L59.46 504.84M61.83 506.96L63.95 504.84M66.32 506.96L68.44 504.84M70.81 506.96L72.93 504.84M75.29 506.96L77.42 504.84M39.38 511.56L41.51 509.44M43.87 511.56L45.99 509.44M48.36 511.56L50.48 509.44M52.85 511.56L54.97 509.44M57.34 511.56L59.46 509.44M61.83 511.56L63.95 509.44M66.32 511.56L68.44 509.44M70.81 511.56L72.93 509.44M75.29 511.56L77.42 509.44M39.38 516.16L41.51 514.04M43.87 516.16L45.99 514.04M48.36 516.16L50.48 514.04M52.85 516.16L54.97 514.04M57.34 516.16L59.46 514.04M61.83 516.16L63.95 514.04M66.32 516.16L68.44 514.04M70.81 516.16L72.93 514.04M75.29 516.16L77.42 514.04" stroke="#1a1000" stroke-opacity="0.32" stroke-width="0.55" fill="none"/>
<svg x="78.6" y="476" width="40.9" height="41.4" viewBox="0 0 100 100" preserveAspectRatio="none">
<rect x="-1" y="-1" width="102" height="102" fill="#c80404"/>
<path d="M58 -5C64.17 -8.83 97.17 -15.83 105 -5C112.83 5.83 107.17 49.83 105 60C102.83 70.17 96.5 59 92 56C87.5 53 82 48.33 78 42C74 35.67 71.33 25.83 68 18C64.67 10.17 51.83 -1.17 58 -5Z" fill="#870202"/>
<path d="M-5 -5C0.33 -23.33 18.83 -8.33 27 -5C35.17 -1.67 39.5 8.33 44 15C48.5 21.67 51.17 28.83 54 35C56.83 41.17 58.67 46.17 61 52C63.33 57.83 64.5 64.83 68 70C71.5 75.17 78.5 77.17 82 83C85.5 88.83 103.5 101.33 89 105C74.5 108.67 10.67 123.33 -5 105C-20.67 86.67 -10.33 13.33 -5 -5Z" fill="#f93a06"/>
<path d="M-5 22C-2 10.33 8.83 30.5 13 35C17.17 39.5 16.67 43.83 20 49C23.33 54.17 28.5 62 33 66C37.5 70 43.5 69.67 47 73C50.5 76.33 52.17 80.67 54 86C55.83 91.33 67.83 101.83 58 105C48.17 108.17 5.5 118.83 -5 105C-15.5 91.17 -8 33.67 -5 22Z" fill="#ffce0a"/>
<path d="M-5 80C-2.83 76.17 5 77.83 8 82C11 86.17 15.17 101.17 13 105C10.83 108.83 -2 109.17 -5 105C-8 100.83 -7.17 83.83 -5 80Z" fill="#bae38a"/>
<path d="M84 105C81.17 102.83 84.5 94.5 88 92C91.5 89.5 102.17 87.83 105 90C107.83 92.17 108.5 102.5 105 105C101.5 107.5 86.83 107.17 84 105Z" fill="#ffce0a"/>
</svg>
<path d="M79.81 479.36L81.93 477.24M84.36 479.36L86.48 477.24M88.9 479.36L91.02 477.24M93.44 479.36L95.57 477.24M97.99 479.36L100.11 477.24M102.53 479.36L104.66 477.24M107.08 479.36L109.2 477.24M111.62 479.36L113.74 477.24M116.17 479.36L118.29 477.24M79.81 483.96L81.93 481.84M84.36 483.96L86.48 481.84M88.9 483.96L91.02 481.84M93.44 483.96L95.57 481.84M97.99 483.96L100.11 481.84M102.53 483.96L104.66 481.84M107.08 483.96L109.2 481.84M111.62 483.96L113.74 481.84M116.17 483.96L118.29 481.84M79.81 488.56L81.93 486.44M84.36 488.56L86.48 486.44M88.9 488.56L91.02 486.44M93.44 488.56L95.57 486.44M97.99 488.56L100.11 486.44M102.53 488.56L104.66 486.44M107.08 488.56L109.2 486.44M111.62 488.56L113.74 486.44M116.17 488.56L118.29 486.44M79.81 493.16L81.93 491.04M84.36 493.16L86.48 491.04M88.9 493.16L91.02 491.04M93.44 493.16L95.57 491.04M97.99 493.16L100.11 491.04M102.53 493.16L104.66 491.04M107.08 493.16L109.2 491.04M111.62 493.16L113.74 491.04M116.17 493.16L118.29 491.04M79.81 497.76L81.93 495.64M84.36 497.76L86.48 495.64M88.9 497.76L91.02 495.64M93.44 497.76L95.57 495.64M97.99 497.76L100.11 495.64M102.53 497.76L104.66 495.64M107.08 497.76L109.2 495.64M111.62 497.76L113.74 495.64M116.17 497.76L118.29 495.64M79.81 502.36L81.93 500.24M84.36 502.36L86.48 500.24M88.9 502.36L91.02 500.24M93.44 502.36L95.57 500.24M97.99 502.36L100.11 500.24M102.53 502.36L104.66 500.24M107.08 502.36L109.2 500.24M111.62 502.36L113.74 500.24M116.17 502.36L118.29 500.24M79.81 506.96L81.93 504.84M84.36 506.96L86.48 504.84M88.9 506.96L91.02 504.84M93.44 506.96L95.57 504.84M97.99 506.96L100.11 504.84M102.53 506.96L104.66 504.84M107.08 506.96L109.2 504.84M111.62 506.96L113.74 504.84M116.17 506.96L118.29 504.84M79.81 511.56L81.93 509.44M84.36 511.56L86.48 509.44M88.9 511.56L91.02 509.44M93.44 511.56L95.57 509.44M97.99 511.56L100.11 509.44M102.53 511.56L104.66 509.44M107.08 511.56L109.2 509.44M111.62 511.56L113.74 509.44M116.17 511.56L118.29 509.44M79.81 516.16L81.93 514.04M84.36 516.16L86.48 514.04M88.9 516.16L91.02 514.04M93.44 516.16L95.57 514.04M97.99 516.16L100.11 514.04M102.53 516.16L104.66 514.04M107.08 516.16L109.2 514.04M111.62 516.16L113.74 514.04M116.17 516.16L118.29 514.04" stroke="#1a1000" stroke-opacity="0.32" stroke-width="0.55" fill="none"/>
<svg x="121.5" y="476" width="41.5" height="41.4" viewBox="0 0 100 100" preserveAspectRatio="none">
<rect x="-1" y="-1" width="102" height="102" fill="#bae38a"/>
<path d="M-5 25C-2.83 10.83 3 20.17 8 20C13 19.83 20.5 21.5 25 24C29.5 26.5 32.83 30.67 35 35C37.17 39.33 38.5 45.83 38 50C37.5 54.17 32 56.67 32 60C32 63.33 34.17 67.33 38 70C41.83 72.67 50.67 73.67 55 76C59.33 78.33 63.5 79.17 64 84C64.5 88.83 69.5 101.5 58 105C46.5 108.5 5.5 118.33 -5 105C-15.5 91.67 -7.17 39.17 -5 25Z" fill="#58c6f8"/>
<path d="M-5 48C-1.83 39.17 9.17 49 14 52C18.83 55 21.67 60.67 24 66C26.33 71.33 27.67 77.5 28 84C28.33 90.5 31.5 101.5 26 105C20.5 108.5 0.17 114.5 -5 105C-10.17 95.5 -8.17 56.83 -5 48Z" fill="#0b5ad2"/>
<path d="M48 -5C57.17 -9.17 95.5 -23.33 105 -5C114.5 13.33 109.17 86.67 105 105C100.83 123.33 85.5 107.83 80 105C74.5 102.17 75.33 93.5 72 88C68.67 82.5 64 76.67 60 72C56 67.33 50.5 65.33 48 60C45.5 54.67 44.67 46.67 45 40C45.33 33.33 49.5 27.5 50 20C50.5 12.5 38.83 -0.83 48 -5Z" fill="#ffce0a"/>
<path d="M68 -5C73.67 -8.33 98.83 -14.17 105 -5C111.17 4.17 107.5 40.5 105 50C102.5 59.5 95 52.33 90 52C85 51.67 78.33 50.83 75 48C71.67 45.17 70.67 40.5 70 35C69.33 29.5 71.33 21.67 71 15C70.67 8.33 62.33 -1.67 68 -5Z" fill="#f93a06"/>
<path d="M71 -5C76.17 -8.33 99.33 -13.67 105 -5C110.67 3.67 107.5 38 105 47C102.5 56 94.5 49.33 90 49C85.5 48.67 80.83 47.67 78 45C75.17 42.33 73.67 38 73 33C72.33 28 74.33 21.33 74 15C73.67 8.67 65.83 -1.67 71 -5Z" fill="#c80404"/>
<path d="M75 -5C79.67 -10.5 100 -12.83 105 -5C110 2.83 107.5 33.83 105 42C102.5 50.17 94 44.33 90 44C86 43.67 83.17 42.67 81 40C78.83 37.33 78 35.5 77 28C76 20.5 70.33 0.5 75 -5Z" fill="#870202"/>
<ellipse cx="74" cy="100" rx="3" ry="3" fill="#c80404"/>
</svg>
<path d="M125.23 477.84L122.38 478.76M129.84 477.84L126.99 478.76M134.45 477.84L131.6 478.76M139.07 477.84L136.21 478.76M143.68 477.84L140.82 478.76M148.29 477.84L145.43 478.76M152.9 477.84L150.05 478.76M157.51 477.84L154.66 478.76M162.12 477.84L159.27 478.76M125.26 482.54L122.35 483.26M129.87 482.54L126.96 483.26M134.48 482.54L131.57 483.26M139.09 482.54L136.18 483.26M143.71 482.54L140.79 483.26M148.32 482.54L145.41 483.26M152.93 482.54L150.02 483.26M157.54 482.54L154.63 483.26M162.15 482.54L159.24 483.26M125.28 487.24L122.33 487.76M129.89 487.24L126.94 487.76M134.5 487.24L131.55 487.76M139.12 487.24L136.16 487.76M143.73 487.24L140.77 487.76M148.34 487.24L145.38 487.76M152.95 487.24L150 487.76M157.56 487.24L154.61 487.76M162.17 487.24L159.22 487.76M125.3 491.94L122.31 492.26M129.91 491.94L126.92 492.26M134.52 491.94L131.54 492.26M139.13 491.94L136.15 492.26M143.74 491.94L140.76 492.26M148.35 491.94L145.37 492.26M152.96 491.94L149.98 492.26M157.58 491.94L154.59 492.26M162.19 491.94L159.2 492.26M125.3 496.65L122.31 496.75M129.92 496.65L126.92 496.75M134.53 496.65L131.53 496.75M139.14 496.65L136.14 496.75M143.75 496.65L140.75 496.75M148.36 496.65L145.36 496.75M152.97 496.65L149.97 496.75M157.58 496.65L154.58 496.75M162.19 496.65L159.2 496.75M125.3 501.35L122.31 501.25M129.92 501.35L126.92 501.25M134.53 501.35L131.53 501.25M139.14 501.35L136.14 501.25M143.75 501.35L140.75 501.25M148.36 501.35L145.36 501.25M152.97 501.35L149.97 501.25M157.58 501.35L154.58 501.25M162.19 501.35L159.2 501.25M125.3 506.06L122.31 505.74M129.91 506.06L126.92 505.74M134.52 506.06L131.54 505.74M139.13 506.06L136.15 505.74M143.74 506.06L140.76 505.74M148.35 506.06L145.37 505.74M152.96 506.06L149.98 505.74M157.58 506.06L154.59 505.74M162.19 506.06L159.2 505.74M125.28 510.76L122.33 510.24M129.89 510.76L126.94 510.24M134.5 510.76L131.55 510.24M139.12 510.76L136.16 510.24M143.73 510.76L140.77 510.24M148.34 510.76L145.38 510.24M152.95 510.76L150 510.24M157.56 510.76L154.61 510.24M162.17 510.76L159.22 510.24M125.26 515.46L122.35 514.74M129.87 515.46L126.96 514.74M134.48 515.46L131.57 514.74M139.09 515.46L136.18 514.74M143.71 515.46L140.79 514.74M148.32 515.46L145.41 514.74M152.93 515.46L150.02 514.74M157.54 515.46L154.63 514.74M162.15 515.46L159.24 514.74" stroke="#1a1000" stroke-opacity="0.32" stroke-width="0.55" fill="none"/>
<svg x="163" y="476" width="40" height="41.4" viewBox="0 0 100 100" preserveAspectRatio="none">
<rect x="-1" y="-1" width="102" height="102" fill="#bae38a"/>
<path d="M-5 -5C13.33 -18.33 86.67 -17.5 105 -5C123.33 7.5 109.5 56.5 105 70C100.5 83.5 86.83 75.5 78 76C69.17 76.5 60.33 73.83 52 73C43.67 72.17 37.5 70.67 28 71C18.5 71.33 0.5 87.67 -5 75C-10.5 62.33 -23.33 8.33 -5 -5Z" fill="#ffce0a"/>
<path d="M-5 -5C13.33 -10.5 86.67 -14.17 105 -5C123.33 4.17 108.17 41.5 105 50C101.83 58.5 92.17 48 86 46C79.83 44 74 39.83 68 38C62 36.17 55.67 35.67 50 35C44.33 34.33 38 35.17 34 34C30 32.83 29.67 29.33 26 28C22.33 26.67 17.17 26 12 26C6.83 26 -2.17 33.17 -5 28C-7.83 22.83 -23.33 0.5 -5 -5Z" fill="#f93a06"/>
<path d="M-5 -5C13.33 -8.17 86.67 -12.83 105 -5C123.33 2.83 108.5 35.33 105 42C101.5 48.67 91.17 37.33 84 35C76.83 32.67 69 30.83 62 28C55 25.17 48.17 20.33 42 18C35.83 15.67 32.83 14.67 25 14C17.17 13.33 0 17.17 -5 14C-10 10.83 -23.33 -1.83 -5 -5Z" fill="#c80404"/>
<path d="M40 -5C50 -6.83 94.17 -11 105 -5C115.83 1 108.5 27.17 105 31C101.5 34.83 91.17 21.5 84 18C76.83 14.5 68.5 12 62 10C55.5 8 48.67 8.5 45 6C41.33 3.5 30 -3.17 40 -5Z" fill="#870202"/>
<path d="M8 105C0 103.5 9.5 97.83 14 96C18.5 94.17 28.17 94 35 94C41.83 94 50.5 94.17 55 96C59.5 97.83 69.83 103.5 62 105C54.17 106.5 16 106.5 8 105Z" fill="#58c6f8"/>
</svg>
<path d="M165.78 479.69L164.66 476.91M170.08 479.74L169.25 476.86M174.37 479.78L173.85 476.82M178.65 479.8L178.46 476.8M182.92 479.8L183.08 476.8M187.2 479.78L187.69 476.82M191.49 479.75L192.29 476.85M195.79 479.7L196.88 476.9M200.1 479.64L201.45 476.96M165.85 484.26L164.6 481.54M170.13 484.33L169.2 481.47M174.4 484.37L173.82 481.43M178.66 484.4L178.45 481.4M182.91 484.4L183.09 481.4M187.17 484.37L187.72 481.43M191.44 484.33L192.34 481.47M195.72 484.27L196.94 481.53M200.03 484.2L201.52 481.6M165.92 488.83L164.52 486.17M170.2 488.9L169.14 486.1M174.45 488.96L173.77 486.04M178.68 489L178.43 486M182.9 489L183.1 486M187.13 488.97L187.76 486.03M191.38 488.91L192.4 486.09M195.65 488.83L197.02 486.17M199.95 488.75L201.61 486.25M166.02 493.37L164.43 490.83M170.28 493.47L169.05 490.73M174.51 493.55L173.72 490.65M178.7 493.59L178.41 490.61M182.88 493.6L183.12 490.6M187.07 493.55L187.81 490.65M191.3 493.48L192.48 490.72M195.56 493.38L197.11 490.82M199.85 493.28L201.7 490.92M166.13 497.89L164.31 495.51M170.39 498.02L168.95 495.38M174.58 498.12L173.64 495.28M178.73 498.19L178.38 495.21M182.86 498.19L183.14 495.21M187 498.13L187.89 495.27M191.19 498.03L192.59 495.37M195.44 497.91L197.23 495.49M199.74 497.78L201.81 495.62M166.27 502.37L164.17 500.23M170.53 502.53L168.8 500.07M174.7 502.68L173.52 499.92M178.78 502.78L178.33 499.82M182.82 502.79L183.18 499.81M186.89 502.69L188 499.91M191.05 502.54L192.73 500.06M195.3 502.39L197.37 500.21M199.61 502.25L201.94 500.35M166.43 506.78L164.01 505.02M170.72 506.97L168.61 504.83M174.88 507.19L173.34 504.61M178.87 507.37L178.24 504.43M182.74 507.38L183.26 504.42M186.71 507.21L188.18 504.59M190.86 506.99L192.92 504.81M195.13 506.8L197.53 505M199.48 506.65L202.07 505.15M166.6 511.1L163.85 509.9M170.95 511.28L168.39 509.72M175.17 511.56L173.05 509.44M179.06 511.91L178.05 509.09M182.58 511.94L183.42 509.06M186.42 511.6L188.47 509.4M190.62 511.3L193.16 509.7M194.97 511.12L197.7 509.88M199.36 510.99L202.19 510.01M166.71 515.32L163.74 514.88M171.14 515.4L168.2 514.8M175.53 515.58L172.69 514.62M179.65 516.13L177.46 514.07M182.02 516.23L183.98 513.97M186.03 515.6L188.86 514.6M190.42 515.41L193.36 514.79M194.85 515.32L197.82 514.88M199.29 515.27L202.27 514.93" stroke="#1a1000" stroke-opacity="0.32" stroke-width="0.55" fill="none"/>
<svg x="205" y="476" width="37.6" height="41.4" viewBox="0 0 100 100" preserveAspectRatio="none">
<rect x="-1" y="-1" width="102" height="102" fill="#c80404"/>
<path d="M65 -5C70.5 -6.5 98.33 -8.5 105 -5C111.67 -1.5 108.33 13.17 105 16C101.67 18.83 90.5 14 85 12C79.5 10 75.33 6.83 72 4C68.67 1.17 59.5 -3.5 65 -5Z" fill="#870202"/>
<path d="M-5 18C-1.83 3.17 7.67 15.33 14 16C20.33 16.67 26.67 20.33 33 22C39.33 23.67 46.33 23.67 52 26C57.67 28.33 63 32 67 36C71 40 73.17 45 76 50C78.83 55 81.83 60.5 84 66C86.17 71.5 87.33 76.5 89 83C90.67 89.5 109.67 101.33 94 105C78.33 108.67 11.5 119.5 -5 105C-21.5 90.5 -8.17 32.83 -5 18Z" fill="#f93a06"/>
<path d="M-5 44C-2.5 34.17 5.67 44.83 10 46C14.33 47.17 17.83 49.17 21 51C24.17 52.83 25 55.83 29 57C33 58.17 39.33 57.83 45 58C50.67 58.17 58.33 55.83 63 58C67.67 60.17 70 66.83 73 71C76 75.17 79.17 77.33 81 83C82.83 88.67 98.33 101.33 84 105C69.67 108.67 9.83 115.17 -5 105C-19.83 94.83 -7.5 53.83 -5 44Z" fill="#ffce0a"/>
<path d="M-5 84C-1.67 80.5 8.33 83.67 15 84C21.67 84.33 29.17 84.67 35 86C40.83 87.33 46.67 88.83 50 92C53.33 95.17 64.17 102.83 55 105C45.83 107.17 5 108.5 -5 105C-15 101.5 -8.33 87.5 -5 84Z" fill="#bae38a"/>
</svg>
<path d="M207.09 479.8L207.09 476.8M211.27 479.8L211.27 476.8M215.44 479.8L215.44 476.8M219.62 479.8L219.62 476.8M223.8 479.8L223.8 476.8M227.98 479.8L227.98 476.8M232.16 479.8L232.16 476.8M236.33 479.8L236.33 476.8M240.51 479.8L240.51 476.8M207.09 484.4L207.09 481.4M211.27 484.4L211.27 481.4M215.44 484.4L215.44 481.4M219.62 484.4L219.62 481.4M223.8 484.4L223.8 481.4M227.98 484.4L227.98 481.4M232.16 484.4L232.16 481.4M236.33 484.4L236.33 481.4M240.51 484.4L240.51 481.4M207.09 489L207.09 486M211.27 489L211.27 486M215.44 489L215.44 486M219.62 489L219.62 486M223.8 489L223.8 486M227.98 489L227.98 486M232.16 489L232.16 486M236.33 489L236.33 486M240.51 489L240.51 486M207.09 493.6L207.09 490.6M211.27 493.6L211.27 490.6M215.44 493.6L215.44 490.6M219.62 493.6L219.62 490.6M223.8 493.6L223.8 490.6M227.98 493.6L227.98 490.6M232.16 493.6L232.16 490.6M236.33 493.6L236.33 490.6M240.51 493.6L240.51 490.6M207.09 498.2L207.09 495.2M211.27 498.2L211.27 495.2M215.44 498.2L215.44 495.2M219.62 498.2L219.62 495.2M223.8 498.2L223.8 495.2M227.98 498.2L227.98 495.2M232.16 498.2L232.16 495.2M236.33 498.2L236.33 495.2M240.51 498.2L240.51 495.2M207.09 502.8L207.09 499.8M211.27 502.8L211.27 499.8M215.44 502.8L215.44 499.8M219.62 502.8L219.62 499.8M223.8 502.8L223.8 499.8M227.98 502.8L227.98 499.8M232.16 502.8L232.16 499.8M236.33 502.8L236.33 499.8M240.51 502.8L240.51 499.8M207.09 507.4L207.09 504.4M211.27 507.4L211.27 504.4M215.44 507.4L215.44 504.4M219.62 507.4L219.62 504.4M223.8 507.4L223.8 504.4M227.98 507.4L227.98 504.4M232.16 507.4L232.16 504.4M236.33 507.4L236.33 504.4M240.51 507.4L240.51 504.4M207.09 512L207.09 509M211.27 512L211.27 509M215.44 512L215.44 509M219.62 512L219.62 509M223.8 512L223.8 509M227.98 512L227.98 509M232.16 512L232.16 509M236.33 512L236.33 509M240.51 512L240.51 509M207.09 516.6L207.09 513.6M211.27 516.6L211.27 513.6M215.44 516.6L215.44 513.6M219.62 516.6L219.62 513.6M223.8 516.6L223.8 513.6M227.98 516.6L227.98 513.6M232.16 516.6L232.16 513.6M236.33 516.6L236.33 513.6M240.51 516.6L240.51 513.6" stroke="#1a1000" stroke-opacity="0.32" stroke-width="0.55" fill="none"/>
<svg x="242.6" y="476" width="39.8" height="41.4" viewBox="0 0 100 100" preserveAspectRatio="none">
<rect x="-1" y="-1" width="102" height="102" fill="#c80404"/>
<path d="M72 -5C75.5 -8.83 99.5 -12.83 105 -5C110.5 2.83 106.83 35.17 105 42C103.17 48.83 97.5 40 94 36C90.5 32 87.67 24.83 84 18C80.33 11.17 68.5 -1.17 72 -5Z" fill="#870202"/>
<path d="M-5 -5C6.83 -23.33 54 -8.33 66 -5C78 -1.67 66.83 8.33 67 15C67.17 21.67 66.83 28.33 67 35C67.17 41.67 67.83 48.83 68 55C68.17 61.17 68.67 67 68 72C67.33 77 64.33 79.5 64 85C63.67 90.5 77.5 101.67 66 105C54.5 108.33 6.83 123.33 -5 105C-16.83 86.67 -16.83 13.33 -5 -5Z" fill="#f93a06"/>
<path d="M-5 -5C3.5 -23.33 36.83 -8.33 46 -5C55.17 -1.67 49 8.33 50 15C51 21.67 51.33 28.33 52 35C52.67 41.67 53.33 49.17 54 55C54.67 60.83 56 65.83 56 70C56 74.17 54.67 74.17 54 80C53.33 85.83 61.83 100.83 52 105C42.17 109.17 4.5 123.33 -5 105C-14.5 86.67 -13.5 13.33 -5 -5Z" fill="#ffce0a"/>
<path d="M-5 -5C0.17 -12.83 20.17 -7.83 26 -5C31.83 -2.17 28.67 6.17 30 12C31.33 17.83 32.67 24.67 34 30C35.33 35.33 37 40 38 44C39 48 40.67 51 40 54C39.33 57 37.33 62.67 34 62C30.67 61.33 26.5 53.33 20 50C13.5 46.67 -0.83 51.17 -5 42C-9.17 32.83 -10.17 2.83 -5 -5Z" fill="#bae38a"/>
<path d="M-5 40C-2.5 29.83 5.83 42.33 10 44C14.17 45.67 16.67 47.67 20 50C23.33 52.33 27 55.33 30 58C33 60.67 35.67 62.67 38 66C40.33 69.33 42.67 73.67 44 78C45.33 82.33 46 87.5 46 92C46 96.5 52.5 102.83 44 105C35.5 107.17 3.17 115.83 -5 105C-13.17 94.17 -7.5 50.17 -5 40Z" fill="#58c6f8"/>
<path d="M-5 62C-2 55.33 8.33 62.83 13 65C17.67 67.17 19.67 71.67 23 75C26.33 78.33 30 82.33 33 85C36 87.67 39.5 87.67 41 91C42.5 94.33 49.67 102.67 42 105C34.33 107.33 2.83 112.17 -5 105C-12.83 97.83 -8 68.67 -5 62Z" fill="#0b5ad2"/>
<path d="M-5 82C-2.83 78.33 4.5 81.33 8 83C11.5 84.67 14.33 88.33 16 92C17.67 95.67 21.5 102.83 18 105C14.5 107.17 -1.17 108.83 -5 105C-8.83 101.17 -7.17 85.67 -5 82Z" fill="#062ca2"/>
</svg>
<path d="M244.06 479.6L245.56 477M248.48 479.6L249.98 477M252.91 479.6L254.41 477M257.33 479.6L258.83 477M261.75 479.6L263.25 477M266.17 479.6L267.67 477M270.59 479.6L272.09 477M275.02 479.6L276.52 477M279.44 479.6L280.94 477M244.06 484.2L245.56 481.6M248.48 484.2L249.98 481.6M252.91 484.2L254.41 481.6M257.33 484.2L258.83 481.6M261.75 484.2L263.25 481.6M266.17 484.2L267.67 481.6M270.59 484.2L272.09 481.6M275.02 484.2L276.52 481.6M279.44 484.2L280.94 481.6M244.06 488.8L245.56 486.2M248.48 488.8L249.98 486.2M252.91 488.8L254.41 486.2M257.33 488.8L258.83 486.2M261.75 488.8L263.25 486.2M266.17 488.8L267.67 486.2M270.59 488.8L272.09 486.2M275.02 488.8L276.52 486.2M279.44 488.8L280.94 486.2M244.06 493.4L245.56 490.8M248.48 493.4L249.98 490.8M252.91 493.4L254.41 490.8M257.33 493.4L258.83 490.8M261.75 493.4L263.25 490.8M266.17 493.4L267.67 490.8M270.59 493.4L272.09 490.8M275.02 493.4L276.52 490.8M279.44 493.4L280.94 490.8M244.06 498L245.56 495.4M248.48 498L249.98 495.4M252.91 498L254.41 495.4M257.33 498L258.83 495.4M261.75 498L263.25 495.4M266.17 498L267.67 495.4M270.59 498L272.09 495.4M275.02 498L276.52 495.4M279.44 498L280.94 495.4M244.06 502.6L245.56 500M248.48 502.6L249.98 500M252.91 502.6L254.41 500M257.33 502.6L258.83 500M261.75 502.6L263.25 500M266.17 502.6L267.67 500M270.59 502.6L272.09 500M275.02 502.6L276.52 500M279.44 502.6L280.94 500M244.06 507.2L245.56 504.6M248.48 507.2L249.98 504.6M252.91 507.2L254.41 504.6M257.33 507.2L258.83 504.6M261.75 507.2L263.25 504.6M266.17 507.2L267.67 504.6M270.59 507.2L272.09 504.6M275.02 507.2L276.52 504.6M279.44 507.2L280.94 504.6M244.06 511.8L245.56 509.2M248.48 511.8L249.98 509.2M252.91 511.8L254.41 509.2M257.33 511.8L258.83 509.2M261.75 511.8L263.25 509.2M266.17 511.8L267.67 509.2M270.59 511.8L272.09 509.2M275.02 511.8L276.52 509.2M279.44 511.8L280.94 509.2M244.06 516.4L245.56 513.8M248.48 516.4L249.98 513.8M252.91 516.4L254.41 513.8M257.33 516.4L258.83 513.8M261.75 516.4L263.25 513.8M266.17 516.4L267.67 513.8M270.59 516.4L272.09 513.8M275.02 516.4L276.52 513.8M279.44 516.4L280.94 513.8" stroke="#1a1000" stroke-opacity="0.32" stroke-width="0.55" fill="none"/>
<svg x="38.2" y="517.4" width="40.4" height="39.8" viewBox="0 0 100 100" preserveAspectRatio="none">
<rect x="-1" y="-1" width="102" height="102" fill="#c80404"/>
<path d="M62 -5C66.83 -8.17 97.83 -13.17 105 -5C112.17 3.17 107.5 38.5 105 44C102.5 49.5 94.83 33 90 28C85.17 23 80.67 19.5 76 14C71.33 8.5 57.17 -1.83 62 -5Z" fill="#870202"/>
<path d="M-5 -5C-3.33 -23.33 2.83 -7.17 5 -5C7.17 -2.83 6.33 4.17 8 8C9.67 11.83 10.5 15.17 15 18C19.5 20.83 28.83 22.33 35 25C41.17 27.67 47.33 30.5 52 34C56.67 37.5 59.67 41 63 46C66.33 51 69.17 57.67 72 64C74.83 70.33 77.67 77.17 80 84C82.33 90.83 100.17 101.5 86 105C71.83 108.5 10.17 123.33 -5 105C-20.17 86.67 -6.67 13.33 -5 -5Z" fill="#f93a06"/>
<path d="M-5 62C-1.17 55.67 10.83 64.67 18 67C25.17 69.33 32.33 73.17 38 76C43.67 78.83 48.67 79.17 52 84C55.33 88.83 67.5 101.5 58 105C48.5 108.5 5.5 112.17 -5 105C-15.5 97.83 -8.83 68.33 -5 62Z" fill="#ffce0a"/>
</svg>
<path d="M39.38 520.67L41.51 518.55M43.87 520.67L45.99 518.55M48.36 520.67L50.48 518.55M52.85 520.67L54.97 518.55M57.34 520.67L59.46 518.55M61.83 520.67L63.95 518.55M66.32 520.67L68.44 518.55M70.81 520.67L72.93 518.55M75.29 520.67L77.42 518.55M39.38 525.09L41.51 522.97M43.87 525.09L45.99 522.97M48.36 525.09L50.48 522.97M52.85 525.09L54.97 522.97M57.34 525.09L59.46 522.97M61.83 525.09L63.95 522.97M66.32 525.09L68.44 522.97M70.81 525.09L72.93 522.97M75.29 525.09L77.42 522.97M39.38 529.52L41.51 527.39M43.87 529.52L45.99 527.39M48.36 529.52L50.48 527.39M52.85 529.52L54.97 527.39M57.34 529.52L59.46 527.39M61.83 529.52L63.95 527.39M66.32 529.52L68.44 527.39M70.81 529.52L72.93 527.39M75.29 529.52L77.42 527.39M39.38 533.94L41.51 531.82M43.87 533.94L45.99 531.82M48.36 533.94L50.48 531.82M52.85 533.94L54.97 531.82M57.34 533.94L59.46 531.82M61.83 533.94L63.95 531.82M66.32 533.94L68.44 531.82M70.81 533.94L72.93 531.82M75.29 533.94L77.42 531.82M39.38 538.36L41.51 536.24M43.87 538.36L45.99 536.24M48.36 538.36L50.48 536.24M52.85 538.36L54.97 536.24M57.34 538.36L59.46 536.24M61.83 538.36L63.95 536.24M66.32 538.36L68.44 536.24M70.81 538.36L72.93 536.24M75.29 538.36L77.42 536.24M39.38 542.78L41.51 540.66M43.87 542.78L45.99 540.66M48.36 542.78L50.48 540.66M52.85 542.78L54.97 540.66M57.34 542.78L59.46 540.66M61.83 542.78L63.95 540.66M66.32 542.78L68.44 540.66M70.81 542.78L72.93 540.66M75.29 542.78L77.42 540.66M39.38 547.21L41.51 545.08M43.87 547.21L45.99 545.08M48.36 547.21L50.48 545.08M52.85 547.21L54.97 545.08M57.34 547.21L59.46 545.08M61.83 547.21L63.95 545.08M66.32 547.21L68.44 545.08M70.81 547.21L72.93 545.08M75.29 547.21L77.42 545.08M39.38 551.63L41.51 549.51M43.87 551.63L45.99 549.51M48.36 551.63L50.48 549.51M52.85 551.63L54.97 549.51M57.34 551.63L59.46 549.51M61.83 551.63L63.95 549.51M66.32 551.63L68.44 549.51M70.81 551.63L72.93 549.51M75.29 551.63L77.42 549.51M39.38 556.05L41.51 553.93M43.87 556.05L45.99 553.93M48.36 556.05L50.48 553.93M52.85 556.05L54.97 553.93M57.34 556.05L59.46 553.93M61.83 556.05L63.95 553.93M66.32 556.05L68.44 553.93M70.81 556.05L72.93 553.93M75.29 556.05L77.42 553.93" stroke="#1a1000" stroke-opacity="0.32" stroke-width="0.55" fill="none"/>
<svg x="78.6" y="517.4" width="40.9" height="39.8" viewBox="0 0 100 100" preserveAspectRatio="none">
<rect x="-1" y="-1" width="102" height="102" fill="#c80404"/>
<path d="M60 -5C65.67 -8.83 97.5 -14.83 105 -5C112.5 4.83 106.83 44.83 105 54C103.17 63.17 97.83 53 94 50C90.17 47 85.83 41.33 82 36C78.17 30.67 74.67 24.83 71 18C67.33 11.17 54.33 -1.17 60 -5Z" fill="#870202"/>
<path d="M-5 -5C-0.33 -23.33 15.5 -7.83 23 -5C30.5 -2.17 35.33 6.83 40 12C44.67 17.17 47.5 20.83 51 26C54.5 31.17 57.5 36.67 61 43C64.5 49.33 69.17 57.17 72 64C74.83 70.83 75.83 77.17 78 84C80.17 90.83 98.83 101.5 85 105C71.17 108.5 10 123.33 -5 105C-20 86.67 -9.67 13.33 -5 -5Z" fill="#f93a06"/>
<path d="M-5 18C-2.67 5.33 5.17 24.33 9 29C12.83 33.67 15 40.83 18 46C21 51.17 23.33 56 27 60C30.67 64 36 66 40 70C44 74 48.83 78.17 51 84C53.17 89.83 62.33 101.5 53 105C43.67 108.5 4.67 119.5 -5 105C-14.67 90.5 -7.33 30.67 -5 18Z" fill="#ffce0a"/>
<path d="M-5 80C-3 76.5 4.5 79.83 7 84C9.5 88.17 12 101.5 10 105C8 108.5 -2.5 109.17 -5 105C-7.5 100.83 -7 83.5 -5 80Z" fill="#bae38a"/>
<path d="M88 105C85.5 102.83 87.17 94.5 90 92C92.83 89.5 102.5 87.83 105 90C107.5 92.17 107.83 102.5 105 105C102.17 107.5 90.5 107.17 88 105Z" fill="#ffce0a"/>
</svg>
<path d="M79.81 520.67L81.93 518.55M84.36 520.67L86.48 518.55M88.9 520.67L91.02 518.55M93.44 520.67L95.57 518.55M97.99 520.67L100.11 518.55M102.53 520.67L104.66 518.55M107.08 520.67L109.2 518.55M111.62 520.67L113.74 518.55M116.17 520.67L118.29 518.55M79.81 525.09L81.93 522.97M84.36 525.09L86.48 522.97M88.9 525.09L91.02 522.97M93.44 525.09L95.57 522.97M97.99 525.09L100.11 522.97M102.53 525.09L104.66 522.97M107.08 525.09L109.2 522.97M111.62 525.09L113.74 522.97M116.17 525.09L118.29 522.97M79.81 529.52L81.93 527.39M84.36 529.52L86.48 527.39M88.9 529.52L91.02 527.39M93.44 529.52L95.57 527.39M97.99 529.52L100.11 527.39M102.53 529.52L104.66 527.39M107.08 529.52L109.2 527.39M111.62 529.52L113.74 527.39M116.17 529.52L118.29 527.39M79.81 533.94L81.93 531.82M84.36 533.94L86.48 531.82M88.9 533.94L91.02 531.82M93.44 533.94L95.57 531.82M97.99 533.94L100.11 531.82M102.53 533.94L104.66 531.82M107.08 533.94L109.2 531.82M111.62 533.94L113.74 531.82M116.17 533.94L118.29 531.82M79.81 538.36L81.93 536.24M84.36 538.36L86.48 536.24M88.9 538.36L91.02 536.24M93.44 538.36L95.57 536.24M97.99 538.36L100.11 536.24M102.53 538.36L104.66 536.24M107.08 538.36L109.2 536.24M111.62 538.36L113.74 536.24M116.17 538.36L118.29 536.24M79.81 542.78L81.93 540.66M84.36 542.78L86.48 540.66M88.9 542.78L91.02 540.66M93.44 542.78L95.57 540.66M97.99 542.78L100.11 540.66M102.53 542.78L104.66 540.66M107.08 542.78L109.2 540.66M111.62 542.78L113.74 540.66M116.17 542.78L118.29 540.66M79.81 547.21L81.93 545.08M84.36 547.21L86.48 545.08M88.9 547.21L91.02 545.08M93.44 547.21L95.57 545.08M97.99 547.21L100.11 545.08M102.53 547.21L104.66 545.08M107.08 547.21L109.2 545.08M111.62 547.21L113.74 545.08M116.17 547.21L118.29 545.08M79.81 551.63L81.93 549.51M84.36 551.63L86.48 549.51M88.9 551.63L91.02 549.51M93.44 551.63L95.57 549.51M97.99 551.63L100.11 549.51M102.53 551.63L104.66 549.51M107.08 551.63L109.2 549.51M111.62 551.63L113.74 549.51M116.17 551.63L118.29 549.51M79.81 556.05L81.93 553.93M84.36 556.05L86.48 553.93M88.9 556.05L91.02 553.93M93.44 556.05L95.57 553.93M97.99 556.05L100.11 553.93M102.53 556.05L104.66 553.93M107.08 556.05L109.2 553.93M111.62 556.05L113.74 553.93M116.17 556.05L118.29 553.93" stroke="#1a1000" stroke-opacity="0.32" stroke-width="0.55" fill="none"/>
<svg x="121.5" y="517.4" width="41.5" height="39.8" viewBox="0 0 100 100" preserveAspectRatio="none">
<rect x="-1" y="-1" width="102" height="102" fill="#bae38a"/>
<path d="M-5 15C-2.5 0.67 5.17 16.5 10 19C14.83 21.5 19.33 27 24 30C28.67 33 34.5 33.67 38 37C41.5 40.33 42.67 45.5 45 50C47.33 54.5 51.5 59.33 52 64C52.5 68.67 49.67 71.17 48 78C46.33 84.83 50.83 100.5 42 105C33.17 109.5 2.83 120 -5 105C-12.83 90 -7.5 29.33 -5 15Z" fill="#58c6f8"/>
<path d="M-5 56C-2.5 48.5 6 57 10 60C14 63 17 69.33 19 74C21 78.67 21.17 82.83 22 88C22.83 93.17 28.5 102.17 24 105C19.5 107.83 -0.17 113.17 -5 105C-9.83 96.83 -7.5 63.5 -5 56Z" fill="#0b5ad2"/>
<path d="M54 -5C62.17 -7.5 96.5 -23.33 105 -5C113.5 13.33 111.17 86.67 105 105C98.83 123.33 74.83 108.33 68 105C61.17 101.67 65.67 90.83 64 85C62.33 79.17 59.67 75.83 58 70C56.33 64.17 54.33 56.67 54 50C53.67 43.33 55.67 36.67 56 30C56.33 23.33 56.33 15.83 56 10C55.67 4.17 45.83 -2.5 54 -5Z" fill="#ffce0a"/>
<path d="M70 -5C75.83 -8.33 99.17 -17.5 105 -5C110.83 7.5 106.17 55.83 105 70C103.83 84.17 101.17 77.67 98 80C94.83 82.33 90 84 86 84C82 84 76.33 83 74 80C71.67 77 70.67 70 72 66C73.33 62 80 59.67 82 56C84 52.33 85.67 47.33 84 44C82.33 40.67 74.33 40.83 72 36C69.67 31.17 70.33 21.83 70 15C69.67 8.17 64.17 -1.67 70 -5Z" fill="#f93a06"/>
<path d="M72 -5C77.33 -8.33 99.5 -17.17 105 -5C110.5 7.17 106.5 54.17 105 68C103.5 81.83 99.17 75.83 96 78C92.83 80.17 89.33 81.17 86 81C82.67 80.83 77.83 79.5 76 77C74.17 74.5 73.5 69.17 75 66C76.5 62.83 83 62 85 58C87 54 88.67 46 87 42C85.33 38 77.33 38.5 75 34C72.67 29.5 73.5 21.5 73 15C72.5 8.5 66.67 -1.67 72 -5Z" fill="#c80404"/>
<path d="M76 0C80.5 -2.5 100.17 -10 105 0C109.83 10 107.17 50.33 105 60C102.83 69.67 94.5 61.33 92 58C89.5 54.67 92 44.33 90 40C88 35.67 82 36.17 80 32C78 27.83 78.67 20.33 78 15C77.33 9.67 71.5 2.5 76 0Z" fill="#870202"/>
<ellipse cx="81" cy="70" rx="4" ry="4" fill="#870202"/>
</svg>
<path d="M125.23 519.15L122.38 520.07M129.84 519.15L126.99 520.07M134.45 519.15L131.6 520.07M139.07 519.15L136.21 520.07M143.68 519.15L140.82 520.07M148.29 519.15L145.43 520.07M152.9 519.15L150.05 520.07M157.51 519.15L154.66 520.07M162.12 519.15L159.27 520.07M125.26 523.67L122.35 524.4M129.87 523.67L126.96 524.4M134.48 523.67L131.57 524.4M139.09 523.67L136.18 524.4M143.71 523.67L140.79 524.4M148.32 523.67L145.41 524.4M152.93 523.67L150.02 524.4M157.54 523.67L154.63 524.4M162.15 523.67L159.24 524.4M125.28 528.2L122.33 528.72M129.89 528.2L126.94 528.72M134.5 528.2L131.55 528.72M139.12 528.2L136.16 528.72M143.73 528.2L140.77 528.72M148.34 528.2L145.38 528.72M152.95 528.2L150 528.72M157.56 528.2L154.61 528.72M162.17 528.2L159.22 528.72M125.3 532.72L122.31 533.03M129.91 532.72L126.92 533.03M134.52 532.72L131.54 533.03M139.13 532.72L136.15 533.03M143.74 532.72L140.76 533.03M148.35 532.72L145.37 533.03M152.96 532.72L149.98 533.03M157.58 532.72L154.59 533.03M162.19 532.72L159.2 533.03M125.3 537.25L122.31 537.35M129.92 537.25L126.92 537.35M134.53 537.25L131.53 537.35M139.14 537.25L136.14 537.35M143.75 537.25L140.75 537.35M148.36 537.25L145.36 537.35M152.97 537.25L149.97 537.35M157.58 537.25L154.58 537.35M162.19 537.25L159.2 537.35M125.3 541.77L122.31 541.67M129.92 541.77L126.92 541.67M134.53 541.77L131.53 541.67M139.14 541.77L136.14 541.67M143.75 541.77L140.75 541.67M148.36 541.77L145.36 541.67M152.97 541.77L149.97 541.67M157.58 541.77L154.58 541.67M162.19 541.77L159.2 541.67M125.3 546.3L122.31 545.99M129.91 546.3L126.92 545.99M134.52 546.3L131.54 545.99M139.13 546.3L136.15 545.99M143.74 546.3L140.76 545.99M148.35 546.3L145.37 545.99M152.96 546.3L149.98 545.99M157.58 546.3L154.59 545.99M162.19 546.3L159.2 545.99M125.28 550.83L122.33 550.31M129.89 550.83L126.94 550.31M134.5 550.83L131.55 550.31M139.12 550.83L136.16 550.31M143.73 550.83L140.77 550.31M148.34 550.83L145.38 550.31M152.95 550.83L150 550.31M157.56 550.83L154.61 550.31M162.17 550.83L159.22 550.31M125.26 555.35L122.35 554.63M129.87 555.35L126.96 554.63M134.48 555.35L131.57 554.63M139.09 555.35L136.18 554.63M143.71 555.35L140.79 554.63M148.32 555.35L145.41 554.63M152.93 555.35L150.02 554.63M157.54 555.35L154.63 554.63M162.15 555.35L159.24 554.63" stroke="#1a1000" stroke-opacity="0.32" stroke-width="0.55" fill="none"/>
<svg x="163" y="517.4" width="40" height="39.8" viewBox="0 0 100 100" preserveAspectRatio="none">
<rect x="-1" y="-1" width="102" height="102" fill="#bae38a"/>
<path d="M-5 -5C13.33 -14.17 86.67 -17.83 105 -5C123.33 7.83 107.5 59.83 105 72C102.5 84.17 94.5 70 90 68C85.5 66 82.17 63 78 60C73.83 57 69.67 52.83 65 50C60.33 47.17 55.33 45.17 50 43C44.67 40.83 39.33 37.5 33 37C26.67 36.5 18.33 37.83 12 40C5.67 42.17 -2.17 57.5 -5 50C-7.83 42.5 -23.33 4.17 -5 -5Z" fill="#ffce0a"/>
<path d="M-5 -5C13.33 -10.17 86.67 -15.83 105 -5C123.33 5.83 107.5 50.17 105 60C102.5 69.83 94.5 56.83 90 54C85.5 51.17 82.67 46 78 43C73.33 40 67.17 38.83 62 36C56.83 33.17 51.83 28.83 47 26C42.17 23.17 38.83 20.17 33 19C27.17 17.83 18.33 17.83 12 19C5.67 20.17 -2.17 30 -5 26C-7.83 22 -23.33 0.17 -5 -5Z" fill="#f93a06"/>
<path d="M-5 -5C13.33 -7.83 86.67 -13.67 105 -5C123.33 3.67 108.17 39.5 105 47C101.83 54.5 92.17 43.5 86 40C79.83 36.5 73.33 30 68 26C62.67 22 59.83 18.67 54 16C48.17 13.33 40 10.67 33 10C26 9.33 18.33 11.67 12 12C5.67 12.33 -2.17 14.83 -5 12C-7.83 9.17 -23.33 -2.17 -5 -5Z" fill="#c80404"/>
<path d="M60 -5C66.5 -6.5 97.5 -11.83 105 -5C112.5 1.83 107.5 30.83 105 36C102.5 41.17 94.83 30 90 26C85.17 22 80 15.67 76 12C72 8.33 68.67 6.83 66 4C63.33 1.17 53.5 -3.5 60 -5Z" fill="#870202"/>
<path d="M8 105C-2.5 101.67 14.83 90.67 19 85C23.17 79.33 28.33 73.5 33 71C37.67 68.5 42.33 68.83 47 70C51.67 71.17 56.33 74.83 61 78C65.67 81.17 71.5 84.5 75 89C78.5 93.5 93.17 102.33 82 105C70.83 107.67 18.5 108.33 8 105Z" fill="#58c6f8"/>
</svg>
<path d="M165.8 520.99L164.64 518.23M170.1 521.05L169.23 518.17M174.38 521.09L173.84 518.14M178.65 521.11L178.46 518.11M182.92 521.11L183.08 518.11M187.19 521.09L187.7 518.13M191.47 521.05L192.31 518.17M195.77 521L196.9 518.22M200.08 520.94L201.48 518.28M165.87 525.39L164.58 522.68M170.15 525.45L169.18 522.61M174.42 525.5L173.81 522.56M178.67 525.53L178.45 522.54M182.91 525.53L183.09 522.54M187.16 525.51L187.73 522.56M191.42 525.46L192.36 522.61M195.7 525.39L196.96 522.67M200.01 525.32L201.55 522.75M165.94 529.77L164.5 527.14M170.22 529.85L169.12 527.06M174.46 529.91L173.76 527M178.68 529.95L178.43 526.96M182.9 529.95L183.1 526.96M187.12 529.92L187.77 526.99M191.36 529.86L192.42 527.05M195.63 529.78L197.04 527.13M199.93 529.69L201.63 527.22M166.04 534.14L164.41 531.62M170.3 534.24L169.03 531.52M174.52 534.32L173.7 531.43M178.71 534.37L178.41 531.39M182.88 534.37L183.12 531.38M187.06 534.33L187.83 531.43M191.28 534.25L192.5 531.51M195.53 534.15L197.13 531.61M199.83 534.04L201.72 531.71M166.15 538.48L164.29 536.12M170.41 538.6L168.92 536M174.6 538.72L173.62 535.88M178.74 538.79L178.37 535.81M182.85 538.79L183.15 535.81M186.98 538.73L187.91 535.87M191.17 538.62L192.61 535.98M195.42 538.49L197.25 536.11M199.72 538.36L201.84 536.24M166.29 542.77L164.15 540.67M170.55 542.93L168.78 540.51M174.72 543.09L173.5 540.35M178.79 543.2L178.32 540.24M182.81 543.21L183.19 540.23M186.87 543.11L188.02 540.34M191.03 542.95L192.75 540.5M195.28 542.79L197.39 540.66M199.6 542.65L201.96 540.8M166.45 547.01L163.99 545.28M170.74 547.19L168.59 545.1M174.9 547.42L173.32 544.87M178.88 547.61L178.23 544.68M182.73 547.62L183.27 544.67M186.69 547.44L188.2 544.85M190.84 547.21L192.94 545.08M195.12 547.02L197.55 545.27M199.47 546.88L202.09 545.41M166.6 551.15L163.84 549.99M170.96 551.32L168.37 549.81M175.19 551.61L173.03 549.53M179.07 551.97L178.04 549.16M182.57 552L183.43 549.13M186.4 551.64L188.49 549.49M190.61 551.35L193.17 549.79M194.96 551.16L197.71 549.97M199.36 551.04L202.2 550.09M166.71 555.2L163.74 554.78M171.14 555.28L168.19 554.7M175.54 555.45L172.68 554.53M179.67 556L177.44 553.98M181.99 556.1L184.01 553.88M186.03 555.48L188.86 554.5M190.42 555.29L193.36 554.69M194.85 555.2L197.82 554.77M199.29 555.16L202.27 554.82" stroke="#1a1000" stroke-opacity="0.32" stroke-width="0.55" fill="none"/>
<svg x="205" y="517.4" width="37.6" height="39.8" viewBox="0 0 100 100" preserveAspectRatio="none">
<rect x="-1" y="-1" width="102" height="102" fill="#c80404"/>
<path d="M58 -5C64.17 -6.5 97.17 -8.17 105 -5C112.83 -1.83 108.33 11.17 105 14C101.67 16.83 91.17 13.67 85 12C78.83 10.33 72.5 6.83 68 4C63.5 1.17 51.83 -3.5 58 -5Z" fill="#870202"/>
<path d="M-5 13C-1.17 -1.83 11 14.33 18 16C25 17.67 30.67 20.83 37 23C43.33 25.17 50.5 26.83 56 29C61.5 31.17 65.67 32.5 70 36C74.33 39.5 78.17 46 82 50C85.83 54 89.17 57.67 93 60C96.83 62.33 103 56.5 105 64C107 71.5 123.33 98.17 105 105C86.67 111.83 13.33 120.33 -5 105C-23.33 89.67 -8.83 27.83 -5 13Z" fill="#f93a06"/>
<path d="M-5 52C-1.17 43.5 10.5 52.67 18 54C25.5 55.33 33.67 59 40 60C46.33 61 51 59.5 56 60C61 60.5 65 61.33 70 63C75 64.67 80.17 67.5 86 70C91.83 72.5 101.83 72.17 105 78C108.17 83.83 123.33 100.5 105 105C86.67 109.5 13.33 113.83 -5 105C-23.33 96.17 -8.83 60.5 -5 52Z" fill="#ffce0a"/>
</svg>
<path d="M207.09 521.11L207.09 518.11M211.27 521.11L211.27 518.11M215.44 521.11L215.44 518.11M219.62 521.11L219.62 518.11M223.8 521.11L223.8 518.11M227.98 521.11L227.98 518.11M232.16 521.11L232.16 518.11M236.33 521.11L236.33 518.11M240.51 521.11L240.51 518.11M207.09 525.53L207.09 522.53M211.27 525.53L211.27 522.53M215.44 525.53L215.44 522.53M219.62 525.53L219.62 522.53M223.8 525.53L223.8 522.53M227.98 525.53L227.98 522.53M232.16 525.53L232.16 522.53M236.33 525.53L236.33 522.53M240.51 525.53L240.51 522.53M207.09 529.96L207.09 526.96M211.27 529.96L211.27 526.96M215.44 529.96L215.44 526.96M219.62 529.96L219.62 526.96M223.8 529.96L223.8 526.96M227.98 529.96L227.98 526.96M232.16 529.96L232.16 526.96M236.33 529.96L236.33 526.96M240.51 529.96L240.51 526.96M207.09 534.38L207.09 531.38M211.27 534.38L211.27 531.38M215.44 534.38L215.44 531.38M219.62 534.38L219.62 531.38M223.8 534.38L223.8 531.38M227.98 534.38L227.98 531.38M232.16 534.38L232.16 531.38M236.33 534.38L236.33 531.38M240.51 534.38L240.51 531.38M207.09 538.8L207.09 535.8M211.27 538.8L211.27 535.8M215.44 538.8L215.44 535.8M219.62 538.8L219.62 535.8M223.8 538.8L223.8 535.8M227.98 538.8L227.98 535.8M232.16 538.8L232.16 535.8M236.33 538.8L236.33 535.8M240.51 538.8L240.51 535.8M207.09 543.22L207.09 540.22M211.27 543.22L211.27 540.22M215.44 543.22L215.44 540.22M219.62 543.22L219.62 540.22M223.8 543.22L223.8 540.22M227.98 543.22L227.98 540.22M232.16 543.22L232.16 540.22M236.33 543.22L236.33 540.22M240.51 543.22L240.51 540.22M207.09 547.64L207.09 544.64M211.27 547.64L211.27 544.64M215.44 547.64L215.44 544.64M219.62 547.64L219.62 544.64M223.8 547.64L223.8 544.64M227.98 547.64L227.98 544.64M232.16 547.64L232.16 544.64M236.33 547.64L236.33 544.64M240.51 547.64L240.51 544.64M207.09 552.07L207.09 549.07M211.27 552.07L211.27 549.07M215.44 552.07L215.44 549.07M219.62 552.07L219.62 549.07M223.8 552.07L223.8 549.07M227.98 552.07L227.98 549.07M232.16 552.07L232.16 549.07M236.33 552.07L236.33 549.07M240.51 552.07L240.51 549.07M207.09 556.49L207.09 553.49M211.27 556.49L211.27 553.49M215.44 556.49L215.44 553.49M219.62 556.49L219.62 553.49M223.8 556.49L223.8 553.49M227.98 556.49L227.98 553.49M232.16 556.49L232.16 553.49M236.33 556.49L236.33 553.49M240.51 556.49L240.51 553.49" stroke="#1a1000" stroke-opacity="0.32" stroke-width="0.55" fill="none"/>
<svg x="242.6" y="517.4" width="39.8" height="39.8" viewBox="0 0 100 100" preserveAspectRatio="none">
<rect x="-1" y="-1" width="102" height="102" fill="#c80404"/>
<path d="M72 -5C75.5 -7.83 99.5 -12.5 105 -5C110.5 2.5 106.83 33.83 105 40C103.17 46.17 97.5 36.67 94 32C90.5 27.33 87.67 18.17 84 12C80.33 5.83 68.5 -2.17 72 -5Z" fill="#870202"/>
<path d="M-5 -5C6.17 -23.33 50.5 -8.33 62 -5C73.5 -1.67 63.67 8.33 64 15C64.33 21.67 63.67 28.33 64 35C64.33 41.67 65 49.17 66 55C67 60.83 69.33 65 70 70C70.67 75 69.67 79.17 70 85C70.33 90.83 84.5 101.67 72 105C59.5 108.33 7.83 123.33 -5 105C-17.83 86.67 -16.17 13.33 -5 -5Z" fill="#f93a06"/>
<path d="M-5 -5C3.5 -23.33 36.83 -8.33 46 -5C55.17 -1.67 49.33 8.33 50 15C50.67 21.67 49.33 28.33 50 35C50.67 41.67 52.33 49.17 54 55C55.67 60.83 59.33 65 60 70C60.67 75 58 79.17 58 85C58 90.83 70.5 101.67 60 105C49.5 108.33 5.83 123.33 -5 105C-15.83 86.67 -13.5 13.33 -5 -5Z" fill="#ffce0a"/>
<path d="M-5 4C-2.5 -2.33 5.17 2 10 2C14.83 2 20.33 1.67 24 4C27.67 6.33 29.67 11.33 32 16C34.33 20.67 36 26.67 38 32C40 37.33 42.33 42.67 44 48C45.67 53.33 48 58.67 48 64C48 69.33 45.33 74.83 44 80C42.67 85.17 42.33 98.33 40 95C37.67 91.67 37.5 69.17 30 60C22.5 50.83 0.83 49.33 -5 40C-10.83 30.67 -7.5 10.33 -5 4Z" fill="#bae38a"/>
<path d="M-5 36C-2.5 26.33 5.67 43 10 47C14.33 51 17.17 56.17 21 60C24.83 63.83 29.33 67 33 70C36.67 73 40.67 74.67 43 78C45.33 81.33 46.5 85.5 47 90C47.5 94.5 54.67 102.5 46 105C37.33 107.5 3.5 116.5 -5 105C-13.5 93.5 -7.5 45.67 -5 36Z" fill="#58c6f8"/>
<path d="M-5 54C-2.5 46.83 6.17 59 10 62C13.83 65 15.67 68.67 18 72C20.33 75.33 22.33 76.5 24 82C25.67 87.5 32.83 101.17 28 105C23.17 108.83 0.5 113.5 -5 105C-10.5 96.5 -7.5 61.17 -5 54Z" fill="#0b5ad2"/>
<ellipse cx="52" cy="98" rx="3" ry="3" fill="#0b5ad2"/>
</svg>
<path d="M244.06 520.91L245.56 518.31M248.48 520.91L249.98 518.31M252.91 520.91L254.41 518.31M257.33 520.91L258.83 518.31M261.75 520.91L263.25 518.31M266.17 520.91L267.67 518.31M270.59 520.91L272.09 518.31M275.02 520.91L276.52 518.31M279.44 520.91L280.94 518.31M244.06 525.33L245.56 522.73M248.48 525.33L249.98 522.73M252.91 525.33L254.41 522.73M257.33 525.33L258.83 522.73M261.75 525.33L263.25 522.73M266.17 525.33L267.67 522.73M270.59 525.33L272.09 522.73M275.02 525.33L276.52 522.73M279.44 525.33L280.94 522.73M244.06 529.75L245.56 527.16M248.48 529.75L249.98 527.16M252.91 529.75L254.41 527.16M257.33 529.75L258.83 527.16M261.75 529.75L263.25 527.16M266.17 529.75L267.67 527.16M270.59 529.75L272.09 527.16M275.02 529.75L276.52 527.16M279.44 529.75L280.94 527.16M244.06 534.18L245.56 531.58M248.48 534.18L249.98 531.58M252.91 534.18L254.41 531.58M257.33 534.18L258.83 531.58M261.75 534.18L263.25 531.58M266.17 534.18L267.67 531.58M270.59 534.18L272.09 531.58M275.02 534.18L276.52 531.58M279.44 534.18L280.94 531.58M244.06 538.6L245.56 536M248.48 538.6L249.98 536M252.91 538.6L254.41 536M257.33 538.6L258.83 536M261.75 538.6L263.25 536M266.17 538.6L267.67 536M270.59 538.6L272.09 536M275.02 538.6L276.52 536M279.44 538.6L280.94 536M244.06 543.02L245.56 540.42M248.48 543.02L249.98 540.42M252.91 543.02L254.41 540.42M257.33 543.02L258.83 540.42M261.75 543.02L263.25 540.42M266.17 543.02L267.67 540.42M270.59 543.02L272.09 540.42M275.02 543.02L276.52 540.42M279.44 543.02L280.94 540.42M244.06 547.44L245.56 544.85M248.48 547.44L249.98 544.85M252.91 547.44L254.41 544.85M257.33 547.44L258.83 544.85M261.75 547.44L263.25 544.85M266.17 547.44L267.67 544.85M270.59 547.44L272.09 544.85M275.02 547.44L276.52 544.85M279.44 547.44L280.94 544.85M244.06 551.87L245.56 549.27M248.48 551.87L249.98 549.27M252.91 551.87L254.41 549.27M257.33 551.87L258.83 549.27M261.75 551.87L263.25 549.27M266.17 551.87L267.67 549.27M270.59 551.87L272.09 549.27M275.02 551.87L276.52 549.27M279.44 551.87L280.94 549.27M244.06 556.29L245.56 553.69M248.48 556.29L249.98 553.69M252.91 556.29L254.41 553.69M257.33 556.29L258.83 553.69M261.75 556.29L263.25 553.69M266.17 556.29L267.67 553.69M270.59 556.29L272.09 553.69M275.02 556.29L276.52 553.69M279.44 556.29L280.94 553.69" stroke="#1a1000" stroke-opacity="0.32" stroke-width="0.55" fill="none"/>
</g>
<rect x="38.2" y="393.45" width="244.2" height="0.7" fill="#ffb0a0" fill-opacity="0.55"/>
<rect x="38.2" y="434.45" width="244.2" height="0.7" fill="#ffb0a0" fill-opacity="0.55"/>
<rect x="38.2" y="475.65" width="244.2" height="0.7" fill="#ffb0a0" fill-opacity="0.55"/>
<rect x="38.2" y="517.05" width="244.2" height="0.7" fill="#ffb0a0" fill-opacity="0.55"/>
<rect x="78.25" y="354.4" width="0.7" height="202.8" fill="#ffb0a0" fill-opacity="0.55"/>
<rect x="162.65" y="354.4" width="0.7" height="202.8" fill="#ffb0a0" fill-opacity="0.55"/>
<rect x="242.25" y="354.4" width="0.7" height="202.8" fill="#ffb0a0" fill-opacity="0.55"/>
<rect x="119.5" y="354.4" width="2" height="202.8" fill="#000"/>
<rect x="203" y="354.4" width="2" height="202.8" fill="#000"/>
<text x="55.3" y="567.6" font-size="7" font-family="Liberation Sans, sans-serif" text-anchor="middle" fill="#111" stroke="#111" stroke-width="0.15">mouse 1</text>
<text x="97.3" y="567.6" font-size="7" font-family="Liberation Sans, sans-serif" text-anchor="middle" fill="#111" stroke="#111" stroke-width="0.15">mouse 2</text>
<text x="139" y="567.6" font-size="7" font-family="Liberation Sans, sans-serif" text-anchor="middle" fill="#111" stroke="#111" stroke-width="0.15">mouse 1</text>
<text x="180.8" y="567.6" font-size="7" font-family="Liberation Sans, sans-serif" text-anchor="middle" fill="#111" stroke="#111" stroke-width="0.15">mouse 2</text>
<text x="222.5" y="567.6" font-size="7" font-family="Liberation Sans, sans-serif" text-anchor="middle" fill="#111" stroke="#111" stroke-width="0.15">mouse 1</text>
<text x="264" y="567.6" font-size="7" font-family="Liberation Sans, sans-serif" text-anchor="middle" fill="#111" stroke="#111" stroke-width="0.15">mouse 2</text>
<rect x="36.2" y="576.8" width="89.8" height="12.6" fill="#fff" stroke="#555" stroke-width="0.8"/>
<rect x="38.8" y="577.2" width="10.78" height="11.8" fill="#870202"/>
<rect x="49.38" y="577.2" width="10.78" height="11.8" fill="#c80404"/>
<rect x="59.95" y="577.2" width="10.78" height="11.8" fill="#f93a06"/>
<rect x="70.53" y="577.2" width="10.78" height="11.8" fill="#ffce0a"/>
<rect x="81.1" y="577.2" width="10.78" height="11.8" fill="#bae38a"/>
<rect x="91.68" y="577.2" width="10.78" height="11.8" fill="#58c6f8"/>
<rect x="102.25" y="577.2" width="10.78" height="11.8" fill="#0b5ad2"/>
<rect x="112.83" y="577.2" width="10.78" height="11.8" fill="#062ca2"/>
<text x="39.8" y="598.9" font-size="10.6" font-family="Liberation Sans, sans-serif" text-anchor="start" fill="#222">0</text>
<text x="113.6" y="598.9" font-size="10.6" font-family="Liberation Sans, sans-serif" text-anchor="start" fill="#222">15</text>
<text x="132.8" y="586.1" font-size="11.05" font-family="Liberation Sans, sans-serif" text-anchor="start" fill="#333">Activation Time (ms)</text>
<rect x="359.4" y="165.6" width="18" height="49.4" fill="#17a01c"/>
<rect x="387" y="133" width="18" height="82" fill="#0e33c8"/>
<rect x="414.4" y="134.4" width="18" height="80.6" fill="#f71405"/>
<path d="M368.4 159V172M363.6 159H373.2M363.6 172H373.2" stroke="#000" stroke-width="0.9" fill="none"/>
<path d="M396 126.6V139.4M391.2 126.6H400.8M391.2 139.4H400.8" stroke="#000" stroke-width="0.9" fill="none"/>
<path d="M423.4 130.4V138M418.6 130.4H428.2M418.6 138H428.2" stroke="#000" stroke-width="0.9" fill="none"/>
<circle cx="368.4" cy="142" r="1.25" fill="#000"/>
<circle cx="367.4" cy="148.4" r="1.25" fill="#000"/>
<circle cx="369.4" cy="149.2" r="1.25" fill="#000"/>
<circle cx="368.4" cy="153.2" r="1.25" fill="#000"/>
<circle cx="368.4" cy="174" r="1.25" fill="#000"/>
<circle cx="368.4" cy="178.6" r="1.25" fill="#000"/>
<circle cx="366" cy="186" r="1.25" fill="#000"/>
<circle cx="371" cy="186" r="1.25" fill="#000"/>
<circle cx="368.4" cy="166" r="1.25" fill="#000"/>
<circle cx="395.6" cy="89.6" r="1.25" fill="#000"/>
<circle cx="393" cy="99.6" r="1.25" fill="#000"/>
<circle cx="398.4" cy="99.6" r="1.25" fill="#000"/>
<circle cx="395.6" cy="107.2" r="1.25" fill="#000"/>
<circle cx="395.6" cy="117.8" r="1.25" fill="#000"/>
<circle cx="395.6" cy="129" r="1.25" fill="#000"/>
<circle cx="393" cy="135" r="1.25" fill="#000"/>
<circle cx="398.4" cy="135" r="1.25" fill="#000"/>
<circle cx="390.4" cy="139" r="1.25" fill="#000"/>
<circle cx="395.6" cy="141" r="1.25" fill="#000"/>
<circle cx="401" cy="140.6" r="1.25" fill="#000"/>
<circle cx="393" cy="151.4" r="1.25" fill="#000"/>
<circle cx="398" cy="152.6" r="1.25" fill="#000"/>
<circle cx="393" cy="158.6" r="1.25" fill="#000"/>
<circle cx="398" cy="159.4" r="1.25" fill="#000"/>
<circle cx="395.6" cy="168.6" r="1.25" fill="#000"/>
<circle cx="423.2" cy="117" r="1.25" fill="#000"/>
<circle cx="420.6" cy="123" r="1.25" fill="#000"/>
<circle cx="425.6" cy="123" r="1.25" fill="#000"/>
<circle cx="420.6" cy="125.4" r="1.25" fill="#000"/>
<circle cx="426" cy="125" r="1.25" fill="#000"/>
<circle cx="423.2" cy="130" r="1.25" fill="#000"/>
<circle cx="423.2" cy="142" r="1.25" fill="#000"/>
<circle cx="420.6" cy="146.6" r="1.25" fill="#000"/>
<circle cx="425.6" cy="146.6" r="1.25" fill="#000"/>
<circle cx="423.2" cy="153.6" r="1.25" fill="#000"/>
<path d="M350.6 77V215.6M345 215H441.4" stroke="#000" stroke-width="1.2" fill="none"/>
<path d="M345 77.6H350.6" stroke="#000" stroke-width="1.2"/>
<text x="342.8" y="81.01" font-size="9.6" font-family="Liberation Sans, sans-serif" font-weight="bold" text-anchor="end" fill="#000">3</text>
<path d="M345 123.4H350.6" stroke="#000" stroke-width="1.2"/>
<text x="342.8" y="126.81" font-size="9.6" font-family="Liberation Sans, sans-serif" font-weight="bold" text-anchor="end" fill="#000">2</text>
<path d="M345 169.2H350.6" stroke="#000" stroke-width="1.2"/>
<text x="342.8" y="172.61" font-size="9.6" font-family="Liberation Sans, sans-serif" font-weight="bold" text-anchor="end" fill="#000">1</text>
<text x="342.8" y="218.41" font-size="9.6" font-family="Liberation Sans, sans-serif" font-weight="bold" text-anchor="end" fill="#000">0</text>
<path d="M368.4 215V220.6" stroke="#000" stroke-width="1.2"/>
<path d="M396 215V220.6" stroke="#000" stroke-width="1.2"/>
<path d="M423.4 215V220.6" stroke="#000" stroke-width="1.2"/>
<text x="371.4" y="229.5" font-size="10.7" font-family="Liberation Sans, sans-serif" font-weight="bold" text-anchor="end" fill="#000" transform="rotate(-45 371.4 229.5)">Control</text>
<text x="399" y="229.5" font-size="10.7" font-family="Liberation Sans, sans-serif" font-weight="bold" text-anchor="end" fill="#000" transform="rotate(-45 399 229.5)">Vehicle</text>
<text x="426.4" y="229.5" font-size="10.7" font-family="Liberation Sans, sans-serif" font-weight="bold" text-anchor="end" fill="#000" transform="rotate(-45 426.4 229.5)">CSF1R</text>
<text x="328.2" y="146.5" font-size="10.8" font-family="Liberation Sans, sans-serif" font-weight="bold" text-anchor="middle" fill="#000" transform="rotate(-90 328.2 146.5)">Sinus AT (ms)</text>
<path d="M368 46H423.6M368 73.4H396.6" stroke="#000" stroke-width="1.3"/>
<text x="396.1" y="46.3" font-size="20" font-family="Liberation Sans, sans-serif" font-weight="bold" text-anchor="middle" fill="#000">**</text>
<text x="382.3" y="73.8" font-size="20" font-family="Liberation Sans, sans-serif" font-weight="bold" text-anchor="middle" fill="#000">**</text>
<rect x="537.4" y="157.4" width="18" height="57.4" fill="#1da046"/>
<rect x="565" y="131.6" width="17.8" height="83.2" fill="#2e50ac"/>
<rect x="592" y="134" width="18" height="80.8" fill="#e82d22"/>
<path d="M546.6 150.6V164.4M541.8 150.6H551.4M541.8 164.4H551.4" stroke="#000" stroke-width="0.9" fill="none"/>
<path d="M574 125V137M569.2 125H578.8M569.2 137H578.8" stroke="#000" stroke-width="0.9" fill="none"/>
<path d="M601 129.4V138M596.2 129.4H605.8M596.2 138H605.8" stroke="#000" stroke-width="0.9" fill="none"/>
<circle cx="546.6" cy="129.6" r="1.25" fill="#000"/>
<circle cx="546.6" cy="132.2" r="1.25" fill="#000"/>
<circle cx="546.6" cy="148.4" r="1.25" fill="#000"/>
<circle cx="546.6" cy="154.6" r="1.25" fill="#000"/>
<circle cx="546.6" cy="163.4" r="1.25" fill="#000"/>
<circle cx="546.6" cy="169" r="1.25" fill="#000"/>
<circle cx="546.6" cy="175.6" r="1.25" fill="#000"/>
<circle cx="546.6" cy="186" r="1.25" fill="#000"/>
<circle cx="573.6" cy="88.4" r="1.25" fill="#000"/>
<circle cx="573.6" cy="93" r="1.25" fill="#000"/>
<circle cx="573.6" cy="95.6" r="1.25" fill="#000"/>
<circle cx="573.6" cy="98.4" r="1.25" fill="#000"/>
<circle cx="573.6" cy="107" r="1.25" fill="#000"/>
<circle cx="573.6" cy="118.6" r="1.25" fill="#000"/>
<circle cx="568.6" cy="123" r="1.25" fill="#000"/>
<circle cx="573.6" cy="137" r="1.25" fill="#000"/>
<circle cx="568.6" cy="141" r="1.25" fill="#000"/>
<circle cx="574" cy="142" r="1.25" fill="#000"/>
<circle cx="568.6" cy="151.4" r="1.25" fill="#000"/>
<circle cx="573.6" cy="152" r="1.25" fill="#000"/>
<circle cx="579" cy="151.4" r="1.25" fill="#000"/>
<circle cx="571" cy="158.6" r="1.25" fill="#000"/>
<circle cx="576" cy="158.6" r="1.25" fill="#000"/>
<circle cx="568.6" cy="160" r="1.25" fill="#000"/>
<circle cx="601" cy="105" r="1.25" fill="#000"/>
<circle cx="600.6" cy="124.4" r="1.25" fill="#000"/>
<circle cx="606.4" cy="123.2" r="1.25" fill="#000"/>
<circle cx="601" cy="137" r="1.25" fill="#000"/>
<circle cx="596" cy="141" r="1.25" fill="#000"/>
<circle cx="601" cy="141" r="1.25" fill="#000"/>
<circle cx="606" cy="142" r="1.25" fill="#000"/>
<circle cx="601" cy="154" r="1.25" fill="#000"/>
<path d="M528.4 78V215.4M522.8 214.8H618" stroke="#000" stroke-width="1.2" fill="none"/>
<path d="M522.8 78.6H528.4" stroke="#000" stroke-width="1.2"/>
<text x="520.6" y="82.01" font-size="9.6" font-family="Liberation Sans, sans-serif" font-weight="bold" text-anchor="end" fill="#000">5</text>
<path d="M522.8 105.9H528.4" stroke="#000" stroke-width="1.2"/>
<text x="520.6" y="109.31" font-size="9.6" font-family="Liberation Sans, sans-serif" font-weight="bold" text-anchor="end" fill="#000">4</text>
<path d="M522.8 133.1H528.4" stroke="#000" stroke-width="1.2"/>
<text x="520.6" y="136.51" font-size="9.6" font-family="Liberation Sans, sans-serif" font-weight="bold" text-anchor="end" fill="#000">3</text>
<path d="M522.8 160.3H528.4" stroke="#000" stroke-width="1.2"/>
<text x="520.6" y="163.71" font-size="9.6" font-family="Liberation Sans, sans-serif" font-weight="bold" text-anchor="end" fill="#000">2</text>
<path d="M522.8 187.6H528.4" stroke="#000" stroke-width="1.2"/>
<text x="520.6" y="191.01" font-size="9.6" font-family="Liberation Sans, sans-serif" font-weight="bold" text-anchor="end" fill="#000">1</text>
<text x="520.6" y="218.21" font-size="9.6" font-family="Liberation Sans, sans-serif" font-weight="bold" text-anchor="end" fill="#000">0</text>
<path d="M546.6 214.8V220.4" stroke="#000" stroke-width="1.2"/>
<path d="M574 214.8V220.4" stroke="#000" stroke-width="1.2"/>
<path d="M601 214.8V220.4" stroke="#000" stroke-width="1.2"/>
<text x="549.6" y="229.3" font-size="10.7" font-family="Liberation Sans, sans-serif" font-weight="bold" text-anchor="end" fill="#000" transform="rotate(-45 549.6 229.3)">Control</text>
<text x="577" y="229.3" font-size="10.7" font-family="Liberation Sans, sans-serif" font-weight="bold" text-anchor="end" fill="#000" transform="rotate(-45 577 229.3)">Vehicle</text>
<text x="604" y="229.3" font-size="10.7" font-family="Liberation Sans, sans-serif" font-weight="bold" text-anchor="end" fill="#000" transform="rotate(-45 604 229.3)">CSF1R</text>
<text x="505.6" y="146" font-size="10.8" font-family="Liberation Sans, sans-serif" font-weight="bold" text-anchor="middle" fill="#000" transform="rotate(-90 505.6 146)">Sinus AT Dispersion (ms)</text>
<path d="M546 72.4H574.4" stroke="#000" stroke-width="1.3"/>
<text x="560.5" y="72.8" font-size="20" font-family="Liberation Sans, sans-serif" font-weight="bold" text-anchor="middle" fill="#000">*</text>
<rect x="335.4" y="473.4" width="15.6" height="59" fill="#17a01c"/>
<rect x="359.4" y="458" width="16" height="74.4" fill="#0e33c8"/>
<rect x="383.6" y="459" width="15.8" height="73.4" fill="#f71405"/>
<path d="M343.2 468V478M338.4 468H348M338.4 478H348" stroke="#000" stroke-width="0.9" fill="none"/>
<path d="M367 453.6V461M362.2 453.6H371.8M362.2 461H371.8" stroke="#000" stroke-width="0.9" fill="none"/>
<path d="M391.2 452.6V464.6M386.4 452.6H396M386.4 464.6H396" stroke="#000" stroke-width="0.9" fill="none"/>
<circle cx="343.2" cy="456.6" r="1.25" fill="#000"/>
<circle cx="343.2" cy="460" r="1.25" fill="#000"/>
<circle cx="343.2" cy="465.4" r="1.25" fill="#000"/>
<circle cx="341.6" cy="475" r="1.25" fill="#000"/>
<circle cx="345" cy="475" r="1.25" fill="#000"/>
<circle cx="343.2" cy="483" r="1.25" fill="#000"/>
<circle cx="343.2" cy="498" r="1.25" fill="#000"/>
<circle cx="367" cy="430" r="1.25" fill="#000"/>
<circle cx="367" cy="433.6" r="1.25" fill="#000"/>
<circle cx="367" cy="444.6" r="1.25" fill="#000"/>
<circle cx="372" cy="443" r="1.25" fill="#000"/>
<circle cx="362" cy="453.4" r="1.25" fill="#000"/>
<circle cx="372" cy="453.4" r="1.25" fill="#000"/>
<circle cx="367" cy="455" r="1.25" fill="#000"/>
<circle cx="364.4" cy="466" r="1.25" fill="#000"/>
<circle cx="369.6" cy="466" r="1.25" fill="#000"/>
<circle cx="364.4" cy="473.4" r="1.25" fill="#000"/>
<circle cx="372" cy="472" r="1.25" fill="#000"/>
<circle cx="367" cy="479" r="1.25" fill="#000"/>
<circle cx="364.4" cy="480.6" r="1.25" fill="#000"/>
<circle cx="369.6" cy="480" r="1.25" fill="#000"/>
<circle cx="391.4" cy="426" r="1.25" fill="#000"/>
<circle cx="391.4" cy="443" r="1.25" fill="#000"/>
<circle cx="391.4" cy="448.6" r="1.25" fill="#000"/>
<circle cx="389" cy="469.4" r="1.25" fill="#000"/>
<circle cx="393.6" cy="469.4" r="1.25" fill="#000"/>
<circle cx="391.4" cy="475" r="1.25" fill="#000"/>
<circle cx="391.4" cy="483" r="1.25" fill="#000"/>
<path d="M327.6 411V533M322 532.4H407" stroke="#000" stroke-width="1.2" fill="none"/>
<path d="M322 411.6H327.6" stroke="#000" stroke-width="1.2"/>
<text x="319.8" y="414.76" font-size="8.9" font-family="Liberation Sans, sans-serif" font-weight="bold" text-anchor="end" fill="#000">15</text>
<path d="M322 452H327.6" stroke="#000" stroke-width="1.2"/>
<text x="319.8" y="455.16" font-size="8.9" font-family="Liberation Sans, sans-serif" font-weight="bold" text-anchor="end" fill="#000">10</text>
<path d="M322 492.2H327.6" stroke="#000" stroke-width="1.2"/>
<text x="319.8" y="495.36" font-size="8.9" font-family="Liberation Sans, sans-serif" font-weight="bold" text-anchor="end" fill="#000">5</text>
<text x="319.8" y="535.56" font-size="8.9" font-family="Liberation Sans, sans-serif" font-weight="bold" text-anchor="end" fill="#000">0</text>
<path d="M343.2 532.4V538" stroke="#000" stroke-width="1.2"/>
<path d="M367 532.4V538" stroke="#000" stroke-width="1.2"/>
<path d="M391.2 532.4V538" stroke="#000" stroke-width="1.2"/>
<text x="345.9" y="546.4" font-size="9.85" font-family="Liberation Sans, sans-serif" font-weight="bold" text-anchor="end" fill="#000" transform="rotate(-45 345.9 546.4)">Control</text>
<text x="369.7" y="546.4" font-size="9.85" font-family="Liberation Sans, sans-serif" font-weight="bold" text-anchor="end" fill="#000" transform="rotate(-45 369.7 546.4)">Vehicle</text>
<text x="393.9" y="546.4" font-size="9.85" font-family="Liberation Sans, sans-serif" font-weight="bold" text-anchor="end" fill="#000" transform="rotate(-45 393.9 546.4)">CSF1R</text>
<text x="303.3" y="472.5" font-size="9.5" font-family="Liberation Sans, sans-serif" font-weight="bold" text-anchor="middle" fill="#000" transform="rotate(-90 303.3 472.5)">Paced AT (ms)</text>
<rect x="455.8" y="473.4" width="15.6" height="59" fill="#1da046"/>
<rect x="479.8" y="458" width="16" height="74.4" fill="#2e50ac"/>
<rect x="504" y="459" width="15.8" height="73.4" fill="#e82d22"/>
<path d="M463.6 468V478M458.8 468H468.4M458.8 478H468.4" stroke="#000" stroke-width="0.9" fill="none"/>
<path d="M487.4 453.6V461M482.6 453.6H492.2M482.6 461H492.2" stroke="#000" stroke-width="0.9" fill="none"/>
<path d="M511.6 452.6V464.6M506.8 452.6H516.4M506.8 464.6H516.4" stroke="#000" stroke-width="0.9" fill="none"/>
<circle cx="463.6" cy="456.6" r="1.25" fill="#000"/>
<circle cx="463.6" cy="460" r="1.25" fill="#000"/>
<circle cx="463.6" cy="465.4" r="1.25" fill="#000"/>
<circle cx="462" cy="475" r="1.25" fill="#000"/>
<circle cx="465.4" cy="475" r="1.25" fill="#000"/>
<circle cx="463.6" cy="483" r="1.25" fill="#000"/>
<circle cx="463.6" cy="498" r="1.25" fill="#000"/>
<circle cx="487.4" cy="430" r="1.25" fill="#000"/>
<circle cx="487.4" cy="433.6" r="1.25" fill="#000"/>
<circle cx="487.4" cy="444.6" r="1.25" fill="#000"/>
<circle cx="492.4" cy="443" r="1.25" fill="#000"/>
<circle cx="482.4" cy="453.4" r="1.25" fill="#000"/>
<circle cx="492.4" cy="453.4" r="1.25" fill="#000"/>
<circle cx="487.4" cy="455" r="1.25" fill="#000"/>
<circle cx="484.8" cy="466" r="1.25" fill="#000"/>
<circle cx="490" cy="466" r="1.25" fill="#000"/>
<circle cx="484.8" cy="473.4" r="1.25" fill="#000"/>
<circle cx="492.4" cy="472" r="1.25" fill="#000"/>
<circle cx="487.4" cy="479" r="1.25" fill="#000"/>
<circle cx="484.8" cy="480.6" r="1.25" fill="#000"/>
<circle cx="490" cy="480" r="1.25" fill="#000"/>
<circle cx="511.8" cy="426" r="1.25" fill="#000"/>
<circle cx="511.8" cy="443" r="1.25" fill="#000"/>
<circle cx="511.8" cy="448.6" r="1.25" fill="#000"/>
<circle cx="509.4" cy="469.4" r="1.25" fill="#000"/>
<circle cx="514" cy="469.4" r="1.25" fill="#000"/>
<circle cx="511.8" cy="475" r="1.25" fill="#000"/>
<circle cx="511.8" cy="483" r="1.25" fill="#000"/>
<path d="M448 411V533M442.4 532.4H527.4" stroke="#000" stroke-width="1.2" fill="none"/>
<path d="M442.4 411.6H448" stroke="#000" stroke-width="1.2"/>
<text x="440.2" y="414.76" font-size="8.9" font-family="Liberation Sans, sans-serif" font-weight="bold" text-anchor="end" fill="#000">15</text>
<path d="M442.4 452H448" stroke="#000" stroke-width="1.2"/>
<text x="440.2" y="455.16" font-size="8.9" font-family="Liberation Sans, sans-serif" font-weight="bold" text-anchor="end" fill="#000">10</text>
<path d="M442.4 492.2H448" stroke="#000" stroke-width="1.2"/>
<text x="440.2" y="495.36" font-size="8.9" font-family="Liberation Sans, sans-serif" font-weight="bold" text-anchor="end" fill="#000">5</text>
<text x="440.2" y="535.56" font-size="8.9" font-family="Liberation Sans, sans-serif" font-weight="bold" text-anchor="end" fill="#000">0</text>
<path d="M463.6 532.4V538" stroke="#000" stroke-width="1.2"/>
<path d="M487.4 532.4V538" stroke="#000" stroke-width="1.2"/>
<path d="M511.6 532.4V538" stroke="#000" stroke-width="1.2"/>
<text x="466.3" y="546.4" font-size="9.85" font-family="Liberation Sans, sans-serif" font-weight="bold" text-anchor="end" fill="#000" transform="rotate(-45 466.3 546.4)">Control</text>
<text x="490.1" y="546.4" font-size="9.85" font-family="Liberation Sans, sans-serif" font-weight="bold" text-anchor="end" fill="#000" transform="rotate(-45 490.1 546.4)">Vehicle</text>
<text x="514.3" y="546.4" font-size="9.85" font-family="Liberation Sans, sans-serif" font-weight="bold" text-anchor="end" fill="#000" transform="rotate(-45 514.3 546.4)">CSF1R</text>
<text x="424.7" y="467.5" font-size="9.5" font-family="Liberation Sans, sans-serif" font-weight="bold" text-anchor="middle" fill="#000" transform="rotate(-90 424.7 467.5)">Paced AT Dispersion (ms)</text>
<rect x="577.4" y="471.6" width="16" height="61" fill="#17a01c"/>
<rect x="601.6" y="484" width="16" height="48.6" fill="#0e33c8"/>
<rect x="626" y="475" width="15.6" height="57.6" fill="#f71405"/>
<path d="M585.4 465.4V478M580.6 465.4H590.2M580.6 478H590.2" stroke="#000" stroke-width="0.9" fill="none"/>
<path d="M609.6 481V487M604.8 481H614.4M604.8 487H614.4" stroke="#000" stroke-width="0.9" fill="none"/>
<path d="M633.6 469.4V481M628.8 469.4H638.4M628.8 481H638.4" stroke="#000" stroke-width="0.9" fill="none"/>
<circle cx="585.4" cy="438.4" r="1.25" fill="#000"/>
<circle cx="585.4" cy="453" r="1.25" fill="#000"/>
<circle cx="583" cy="475" r="1.25" fill="#000"/>
<circle cx="588" cy="476.6" r="1.25" fill="#000"/>
<circle cx="585.4" cy="481.4" r="1.25" fill="#000"/>
<circle cx="585.4" cy="487" r="1.25" fill="#000"/>
<circle cx="585.4" cy="494" r="1.25" fill="#000"/>
<circle cx="609.6" cy="454" r="1.25" fill="#000"/>
<circle cx="607" cy="469" r="1.25" fill="#000"/>
<circle cx="612" cy="469" r="1.25" fill="#000"/>
<circle cx="609.6" cy="477" r="1.25" fill="#000"/>
<circle cx="614" cy="476" r="1.25" fill="#000"/>
<circle cx="605" cy="482" r="1.25" fill="#000"/>
<circle cx="607" cy="486" r="1.25" fill="#000"/>
<circle cx="612" cy="486" r="1.25" fill="#000"/>
<circle cx="605" cy="492" r="1.25" fill="#000"/>
<circle cx="609.6" cy="493" r="1.25" fill="#000"/>
<circle cx="614" cy="492" r="1.25" fill="#000"/>
<circle cx="607" cy="498" r="1.25" fill="#000"/>
<circle cx="612" cy="498.6" r="1.25" fill="#000"/>
<circle cx="615" cy="498" r="1.25" fill="#000"/>
<circle cx="605" cy="500" r="1.25" fill="#000"/>
<circle cx="633.6" cy="444.4" r="1.25" fill="#000"/>
<circle cx="633.6" cy="451" r="1.25" fill="#000"/>
<circle cx="631" cy="467" r="1.25" fill="#000"/>
<circle cx="636" cy="466" r="1.25" fill="#000"/>
<circle cx="633.6" cy="472" r="1.25" fill="#000"/>
<circle cx="633.6" cy="481" r="1.25" fill="#000"/>
<circle cx="633.6" cy="487" r="1.25" fill="#000"/>
<circle cx="633.6" cy="494" r="1.25" fill="#000"/>
<circle cx="633.6" cy="503" r="1.25" fill="#000"/>
<path d="M569.4 411V533.2M563.8 532.6H649" stroke="#000" stroke-width="1.2" fill="none"/>
<path d="M563.8 411.6H569.4" stroke="#000" stroke-width="1.2"/>
<text x="561.6" y="414.76" font-size="8.9" font-family="Liberation Sans, sans-serif" font-weight="bold" text-anchor="end" fill="#000">0.8</text>
<path d="M563.8 441.9H569.4" stroke="#000" stroke-width="1.2"/>
<text x="561.6" y="445.06" font-size="8.9" font-family="Liberation Sans, sans-serif" font-weight="bold" text-anchor="end" fill="#000">0.6</text>
<path d="M563.8 472.1H569.4" stroke="#000" stroke-width="1.2"/>
<text x="561.6" y="475.26" font-size="8.9" font-family="Liberation Sans, sans-serif" font-weight="bold" text-anchor="end" fill="#000">0.4</text>
<path d="M563.8 502.4H569.4" stroke="#000" stroke-width="1.2"/>
<text x="561.6" y="505.56" font-size="8.9" font-family="Liberation Sans, sans-serif" font-weight="bold" text-anchor="end" fill="#000">0.2</text>
<text x="561.6" y="535.76" font-size="8.9" font-family="Liberation Sans, sans-serif" font-weight="bold" text-anchor="end" fill="#000">0.0</text>
<path d="M585.4 532.6V538.2" stroke="#000" stroke-width="1.2"/>
<path d="M609.6 532.6V538.2" stroke="#000" stroke-width="1.2"/>
<path d="M633.6 532.6V538.2" stroke="#000" stroke-width="1.2"/>
<text x="588.1" y="546.6" font-size="9.85" font-family="Liberation Sans, sans-serif" font-weight="bold" text-anchor="end" fill="#000" transform="rotate(-45 588.1 546.6)">Control</text>
<text x="612.3" y="546.6" font-size="9.85" font-family="Liberation Sans, sans-serif" font-weight="bold" text-anchor="end" fill="#000" transform="rotate(-45 612.3 546.6)">Vehicle</text>
<text x="636.3" y="546.6" font-size="9.85" font-family="Liberation Sans, sans-serif" font-weight="bold" text-anchor="end" fill="#000" transform="rotate(-45 636.3 546.6)">CSF1R</text>
<text x="543.3" y="472" font-size="9.6" font-family="Liberation Sans, sans-serif" font-weight="bold" text-anchor="middle" fill="#000" transform="rotate(-90 543.3 472)">CV (mm/ms)</text>
</svg></body></html>
